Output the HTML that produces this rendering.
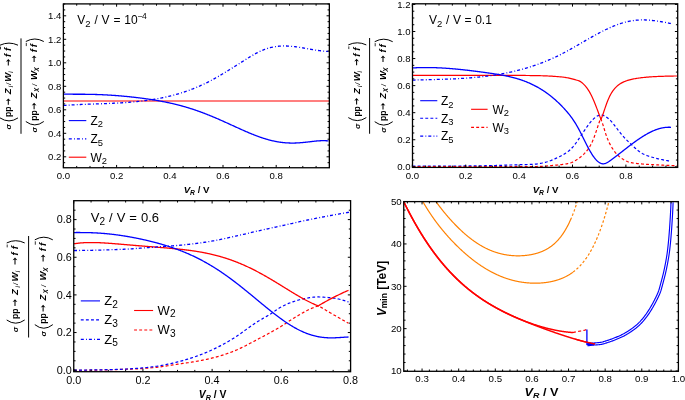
<!DOCTYPE html>
<html><head><meta charset="utf-8"><style>
html,body{margin:0;padding:0;background:#fff;width:685px;height:400px;overflow:hidden}
svg{display:block;will-change:transform}
text{font-family:"Liberation Sans", sans-serif;fill:#000}
</style></head><body>
<svg width="685" height="400" viewBox="0 0 685 400">
<rect width="685" height="400" fill="#fff"/>
<path d="M63.5,100.9 L329,100.9" fill="none" stroke="#ff0000" stroke-width="1.05" stroke-linejoin="round"/>
<path d="M63.5,94.1 L64,94.12 L64.5,94.13 L65,94.14 L65.5,94.15 L66,94.16 L66.5,94.17 L67,94.18 L67.5,94.19 L68,94.19 L68.5,94.2 L69,94.2 L69.5,94.21 L70,94.21 L70.5,94.21 L71,94.22 L71.5,94.22 L72,94.22 L72.5,94.22 L73,94.23 L73.5,94.23 L74,94.23 L74.5,94.23 L75,94.23 L75.5,94.23 L76,94.23 L76.5,94.23 L77,94.23 L77.5,94.24 L78,94.24 L78.5,94.24 L79,94.24 L79.5,94.24 L80,94.24 L80.5,94.24 L81,94.25 L81.5,94.25 L82,94.25 L82.5,94.25 L83,94.26 L83.5,94.26 L84,94.26 L84.5,94.27 L85,94.27 L85.5,94.28 L86,94.28 L86.5,94.29 L87,94.3 L87.5,94.3 L88,94.31 L88.5,94.32 L89,94.33 L89.5,94.33 L90,94.34 L90.5,94.35 L91,94.36 L91.5,94.37 L92,94.38 L92.5,94.4 L93,94.41 L93.5,94.42 L94,94.43 L94.5,94.45 L95,94.46 L95.5,94.48 L96,94.49 L96.5,94.51 L97,94.52 L97.5,94.54 L98,94.56 L98.5,94.58 L99,94.59 L99.5,94.61 L100,94.63 L100.5,94.65 L101,94.67 L101.5,94.7 L102,94.72 L102.5,94.74 L103,94.76 L103.5,94.79 L104,94.81 L104.5,94.84 L105,94.86 L105.5,94.89 L106,94.91 L106.5,94.94 L107,94.97 L107.5,95 L108,95.03 L108.5,95.06 L109,95.09 L109.5,95.12 L110,95.15 L110.5,95.18 L111,95.21 L111.5,95.24 L112,95.28 L112.5,95.31 L113,95.34 L113.5,95.38 L114,95.41 L114.5,95.45 L115,95.49 L115.5,95.52 L116,95.56 L116.5,95.6 L117,95.64 L117.5,95.68 L118,95.72 L118.5,95.76 L119,95.8 L119.5,95.84 L120,95.88 L120.5,95.92 L121,95.96 L121.5,96.01 L122,96.05 L122.5,96.1 L123,96.14 L123.5,96.19 L124,96.23 L124.5,96.28 L125,96.32 L125.5,96.37 L126,96.42 L126.5,96.47 L127,96.52 L127.5,96.57 L128,96.62 L128.5,96.67 L129,96.72 L129.5,96.77 L130,96.82 L130.5,96.87 L131,96.93 L131.5,96.98 L132,97.03 L132.5,97.09 L133,97.14 L133.5,97.2 L134,97.25 L134.5,97.31 L135,97.37 L135.5,97.43 L136,97.48 L136.5,97.54 L137,97.6 L137.5,97.66 L138,97.72 L138.5,97.78 L139,97.85 L139.5,97.91 L140,97.97 L140.5,98.03 L141,98.1 L141.5,98.16 L142,98.23 L142.5,98.29 L143,98.36 L143.5,98.43 L144,98.49 L144.5,98.56 L145,98.63 L145.5,98.7 L146,98.77 L146.5,98.84 L147,98.91 L147.5,98.98 L148,99.06 L148.5,99.13 L149,99.21 L149.5,99.28 L150,99.36 L150.5,99.43 L151,99.51 L151.5,99.59 L152,99.66 L152.5,99.74 L153,99.82 L153.5,99.9 L154,99.99 L154.5,100.07 L155,100.15 L155.5,100.23 L156,100.32 L156.5,100.4 L157,100.49 L157.5,100.58 L158,100.66 L158.5,100.75 L159,100.84 L159.5,100.93 L160,101.02 L160.5,101.12 L161,101.21 L161.5,101.3 L162,101.4 L162.5,101.49 L163,101.59 L163.5,101.69 L164,101.78 L164.5,101.88 L165,101.98 L165.5,102.08 L166,102.19 L166.5,102.29 L167,102.39 L167.5,102.5 L168,102.6 L168.5,102.71 L169,102.82 L169.5,102.93 L170,103.04 L170.5,103.15 L171,103.26 L171.5,103.37 L172,103.49 L172.5,103.6 L173,103.72 L173.5,103.84 L174,103.96 L174.5,104.07 L175,104.2 L175.5,104.32 L176,104.44 L176.5,104.56 L177,104.69 L177.5,104.82 L178,104.94 L178.5,105.07 L179,105.2 L179.5,105.33 L180,105.46 L180.5,105.6 L181,105.73 L181.5,105.87 L182,106 L182.5,106.14 L183,106.28 L183.5,106.42 L184,106.56 L184.5,106.7 L185,106.85 L185.5,106.99 L186,107.14 L186.5,107.29 L187,107.44 L187.5,107.59 L188,107.74 L188.5,107.89 L189,108.04 L189.5,108.2 L190,108.35 L190.5,108.51 L191,108.67 L191.5,108.83 L192,108.99 L192.5,109.15 L193,109.32 L193.5,109.48 L194,109.65 L194.5,109.81 L195,109.98 L195.5,110.15 L196,110.32 L196.5,110.5 L197,110.67 L197.5,110.84 L198,111.02 L198.5,111.2 L199,111.37 L199.5,111.55 L200,111.73 L200.5,111.92 L201,112.1 L201.5,112.28 L202,112.47 L202.5,112.65 L203,112.84 L203.5,113.03 L204,113.22 L204.5,113.41 L205,113.6 L205.5,113.8 L206,113.99 L206.5,114.19 L207,114.38 L207.5,114.58 L208,114.78 L208.5,114.98 L209,115.18 L209.5,115.38 L210,115.59 L210.5,115.79 L211,115.99 L211.5,116.2 L212,116.41 L212.5,116.61 L213,116.82 L213.5,117.03 L214,117.24 L214.5,117.45 L215,117.67 L215.5,117.88 L216,118.09 L216.5,118.31 L217,118.52 L217.5,118.74 L218,118.96 L218.5,119.17 L219,119.39 L219.5,119.61 L220,119.83 L220.5,120.05 L221,120.27 L221.5,120.49 L222,120.72 L222.5,120.94 L223,121.16 L223.5,121.39 L224,121.61 L224.5,121.84 L225,122.06 L225.5,122.29 L226,122.51 L226.5,122.74 L227,122.97 L227.5,123.19 L228,123.42 L228.5,123.65 L229,123.88 L229.5,124.1 L230,124.33 L230.5,124.56 L231,124.79 L231.5,125.02 L232,125.25 L232.5,125.48 L233,125.7 L233.5,125.93 L234,126.16 L234.5,126.39 L235,126.62 L235.5,126.85 L236,127.07 L236.5,127.3 L237,127.53 L237.5,127.76 L238,127.98 L238.5,128.21 L239,128.44 L239.5,128.66 L240,128.89 L240.5,129.11 L241,129.34 L241.5,129.56 L242,129.78 L242.5,130.01 L243,130.23 L243.5,130.45 L244,130.67 L244.5,130.89 L245,131.11 L245.5,131.32 L246,131.54 L246.5,131.76 L247,131.97 L247.5,132.19 L248,132.4 L248.5,132.61 L249,132.82 L249.5,133.03 L250,133.24 L250.5,133.45 L251,133.65 L251.5,133.86 L252,134.06 L252.5,134.26 L253,134.46 L253.5,134.66 L254,134.86 L254.5,135.05 L255,135.25 L255.5,135.44 L256,135.63 L256.5,135.82 L257,136.01 L257.5,136.19 L258,136.38 L258.5,136.56 L259,136.74 L259.5,136.92 L260,137.09 L260.5,137.27 L261,137.44 L261.5,137.61 L262,137.78 L262.5,137.94 L263,138.11 L263.5,138.27 L264,138.43 L264.5,138.58 L265,138.74 L265.5,138.89 L266,139.04 L266.5,139.19 L267,139.33 L267.5,139.48 L268,139.62 L268.5,139.76 L269,139.89 L269.5,140.02 L270,140.15 L270.5,140.28 L271,140.41 L271.5,140.53 L272,140.65 L272.5,140.76 L273,140.88 L273.5,140.99 L274,141.1 L274.5,141.2 L275,141.31 L275.5,141.41 L276,141.5 L276.5,141.6 L277,141.69 L277.5,141.78 L278,141.86 L278.5,141.95 L279,142.03 L279.5,142.1 L280,142.18 L280.5,142.25 L281,142.32 L281.5,142.38 L282,142.44 L282.5,142.5 L283,142.56 L283.5,142.61 L284,142.66 L284.5,142.71 L285,142.75 L285.5,142.79 L286,142.83 L286.5,142.86 L287,142.89 L287.5,142.92 L288,142.95 L288.5,142.97 L289,142.99 L289.5,143.01 L290,143.02 L290.5,143.04 L291,143.04 L291.5,143.05 L292,143.05 L292.5,143.05 L293,143.05 L293.5,143.05 L294,143.04 L294.5,143.03 L295,143.02 L295.5,143 L296,142.98 L296.5,142.96 L297,142.94 L297.5,142.91 L298,142.89 L298.5,142.86 L299,142.83 L299.5,142.79 L300,142.76 L300.5,142.72 L301,142.68 L301.5,142.64 L302,142.59 L302.5,142.55 L303,142.5 L303.5,142.45 L304,142.41 L304.5,142.35 L305,142.3 L305.5,142.25 L306,142.19 L306.5,142.14 L307,142.08 L307.5,142.03 L308,141.97 L308.5,141.91 L309,141.85 L309.5,141.79 L310,141.74 L310.5,141.68 L311,141.62 L311.5,141.56 L312,141.5 L312.5,141.44 L313,141.39 L313.5,141.33 L314,141.28 L314.5,141.22 L315,141.17 L315.5,141.12 L316,141.07 L316.5,141.02 L317,140.97 L317.5,140.93 L318,140.89 L318.5,140.85 L319,140.82 L319.5,140.78 L320,140.75 L320.5,140.73 L321,140.7 L321.5,140.68 L322,140.67 L322.5,140.66 L323,140.65 L323.5,140.65 L324,140.66 L324.5,140.66 L325,140.68 L325.5,140.7 L326,140.73 L326.5,140.76 L327,140.8 L327.5,140.84 L328,140.9 L328.5,140.96" fill="none" stroke="#0000ff" stroke-width="1.3" stroke-linejoin="round"/>
<path d="M63.5,105.45 L64,105.42 L64.5,105.38 L65,105.35 L65.5,105.31 L66,105.28 L66.5,105.25 L67,105.22 L67.5,105.19 L68,105.15 L68.5,105.12 L69,105.09 L69.5,105.06 L70,105.03 L70.5,105.01 L71,104.98 L71.5,104.95 L72,104.92 L72.5,104.9 L73,104.87 L73.5,104.84 L74,104.82 L74.5,104.79 L75,104.77 L75.5,104.74 L76,104.72 L76.5,104.69 L77,104.67 L77.5,104.65 L78,104.62 L78.5,104.6 L79,104.58 L79.5,104.56 L80,104.54 L80.5,104.51 L81,104.49 L81.5,104.47 L82,104.45 L82.5,104.43 L83,104.41 L83.5,104.39 L84,104.37 L84.5,104.35 L85,104.33 L85.5,104.31 L86,104.29 L86.5,104.27 L87,104.26 L87.5,104.24 L88,104.22 L88.5,104.2 L89,104.18 L89.5,104.16 L90,104.15 L90.5,104.13 L91,104.11 L91.5,104.09 L92,104.07 L92.5,104.06 L93,104.04 L93.5,104.02 L94,104 L94.5,103.99 L95,103.97 L95.5,103.95 L96,103.93 L96.5,103.92 L97,103.9 L97.5,103.88 L98,103.86 L98.5,103.85 L99,103.83 L99.5,103.81 L100,103.79 L100.5,103.77 L101,103.75 L101.5,103.74 L102,103.72 L102.5,103.7 L103,103.68 L103.5,103.66 L104,103.64 L104.5,103.62 L105,103.6 L105.5,103.58 L106,103.56 L106.5,103.54 L107,103.52 L107.5,103.5 L108,103.48 L108.5,103.46 L109,103.44 L109.5,103.42 L110,103.4 L110.5,103.38 L111,103.35 L111.5,103.33 L112,103.31 L112.5,103.28 L113,103.26 L113.5,103.24 L114,103.21 L114.5,103.19 L115,103.16 L115.5,103.14 L116,103.11 L116.5,103.09 L117,103.06 L117.5,103.03 L118,103 L118.5,102.98 L119,102.95 L119.5,102.92 L120,102.89 L120.5,102.86 L121,102.83 L121.5,102.8 L122,102.77 L122.5,102.74 L123,102.71 L123.5,102.67 L124,102.64 L124.5,102.61 L125,102.57 L125.5,102.54 L126,102.5 L126.5,102.47 L127,102.43 L127.5,102.39 L128,102.35 L128.5,102.32 L129,102.28 L129.5,102.24 L130,102.2 L130.5,102.16 L131,102.11 L131.5,102.07 L132,102.03 L132.5,101.98 L133,101.94 L133.5,101.9 L134,101.85 L134.5,101.8 L135,101.76 L135.5,101.71 L136,101.66 L136.5,101.61 L137,101.56 L137.5,101.51 L138,101.46 L138.5,101.4 L139,101.35 L139.5,101.3 L140,101.24 L140.5,101.19 L141,101.13 L141.5,101.07 L142,101.01 L142.5,100.95 L143,100.89 L143.5,100.83 L144,100.77 L144.5,100.71 L145,100.64 L145.5,100.58 L146,100.51 L146.5,100.44 L147,100.38 L147.5,100.31 L148,100.24 L148.5,100.17 L149,100.1 L149.5,100.02 L150,99.95 L150.5,99.88 L151,99.8 L151.5,99.72 L152,99.65 L152.5,99.57 L153,99.49 L153.5,99.41 L154,99.32 L154.5,99.24 L155,99.16 L155.5,99.07 L156,98.98 L156.5,98.9 L157,98.81 L157.5,98.72 L158,98.63 L158.5,98.53 L159,98.44 L159.5,98.35 L160,98.25 L160.5,98.15 L161,98.05 L161.5,97.96 L162,97.85 L162.5,97.75 L163,97.65 L163.5,97.54 L164,97.44 L164.5,97.33 L165,97.22 L165.5,97.11 L166,97 L166.5,96.89 L167,96.78 L167.5,96.66 L168,96.55 L168.5,96.43 L169,96.31 L169.5,96.19 L170,96.07 L170.5,95.94 L171,95.82 L171.5,95.69 L172,95.57 L172.5,95.44 L173,95.31 L173.5,95.17 L174,95.04 L174.5,94.91 L175,94.77 L175.5,94.63 L176,94.49 L176.5,94.35 L177,94.21 L177.5,94.07 L178,93.92 L178.5,93.77 L179,93.63 L179.5,93.48 L180,93.32 L180.5,93.17 L181,93.02 L181.5,92.86 L182,92.7 L182.5,92.54 L183,92.38 L183.5,92.22 L184,92.06 L184.5,91.89 L185,91.72 L185.5,91.55 L186,91.38 L186.5,91.21 L187,91.03 L187.5,90.86 L188,90.68 L188.5,90.5 L189,90.32 L189.5,90.14 L190,89.95 L190.5,89.77 L191,89.58 L191.5,89.39 L192,89.2 L192.5,89 L193,88.81 L193.5,88.61 L194,88.41 L194.5,88.21 L195,88.01 L195.5,87.8 L196,87.59 L196.5,87.39 L197,87.18 L197.5,86.96 L198,86.75 L198.5,86.53 L199,86.31 L199.5,86.1 L200,85.87 L200.5,85.65 L201,85.42 L201.5,85.2 L202,84.97 L202.5,84.73 L203,84.5 L203.5,84.27 L204,84.03 L204.5,83.79 L205,83.55 L205.5,83.3 L206,83.06 L206.5,82.81 L207,82.56 L207.5,82.31 L208,82.05 L208.5,81.8 L209,81.54 L209.5,81.28 L210,81.02 L210.5,80.75 L211,80.49 L211.5,80.22 L212,79.95 L212.5,79.68 L213,79.41 L213.5,79.14 L214,78.86 L214.5,78.58 L215,78.31 L215.5,78.03 L216,77.74 L216.5,77.46 L217,77.18 L217.5,76.89 L218,76.6 L218.5,76.32 L219,76.03 L219.5,75.74 L220,75.44 L220.5,75.15 L221,74.86 L221.5,74.56 L222,74.26 L222.5,73.97 L223,73.67 L223.5,73.37 L224,73.07 L224.5,72.76 L225,72.46 L225.5,72.16 L226,71.85 L226.5,71.55 L227,71.24 L227.5,70.93 L228,70.63 L228.5,70.32 L229,70.01 L229.5,69.7 L230,69.39 L230.5,69.08 L231,68.77 L231.5,68.46 L232,68.14 L232.5,67.83 L233,67.52 L233.5,67.2 L234,66.89 L234.5,66.58 L235,66.26 L235.5,65.95 L236,65.63 L236.5,65.32 L237,65 L237.5,64.69 L238,64.37 L238.5,64.06 L239,63.74 L239.5,63.43 L240,63.11 L240.5,62.79 L241,62.48 L241.5,62.16 L242,61.85 L242.5,61.53 L243,61.22 L243.5,60.9 L244,60.59 L244.5,60.28 L245,59.96 L245.5,59.65 L246,59.34 L246.5,59.03 L247,58.71 L247.5,58.4 L248,58.09 L248.5,57.78 L249,57.47 L249.5,57.17 L250,56.86 L250.5,56.56 L251,56.25 L251.5,55.95 L252,55.66 L252.5,55.36 L253,55.07 L253.5,54.78 L254,54.49 L254.5,54.21 L255,53.93 L255.5,53.65 L256,53.38 L256.5,53.11 L257,52.84 L257.5,52.58 L258,52.32 L258.5,52.07 L259,51.82 L259.5,51.58 L260,51.34 L260.5,51.11 L261,50.89 L261.5,50.67 L262,50.45 L262.5,50.24 L263,50.04 L263.5,49.84 L264,49.65 L264.5,49.46 L265,49.28 L265.5,49.1 L266,48.93 L266.5,48.76 L267,48.6 L267.5,48.44 L268,48.29 L268.5,48.15 L269,48.01 L269.5,47.87 L270,47.74 L270.5,47.61 L271,47.49 L271.5,47.38 L272,47.27 L272.5,47.16 L273,47.06 L273.5,46.96 L274,46.87 L274.5,46.78 L275,46.7 L275.5,46.62 L276,46.55 L276.5,46.48 L277,46.41 L277.5,46.35 L278,46.3 L278.5,46.24 L279,46.2 L279.5,46.15 L280,46.12 L280.5,46.08 L281,46.05 L281.5,46.03 L282,46.01 L282.5,45.99 L283,45.98 L283.5,45.97 L284,45.96 L284.5,45.96 L285,45.96 L285.5,45.97 L286,45.98 L286.5,45.99 L287,46.01 L287.5,46.03 L288,46.06 L288.5,46.08 L289,46.11 L289.5,46.15 L290,46.18 L290.5,46.22 L291,46.27 L291.5,46.31 L292,46.36 L292.5,46.41 L293,46.46 L293.5,46.52 L294,46.58 L294.5,46.64 L295,46.7 L295.5,46.76 L296,46.83 L296.5,46.9 L297,46.97 L297.5,47.04 L298,47.11 L298.5,47.19 L299,47.26 L299.5,47.34 L300,47.42 L300.5,47.5 L301,47.58 L301.5,47.67 L302,47.75 L302.5,47.83 L303,47.92 L303.5,48.01 L304,48.09 L304.5,48.18 L305,48.27 L305.5,48.36 L306,48.44 L306.5,48.53 L307,48.62 L307.5,48.71 L308,48.8 L308.5,48.89 L309,48.98 L309.5,49.07 L310,49.15 L310.5,49.24 L311,49.33 L311.5,49.41 L312,49.5 L312.5,49.58 L313,49.67 L313.5,49.75 L314,49.83 L314.5,49.91 L315,49.99 L315.5,50.07 L316,50.15 L316.5,50.22 L317,50.3 L317.5,50.37 L318,50.44 L318.5,50.51 L319,50.58 L319.5,50.64 L320,50.71 L320.5,50.77 L321,50.82 L321.5,50.88 L322,50.93 L322.5,50.99 L323,51.03 L323.5,51.08 L324,51.12 L324.5,51.16 L325,51.2 L325.5,51.24 L326,51.27 L326.5,51.3 L327,51.32 L327.5,51.34 L328,51.36 L328.5,51.38" fill="none" stroke="#0000ff" stroke-width="1.3" stroke-dasharray="3 2.2 0.9 2" stroke-linejoin="round"/>
<path d="M63.4,167.75v-2.8 M63.4,3.9v2.8 M116.6,167.75v-2.8 M116.6,3.9v2.8 M169.8,167.75v-2.8 M169.8,3.9v2.8 M223,167.75v-2.8 M223,3.9v2.8 M276.2,167.75v-2.8 M276.2,3.9v2.8 M76.7,167.75v-1.8 M76.7,3.9v1.8 M90,167.75v-1.8 M90,3.9v1.8 M103.3,167.75v-1.8 M103.3,3.9v1.8 M129.9,167.75v-1.8 M129.9,3.9v1.8 M143.2,167.75v-1.8 M143.2,3.9v1.8 M156.5,167.75v-1.8 M156.5,3.9v1.8 M183.1,167.75v-1.8 M183.1,3.9v1.8 M196.4,167.75v-1.8 M196.4,3.9v1.8 M209.7,167.75v-1.8 M209.7,3.9v1.8 M236.3,167.75v-1.8 M236.3,3.9v1.8 M249.6,167.75v-1.8 M249.6,3.9v1.8 M262.9,167.75v-1.8 M262.9,3.9v1.8 M289.5,167.75v-1.8 M289.5,3.9v1.8 M302.8,167.75v-1.8 M302.8,3.9v1.8 M316.1,167.75v-1.8 M316.1,3.9v1.8 M63.4,156.8h2.8 M329.35,156.8h-2.8 M63.4,133.3h2.8 M329.35,133.3h-2.8 M63.4,109.8h2.8 M329.35,109.8h-2.8 M63.4,86.3h2.8 M329.35,86.3h-2.8 M63.4,62.8h2.8 M329.35,62.8h-2.8 M63.4,39.3h2.8 M329.35,39.3h-2.8 M63.4,15.8h2.8 M329.35,15.8h-2.8 M63.4,162.68h1.8 M329.35,162.68h-1.8 M63.4,150.93h1.8 M329.35,150.93h-1.8 M63.4,145.05h1.8 M329.35,145.05h-1.8 M63.4,139.18h1.8 M329.35,139.18h-1.8 M63.4,127.43h1.8 M329.35,127.43h-1.8 M63.4,121.55h1.8 M329.35,121.55h-1.8 M63.4,115.68h1.8 M329.35,115.68h-1.8 M63.4,103.93h1.8 M329.35,103.93h-1.8 M63.4,98.05h1.8 M329.35,98.05h-1.8 M63.4,92.18h1.8 M329.35,92.18h-1.8 M63.4,80.43h1.8 M329.35,80.43h-1.8 M63.4,74.55h1.8 M329.35,74.55h-1.8 M63.4,68.68h1.8 M329.35,68.68h-1.8 M63.4,56.93h1.8 M329.35,56.93h-1.8 M63.4,51.05h1.8 M329.35,51.05h-1.8 M63.4,45.18h1.8 M329.35,45.18h-1.8 M63.4,33.43h1.8 M329.35,33.43h-1.8 M63.4,27.55h1.8 M329.35,27.55h-1.8 M63.4,21.68h1.8 M329.35,21.68h-1.8 M63.4,9.93h1.8 M329.35,9.93h-1.8 M63.4,4.05h1.8 M329.35,4.05h-1.8" stroke="#000" stroke-width="1" fill="none"/>
<rect x="63.4" y="3.9" width="265.95" height="163.85" fill="none" stroke="#000" stroke-width="1.3"/>
<text x="63.4" y="179.25" text-anchor="middle" font-size="9.6">0.0</text>
<text x="116.6" y="179.25" text-anchor="middle" font-size="9.6">0.2</text>
<text x="169.8" y="179.25" text-anchor="middle" font-size="9.6">0.4</text>
<text x="223" y="179.25" text-anchor="middle" font-size="9.6">0.6</text>
<text x="276.2" y="179.25" text-anchor="middle" font-size="9.6">0.8</text>
<text x="61.4" y="160.26" text-anchor="end" font-size="9.6">0.2</text>
<text x="61.4" y="136.76" text-anchor="end" font-size="9.6">0.4</text>
<text x="61.4" y="113.26" text-anchor="end" font-size="9.6">0.6</text>
<text x="61.4" y="89.76" text-anchor="end" font-size="9.6">0.8</text>
<text x="61.4" y="66.26" text-anchor="end" font-size="9.6">1.0</text>
<text x="61.4" y="42.76" text-anchor="end" font-size="9.6">1.2</text>
<text x="61.4" y="19.26" text-anchor="end" font-size="9.6">1.4</text>
<text x="77.3" y="24" font-size="12" word-spacing="0.5">V<tspan font-size="9.5" dy="2.5">2</tspan><tspan dy="-2.5"> / V = 10</tspan><tspan font-size="8.5" dy="-5.5" letter-spacing="-0.5">−4</tspan></text>
<line x1="68.8" y1="120.6" x2="86.3" y2="120.6" stroke="#0000ff" stroke-width="1.1"/>
<text x="90.5" y="124.9" font-size="12">Z<tspan font-size="9.36" dy="2.5">2</tspan></text>
<line x1="68.8" y1="138.9" x2="86.3" y2="138.9" stroke="#0000ff" stroke-width="1.1" stroke-dasharray="3 2.2 0.9 2"/>
<text x="90.5" y="143.2" font-size="12">Z<tspan font-size="9.36" dy="2.5">5</tspan></text>
<line x1="68.8" y1="157.2" x2="86.3" y2="157.2" stroke="#ff0000" stroke-width="1.1"/>
<text x="90.5" y="161.5" font-size="12">W<tspan font-size="9.36" dy="2.5">2</tspan></text>
<g transform="translate(196.6,192.8) scale(1.0,1)"><text x="0" y="0" text-anchor="middle" font-size="9.7" font-weight="bold"><tspan font-style="italic">V</tspan><tspan font-style="italic" font-size="6.789999999999999" dy="2">R</tspan><tspan dy="-2"> / V</tspan></text></g>
<line x1="21" y1="38.4" x2="21" y2="133.8" stroke="#000" stroke-width="1"/>
<g transform="translate(11.2,129.5) rotate(-90)"><text x="0.1" y="0" font-size="8.07" font-weight="bold" font-style="italic">σ</text><text x="12.6" y="0" font-size="8.55" font-weight="bold">pp</text><text x="35.15" y="0" font-size="9.5" font-weight="bold" font-style="italic">Z</text><text x="42.2" y="2.2" font-size="6.5" font-style="italic">i</text><text x="56.7" y="2.2" font-size="6.5" font-style="italic">i</text><text x="44.8" y="0" font-size="6.5" font-style="italic">/</text><text x="47.85" y="0" font-size="9.5" font-weight="bold" font-style="italic">W</text><text x="72.4" y="0" font-size="9.5" font-weight="bold" font-style="italic">f</text><text x="78.4" y="0" font-size="9.5" font-weight="bold" font-style="italic">f</text><path d="M24.7,-2.9H29.6" stroke="#000" stroke-width="1.05" fill="none"/><path d="M31.1,-2.9L28.4,-5.3L29.1,-2.9L28.4,-0.5Z" fill="#000"/><path d="M63.9,-2.9H69" stroke="#000" stroke-width="1.05" fill="none"/><path d="M70.5,-2.9L67.8,-5.3L68.5,-2.9L67.8,-0.5Z" fill="#000"/><path d="M80.1,-10.7H82.8" stroke="#000" stroke-width="0.8"/><path d="M11.6,-11.2Q5.6,-2.2 11.6,6.8" stroke="#000" stroke-width="1" fill="none"/><path d="M84.3,-11.2Q88.5,-2.2 84.3,6.8" stroke="#000" stroke-width="1" fill="none"/></g>
<g transform="translate(37,132.5) rotate(-90)"><text x="-0.1" y="0" font-size="8.07" font-weight="bold" font-style="italic">σ</text><text x="11.8" y="0" font-size="8.55" font-weight="bold">pp</text><text x="33.9" y="0" font-size="9.5" font-weight="bold" font-style="italic">Z</text><text x="40.5" y="2.2" font-size="6.3" font-weight="bold" font-style="italic">X</text><text x="61" y="2.2" font-size="6.3" font-weight="bold" font-style="italic">X</text><text x="46.7" y="0" font-size="6.5" font-style="italic">/</text><text x="52.6" y="0" font-size="9.5" font-weight="bold" font-style="italic">W</text><text x="80.2" y="0" font-size="9.5" font-weight="bold" font-style="italic">f</text><text x="85.2" y="0" font-size="9.5" font-weight="bold" font-style="italic">f</text><path d="M23.3,-2.9H28.3" stroke="#000" stroke-width="1.05" fill="none"/><path d="M29.8,-2.9L27.1,-5.3L27.8,-2.9L27.1,-0.5Z" fill="#000"/><path d="M70.6,-2.9H75.6" stroke="#000" stroke-width="1.05" fill="none"/><path d="M77.1,-2.9L74.4,-5.3L75.1,-2.9L74.4,-0.5Z" fill="#000"/><path d="M86.4,-10.7H89.6" stroke="#000" stroke-width="0.8"/><path d="M11,-11.2Q4.2,-2.2 11,6.8" stroke="#000" stroke-width="1" fill="none"/><path d="M91,-11.2Q96,-2.2 91,6.8" stroke="#000" stroke-width="1" fill="none"/></g>
<path d="M412.5,166.2 L413.5,166.2 L414.5,166.2 L415.5,166.2 L416.5,166.2 L417.5,166.2 L418.49,166.2 L419.49,166.19 L420.49,166.19 L421.49,166.19 L422.49,166.19 L423.49,166.19 L424.49,166.18 L425.49,166.18 L426.49,166.18 L427.49,166.18 L428.48,166.17 L429.48,166.17 L430.48,166.17 L431.48,166.16 L432.48,166.16 L433.48,166.15 L434.48,166.15 L435.48,166.15 L436.48,166.14 L437.48,166.14 L438.47,166.13 L439.47,166.13 L440.47,166.12 L441.47,166.12 L442.47,166.11 L443.47,166.1 L444.47,166.1 L445.47,166.09 L446.47,166.09 L447.47,166.08 L448.47,166.07 L449.46,166.07 L450.46,166.06 L451.46,166.05 L452.46,166.04 L453.46,166.04 L454.46,166.03 L455.46,166.02 L456.46,166.01 L457.46,166.01 L458.46,166 L459.45,165.99 L460.45,165.98 L461.45,165.97 L462.45,165.97 L463.45,165.96 L464.45,165.95 L465.45,165.94 L466.45,165.93 L467.45,165.92 L468.45,165.91 L469.44,165.9 L470.44,165.89 L471.44,165.88 L472.44,165.88 L473.44,165.87 L474.44,165.86 L475.44,165.85 L476.44,165.84 L477.44,165.83 L478.44,165.82 L479.44,165.8 L480.43,165.79 L481.43,165.78 L482.43,165.77 L483.43,165.75 L484.43,165.74 L485.43,165.72 L486.43,165.7 L487.43,165.68 L488.43,165.66 L489.43,165.64 L490.42,165.62 L491.42,165.59 L492.42,165.57 L493.42,165.54 L494.42,165.51 L495.42,165.49 L496.42,165.46 L497.42,165.43 L498.42,165.4 L499.42,165.37 L500.42,165.34 L501.41,165.31 L502.41,165.27 L503.41,165.24 L504.41,165.21 L505.41,165.18 L506.41,165.14 L507.41,165.11 L508.41,165.08 L509.41,165.04 L510.41,165.01 L511.4,164.98 L512.4,164.94 L513.4,164.91 L514.4,164.88 L515.4,164.85 L516.4,164.81 L517.4,164.78 L518.4,164.75 L519.4,164.72 L520.4,164.69 L521.39,164.66 L522.39,164.64 L523.39,164.61 L524.39,164.58 L525.39,164.56 L526.39,164.53 L527.39,164.5 L528.39,164.47 L529.39,164.44 L530.39,164.4 L531.39,164.37 L532.38,164.32 L533.38,164.27 L534.38,164.21 L535.38,164.13 L536.38,164.04 L537.38,163.92 L538.38,163.78 L539.38,163.62 L540.38,163.44 L541.38,163.24 L542.37,163.02 L543.37,162.79 L544.37,162.55 L545.37,162.3 L546.37,162.03 L547.37,161.74 L548.37,161.42 L549.37,161.08 L550.37,160.72 L551.37,160.33 L552.36,159.92 L553.36,159.49 L554.36,159.05 L555.36,158.59 L556.36,158.13 L557.36,157.65 L558.36,157.17 L559.36,156.68 L560.36,156.18 L561.36,155.66 L562.36,155.13 L563.35,154.57 L564.35,153.98 L565.35,153.37 L566.35,152.72 L567.35,152.03 L568.35,151.28 L569.35,150.47 L570.35,149.59 L571.35,148.61 L572.35,147.53 L573.34,146.37 L574.34,145.13 L575.34,143.83 L576.34,142.49 L577.34,141.1 L578.34,139.67 L579.34,138.2 L580.34,136.7 L581.34,135.18 L582.34,133.66 L583.33,132.15 L584.33,130.65 L585.33,129.17 L586.33,127.7 L587.33,126.28 L588.33,124.91 L589.33,123.6 L590.33,122.37 L591.33,121.21 L592.33,120.12 L593.33,119.11 L594.32,118.18 L595.32,117.35 L596.32,116.63 L597.32,116.03 L598.32,115.56 L599.32,115.22 L600.32,115.03 L601.32,115.01 L602.32,115.15 L603.32,115.43 L604.31,115.85 L605.31,116.38 L606.31,117.01 L607.31,117.73 L608.31,118.54 L609.31,119.43 L610.31,120.4 L611.31,121.44 L612.31,122.56 L613.31,123.75 L614.31,125.02 L615.3,126.33 L616.3,127.66 L617.3,128.99 L618.3,130.29 L619.3,131.57 L620.3,132.82 L621.3,134.05 L622.3,135.25 L623.3,136.41 L624.3,137.53 L625.29,138.61 L626.29,139.64 L627.29,140.64 L628.29,141.6 L629.29,142.54 L630.29,143.48 L631.29,144.42 L632.29,145.37 L633.29,146.31 L634.29,147.26 L635.28,148.19 L636.28,149.1 L637.28,149.97 L638.28,150.8 L639.28,151.58 L640.28,152.29 L641.28,152.93 L642.28,153.51 L643.28,154.02 L644.28,154.49 L645.28,154.92 L646.27,155.32 L647.27,155.69 L648.27,156.04 L649.27,156.37 L650.27,156.68 L651.27,156.98 L652.27,157.26 L653.27,157.53 L654.27,157.8 L655.27,158.06 L656.26,158.31 L657.26,158.56 L658.26,158.8 L659.26,159.03 L660.26,159.26 L661.26,159.48 L662.26,159.7 L663.26,159.91 L664.26,160.11 L665.26,160.3 L666.25,160.48 L667.25,160.65 L668.25,160.81 L669.25,160.96 L670.25,161.11 L671.25,161.25" fill="none" stroke="#0000ff" stroke-width="1.2" stroke-dasharray="2.9 2.2" stroke-linejoin="round"/>
<path d="M412.5,166.5 L413.49,166.5 L414.49,166.5 L415.48,166.5 L416.48,166.5 L417.47,166.5 L418.47,166.5 L419.46,166.5 L420.46,166.5 L421.45,166.5 L422.45,166.5 L423.44,166.5 L424.44,166.5 L425.43,166.5 L426.43,166.5 L427.42,166.5 L428.42,166.5 L429.41,166.5 L430.4,166.5 L431.4,166.5 L432.39,166.5 L433.39,166.5 L434.38,166.5 L435.38,166.5 L436.37,166.5 L437.37,166.5 L438.36,166.5 L439.36,166.5 L440.35,166.5 L441.35,166.5 L442.34,166.5 L443.34,166.5 L444.33,166.5 L445.33,166.5 L446.32,166.5 L447.31,166.5 L448.31,166.5 L449.3,166.5 L450.3,166.5 L451.29,166.5 L452.29,166.5 L453.28,166.5 L454.28,166.5 L455.27,166.5 L456.27,166.5 L457.26,166.5 L458.26,166.5 L459.25,166.5 L460.25,166.5 L461.24,166.5 L462.24,166.5 L463.23,166.5 L464.22,166.5 L465.22,166.5 L466.21,166.5 L467.21,166.5 L468.2,166.5 L469.2,166.5 L470.19,166.5 L471.19,166.5 L472.18,166.5 L473.18,166.5 L474.17,166.5 L475.17,166.5 L476.16,166.5 L477.16,166.5 L478.15,166.5 L479.15,166.5 L480.14,166.5 L481.13,166.5 L482.13,166.5 L483.12,166.5 L484.12,166.5 L485.11,166.5 L486.11,166.5 L487.1,166.5 L488.1,166.5 L489.09,166.5 L490.09,166.5 L491.08,166.5 L492.08,166.5 L493.07,166.5 L494.07,166.5 L495.06,166.5 L496.06,166.5 L497.05,166.5 L498.04,166.5 L499.04,166.5 L500.03,166.5 L501.03,166.5 L502.02,166.5 L503.02,166.5 L504.01,166.5 L505.01,166.5 L506,166.5 L507,166.5 L507.99,166.5 L508.99,166.5 L509.98,166.5 L510.98,166.5 L511.97,166.5 L512.97,166.5 L513.96,166.5 L514.96,166.5 L515.95,166.5 L516.94,166.5 L517.94,166.5 L518.93,166.5 L519.93,166.5 L520.92,166.5 L521.92,166.5 L522.91,166.5 L523.91,166.5 L524.9,166.5 L525.9,166.5 L526.89,166.5 L527.89,166.5 L528.88,166.5 L529.88,166.5 L530.87,166.5 L531.87,166.5 L532.86,166.5 L533.85,166.5 L534.85,166.5 L535.84,166.49 L536.84,166.48 L537.83,166.46 L538.83,166.43 L539.82,166.4 L540.82,166.36 L541.81,166.31 L542.81,166.25 L543.8,166.19 L544.8,166.12 L545.79,166.05 L546.79,165.98 L547.78,165.9 L548.78,165.81 L549.77,165.73 L550.76,165.64 L551.76,165.55 L552.75,165.46 L553.75,165.36 L554.74,165.27 L555.74,165.17 L556.73,165.07 L557.73,164.98 L558.72,164.88 L559.72,164.77 L560.71,164.66 L561.71,164.55 L562.7,164.42 L563.7,164.28 L564.69,164.14 L565.69,163.97 L566.68,163.8 L567.67,163.61 L568.67,163.4 L569.66,163.16 L570.66,162.87 L571.65,162.52 L572.65,162.09 L573.64,161.59 L574.64,161.04 L575.63,160.46 L576.63,159.86 L577.62,159.22 L578.62,158.54 L579.61,157.81 L580.61,157.02 L581.6,156.18 L582.6,155.28 L583.59,154.33 L584.58,153.31 L585.58,152.23 L586.57,151.06 L587.57,149.8 L588.56,148.43 L589.56,146.93 L590.55,145.25 L591.55,143.33 L592.54,141.13 L593.54,138.7 L594.53,136.09 L595.53,133.31 L596.52,130.37 L597.52,127.38 L598.51,124.4 L599.51,121.45 L600.5,118.5 L600.5,118.5 L601.49,120.81 L602.49,123.4 L603.48,126.42 L604.47,129.78 L605.47,133.09 L606.46,136.04 L607.45,138.63 L608.45,140.98 L609.44,143.13 L610.44,145.07 L611.43,146.83 L612.42,148.44 L613.42,149.95 L614.41,151.34 L615.4,152.63 L616.4,153.8 L617.39,154.86 L618.38,155.81 L619.38,156.67 L620.37,157.46 L621.36,158.18 L622.36,158.85 L623.35,159.46 L624.34,160.03 L625.34,160.57 L626.33,161.08 L627.32,161.55 L628.32,161.96 L629.31,162.29 L630.31,162.53 L631.3,162.71 L632.29,162.87 L633.29,163.02 L634.28,163.16 L635.27,163.29 L636.27,163.42 L637.26,163.53 L638.25,163.64 L639.25,163.74 L640.24,163.84 L641.23,163.93 L642.23,164.01 L643.22,164.09 L644.21,164.17 L645.21,164.24 L646.2,164.31 L647.19,164.37 L648.19,164.43 L649.18,164.49 L650.18,164.55 L651.17,164.6 L652.16,164.65 L653.16,164.7 L654.15,164.76 L655.14,164.81 L656.14,164.86 L657.13,164.91 L658.12,164.96 L659.12,165.01 L660.11,165.06 L661.1,165.1 L662.1,165.15 L663.09,165.19 L664.08,165.23 L665.08,165.28 L666.07,165.32 L667.06,165.35 L668.06,165.39 L669.05,165.42 L670.05,165.45 L671.04,165.48 L672.03,165.51 L673.03,165.53 L674.02,165.55 L675.01,165.57 L676.01,165.59 L677,165.6" fill="none" stroke="#ff0000" stroke-width="1.2" stroke-dasharray="2.9 2.2" stroke-linejoin="round"/>
<path d="M412.5,75.3 L413.5,75.3 L414.49,75.3 L415.49,75.3 L416.49,75.3 L417.49,75.3 L418.48,75.3 L419.48,75.3 L420.48,75.3 L421.48,75.3 L422.47,75.3 L423.47,75.3 L424.47,75.3 L425.47,75.3 L426.46,75.3 L427.46,75.3 L428.46,75.3 L429.46,75.3 L430.45,75.3 L431.45,75.3 L432.45,75.3 L433.44,75.3 L434.44,75.3 L435.44,75.3 L436.44,75.3 L437.43,75.3 L438.43,75.3 L439.43,75.3 L440.43,75.3 L441.42,75.3 L442.42,75.3 L443.42,75.3 L444.42,75.3 L445.41,75.3 L446.41,75.3 L447.41,75.3 L448.4,75.3 L449.4,75.3 L450.4,75.3 L451.4,75.3 L452.39,75.3 L453.39,75.3 L454.39,75.3 L455.39,75.3 L456.38,75.3 L457.38,75.3 L458.38,75.3 L459.38,75.3 L460.37,75.3 L461.37,75.3 L462.37,75.3 L463.37,75.3 L464.36,75.3 L465.36,75.3 L466.36,75.3 L467.35,75.3 L468.35,75.3 L469.35,75.3 L470.35,75.3 L471.34,75.3 L472.34,75.3 L473.34,75.3 L474.34,75.3 L475.33,75.3 L476.33,75.3 L477.33,75.3 L478.33,75.3 L479.32,75.3 L480.32,75.3 L481.32,75.3 L482.31,75.3 L483.31,75.3 L484.31,75.3 L485.31,75.3 L486.3,75.3 L487.3,75.3 L488.3,75.3 L489.3,75.3 L490.29,75.3 L491.29,75.3 L492.29,75.3 L493.29,75.3 L494.28,75.3 L495.28,75.3 L496.28,75.3 L497.28,75.3 L498.27,75.3 L499.27,75.3 L500.27,75.3 L501.26,75.3 L502.26,75.3 L503.26,75.3 L504.26,75.31 L505.25,75.31 L506.25,75.31 L507.25,75.32 L508.25,75.32 L509.24,75.32 L510.24,75.33 L511.24,75.34 L512.24,75.34 L513.23,75.35 L514.23,75.36 L515.23,75.36 L516.22,75.37 L517.22,75.38 L518.22,75.39 L519.22,75.4 L520.21,75.41 L521.21,75.42 L522.21,75.43 L523.21,75.44 L524.2,75.46 L525.2,75.47 L526.2,75.48 L527.2,75.49 L528.19,75.51 L529.19,75.52 L530.19,75.54 L531.19,75.55 L532.18,75.57 L533.18,75.58 L534.18,75.6 L535.17,75.62 L536.17,75.63 L537.17,75.65 L538.17,75.67 L539.16,75.69 L540.16,75.7 L541.16,75.73 L542.16,75.75 L543.15,75.78 L544.15,75.81 L545.15,75.85 L546.15,75.89 L547.14,75.94 L548.14,75.99 L549.14,76.04 L550.13,76.09 L551.13,76.15 L552.13,76.21 L553.13,76.28 L554.12,76.35 L555.12,76.42 L556.12,76.49 L557.12,76.57 L558.11,76.65 L559.11,76.73 L560.11,76.81 L561.11,76.91 L562.1,77.02 L563.1,77.14 L564.1,77.28 L565.1,77.43 L566.09,77.59 L567.09,77.76 L568.09,77.94 L569.08,78.13 L570.08,78.33 L571.08,78.55 L572.08,78.81 L573.07,79.08 L574.07,79.37 L575.07,79.67 L576.07,79.96 L577.06,80.24 L578.06,80.55 L579.06,80.9 L580.06,81.36 L581.05,81.95 L582.05,82.7 L583.05,83.59 L584.04,84.57 L585.04,85.64 L586.04,86.82 L587.04,88.13 L588.03,89.56 L589.03,91.13 L590.03,92.86 L591.03,94.76 L592.02,96.81 L593.02,98.99 L594.02,101.28 L595.02,103.72 L596.01,106.26 L597.01,108.86 L598.01,111.51 L599.01,114.18 L600,116.84 L601,119.5 L601,119.5 L601.99,116.89 L602.97,114.18 L603.96,111.32 L604.95,108.38 L605.94,105.49 L606.92,102.78 L607.91,100.25 L608.9,97.93 L609.88,95.86 L610.87,94.03 L611.86,92.39 L612.84,90.93 L613.83,89.62 L614.82,88.45 L615.81,87.38 L616.79,86.4 L617.78,85.51 L618.77,84.71 L619.75,84.01 L620.74,83.4 L621.73,82.86 L622.71,82.37 L623.7,81.91 L624.69,81.49 L625.68,81.1 L626.66,80.75 L627.65,80.42 L628.64,80.12 L629.62,79.86 L630.61,79.61 L631.6,79.38 L632.58,79.17 L633.57,78.96 L634.56,78.77 L635.55,78.59 L636.53,78.42 L637.52,78.26 L638.51,78.11 L639.49,77.97 L640.48,77.84 L641.47,77.72 L642.45,77.61 L643.44,77.5 L644.43,77.4 L645.42,77.3 L646.4,77.2 L647.39,77.11 L648.38,77.03 L649.36,76.95 L650.35,76.87 L651.34,76.81 L652.32,76.74 L653.31,76.69 L654.3,76.63 L655.29,76.59 L656.27,76.55 L657.26,76.51 L658.25,76.46 L659.23,76.42 L660.22,76.39 L661.21,76.35 L662.19,76.31 L663.18,76.28 L664.17,76.24 L665.16,76.21 L666.14,76.18 L667.13,76.15 L668.12,76.12 L669.1,76.1 L670.09,76.08 L671.08,76.06 L672.06,76.04 L673.05,76.03 L674.04,76.02 L675.03,76.01 L676.01,76 L677,76" fill="none" stroke="#ff0000" stroke-width="1.2" stroke-linejoin="round"/>
<path d="M412.5,67.94 L413,67.91 L413.5,67.88 L414,67.85 L414.5,67.83 L415,67.8 L415.5,67.78 L416,67.76 L416.5,67.74 L417,67.72 L417.5,67.7 L418,67.68 L418.5,67.66 L419,67.65 L419.5,67.63 L420,67.62 L420.5,67.61 L421,67.6 L421.5,67.59 L422,67.58 L422.5,67.57 L423,67.56 L423.5,67.56 L424,67.55 L424.5,67.55 L425,67.55 L425.5,67.54 L426,67.54 L426.5,67.54 L427,67.54 L427.5,67.55 L428,67.55 L428.5,67.55 L429,67.56 L429.5,67.56 L430,67.57 L430.5,67.58 L431,67.59 L431.5,67.6 L432,67.61 L432.5,67.62 L433,67.63 L433.5,67.64 L434,67.66 L434.5,67.67 L435,67.69 L435.5,67.71 L436,67.72 L436.5,67.74 L437,67.76 L437.5,67.78 L438,67.8 L438.5,67.82 L439,67.85 L439.5,67.87 L440,67.89 L440.5,67.92 L441,67.94 L441.5,67.97 L442,68 L442.5,68.03 L443,68.05 L443.5,68.08 L444,68.11 L444.5,68.15 L445,68.18 L445.5,68.21 L446,68.24 L446.5,68.28 L447,68.31 L447.5,68.35 L448,68.38 L448.5,68.42 L449,68.46 L449.5,68.5 L450,68.54 L450.5,68.57 L451,68.61 L451.5,68.66 L452,68.7 L452.5,68.74 L453,68.78 L453.5,68.83 L454,68.87 L454.5,68.91 L455,68.96 L455.5,69 L456,69.05 L456.5,69.1 L457,69.15 L457.5,69.19 L458,69.24 L458.5,69.29 L459,69.34 L459.5,69.39 L460,69.44 L460.5,69.49 L461,69.54 L461.5,69.6 L462,69.65 L462.5,69.7 L463,69.76 L463.5,69.81 L464,69.87 L464.5,69.92 L465,69.98 L465.5,70.03 L466,70.09 L466.5,70.15 L467,70.2 L467.5,70.26 L468,70.32 L468.5,70.38 L469,70.44 L469.5,70.5 L470,70.56 L470.5,70.62 L471,70.68 L471.5,70.74 L472,70.8 L472.5,70.86 L473,70.93 L473.5,70.99 L474,71.05 L474.5,71.11 L475,71.18 L475.5,71.24 L476,71.31 L476.5,71.37 L477,71.43 L477.5,71.5 L478,71.56 L478.5,71.63 L479,71.7 L479.5,71.76 L480,71.83 L480.5,71.9 L481,71.96 L481.5,72.03 L482,72.1 L482.5,72.16 L483,72.23 L483.5,72.3 L484,72.37 L484.5,72.44 L485,72.51 L485.5,72.57 L486,72.64 L486.5,72.71 L487,72.78 L487.5,72.85 L488,72.92 L488.5,72.99 L489,73.06 L489.5,73.13 L490,73.2 L490.5,73.27 L491,73.35 L491.5,73.42 L492,73.49 L492.5,73.56 L493,73.64 L493.5,73.71 L494,73.79 L494.5,73.86 L495,73.94 L495.5,74.02 L496,74.1 L496.5,74.18 L497,74.26 L497.5,74.34 L498,74.42 L498.5,74.5 L499,74.59 L499.5,74.67 L500,74.76 L500.5,74.84 L501,74.93 L501.5,75.02 L502,75.11 L502.5,75.21 L503,75.3 L503.5,75.39 L504,75.49 L504.5,75.59 L505,75.69 L505.5,75.79 L506,75.89 L506.5,76 L507,76.1 L507.5,76.21 L508,76.32 L508.5,76.43 L509,76.54 L509.5,76.66 L510,76.77 L510.5,76.89 L511,77.01 L511.5,77.13 L512,77.26 L512.5,77.39 L513,77.51 L513.5,77.64 L514,77.78 L514.5,77.91 L515,78.05 L515.5,78.19 L516,78.33 L516.5,78.47 L517,78.62 L517.5,78.77 L518,78.92 L518.5,79.08 L519,79.23 L519.5,79.39 L520,79.55 L520.5,79.72 L521,79.88 L521.5,80.05 L522,80.23 L522.5,80.4 L523,80.58 L523.5,80.76 L524,80.94 L524.5,81.13 L525,81.32 L525.5,81.51 L526,81.71 L526.5,81.91 L527,82.11 L527.5,82.32 L528,82.53 L528.5,82.74 L529,82.95 L529.5,83.17 L530,83.39 L530.5,83.62 L531,83.85 L531.5,84.08 L532,84.32 L532.5,84.55 L533,84.8 L533.5,85.04 L534,85.29 L534.5,85.55 L535,85.81 L535.5,86.07 L536,86.33 L536.5,86.6 L537,86.87 L537.5,87.15 L538,87.43 L538.5,87.72 L539,88.01 L539.5,88.3 L540,88.6 L540.5,88.9 L541,89.2 L541.5,89.51 L542,89.83 L542.5,90.14 L543,90.47 L543.5,90.79 L544,91.13 L544.5,91.46 L545,91.8 L545.5,92.15 L546,92.5 L546.5,92.85 L547,93.21 L547.5,93.57 L548,93.94 L548.5,94.31 L549,94.69 L549.5,95.07 L550,95.46 L550.5,95.85 L551,96.25 L551.5,96.65 L552,97.06 L552.5,97.47 L553,97.89 L553.5,98.31 L554,98.74 L554.5,99.17 L555,99.61 L555.5,100.05 L556,100.5 L556.5,100.95 L557,101.41 L557.5,101.88 L558,102.35 L558.5,102.82 L559,103.3 L559.5,103.79 L560,104.28 L560.5,104.78 L561,105.29 L561.5,105.8 L562,106.31 L562.5,106.83 L563,107.36 L563.5,107.89 L564,108.43 L564.5,108.97 L565,109.53 L565.5,110.08 L566,110.65 L566.5,111.22 L567,111.79 L567.5,112.38 L568,112.98 L568.5,113.58 L569,114.2 L569.5,114.83 L570,115.47 L570.5,116.12 L571,116.78 L571.5,117.46 L572,118.15 L572.5,118.85 L573,119.58 L573.5,120.31 L574,121.07 L574.5,121.84 L575,122.63 L575.5,123.43 L576,124.26 L576.5,125.1 L577,125.97 L577.5,126.86 L578,127.76 L578.5,128.68 L579,129.62 L579.5,130.57 L580,131.53 L580.5,132.51 L581,133.49 L581.5,134.49 L582,135.48 L582.5,136.49 L583,137.49 L583.5,138.5 L584,139.51 L584.5,140.51 L585,141.51 L585.5,142.51 L586,143.5 L586.5,144.48 L587,145.45 L587.5,146.42 L588,147.36 L588.5,148.3 L589,149.22 L589.5,150.12 L590,151 L590.5,151.86 L591,152.7 L591.5,153.51 L592,154.3 L592.5,155.07 L593,155.81 L593.5,156.52 L594,157.2 L594.5,157.86 L595,158.49 L595.5,159.08 L596,159.65 L596.5,160.18 L597,160.68 L597.5,161.15 L598,161.58 L598.5,161.98 L599,162.33 L599.5,162.66 L600,162.94 L600.5,163.18 L601,163.39 L601.5,163.55 L602,163.67 L602.5,163.75 L603,163.79 L603.5,163.78 L604,163.73 L604.5,163.64 L605,163.51 L605.5,163.35 L606,163.16 L606.5,162.94 L607,162.69 L607.5,162.42 L608,162.13 L608.5,161.82 L609,161.49 L609.5,161.15 L610,160.8 L610.5,160.44 L611,160.08 L611.5,159.71 L612,159.34 L612.5,158.96 L613,158.59 L613.5,158.21 L614,157.83 L614.5,157.45 L615,157.07 L615.5,156.69 L616,156.31 L616.5,155.92 L617,155.54 L617.5,155.15 L618,154.77 L618.5,154.38 L619,153.99 L619.5,153.6 L620,153.21 L620.5,152.82 L621,152.43 L621.5,152.04 L622,151.65 L622.5,151.26 L623,150.87 L623.5,150.48 L624,150.09 L624.5,149.7 L625,149.31 L625.5,148.92 L626,148.53 L626.5,148.14 L627,147.76 L627.5,147.37 L628,146.99 L628.5,146.6 L629,146.22 L629.5,145.84 L630,145.46 L630.5,145.08 L631,144.7 L631.5,144.33 L632,143.95 L632.5,143.58 L633,143.21 L633.5,142.84 L634,142.47 L634.5,142.11 L635,141.75 L635.5,141.39 L636,141.03 L636.5,140.68 L637,140.32 L637.5,139.97 L638,139.63 L638.5,139.28 L639,138.94 L639.5,138.6 L640,138.27 L640.5,137.94 L641,137.61 L641.5,137.28 L642,136.96 L642.5,136.64 L643,136.33 L643.5,136.02 L644,135.71 L644.5,135.41 L645,135.11 L645.5,134.82 L646,134.53 L646.5,134.24 L647,133.96 L647.5,133.68 L648,133.41 L648.5,133.14 L649,132.87 L649.5,132.62 L650,132.36 L650.5,132.11 L651,131.87 L651.5,131.63 L652,131.4 L652.5,131.17 L653,130.95 L653.5,130.73 L654,130.52 L654.5,130.31 L655,130.11 L655.5,129.92 L656,129.73 L656.5,129.55 L657,129.38 L657.5,129.21 L658,129.04 L658.5,128.89 L659,128.74 L659.5,128.59 L660,128.46 L660.5,128.33 L661,128.21 L661.5,128.09 L662,127.98 L662.5,127.88 L663,127.78 L663.5,127.7 L664,127.62 L664.5,127.55 L665,127.48 L665.5,127.42 L666,127.38 L666.5,127.33 L667,127.3 L667.5,127.28 L668,127.26 L668.5,127.25 L669,127.25 L669.5,127.26 L670,127.27 L670.5,127.3 L671,127.33" fill="none" stroke="#0000ff" stroke-width="1.3" stroke-linejoin="round"/>
<path d="M412.5,80.08 L413,80.07 L413.5,80.05 L414,80.04 L414.5,80.03 L415,80.01 L415.5,80 L416,79.99 L416.5,79.98 L417,79.96 L417.5,79.95 L418,79.94 L418.5,79.93 L419,79.92 L419.5,79.9 L420,79.89 L420.5,79.88 L421,79.87 L421.5,79.86 L422,79.84 L422.5,79.83 L423,79.82 L423.5,79.81 L424,79.8 L424.5,79.78 L425,79.77 L425.5,79.76 L426,79.75 L426.5,79.74 L427,79.73 L427.5,79.71 L428,79.7 L428.5,79.69 L429,79.68 L429.5,79.67 L430,79.65 L430.5,79.64 L431,79.63 L431.5,79.62 L432,79.6 L432.5,79.59 L433,79.58 L433.5,79.56 L434,79.55 L434.5,79.54 L435,79.52 L435.5,79.51 L436,79.5 L436.5,79.48 L437,79.47 L437.5,79.46 L438,79.44 L438.5,79.43 L439,79.41 L439.5,79.4 L440,79.38 L440.5,79.37 L441,79.35 L441.5,79.33 L442,79.32 L442.5,79.3 L443,79.29 L443.5,79.27 L444,79.25 L444.5,79.24 L445,79.22 L445.5,79.2 L446,79.18 L446.5,79.16 L447,79.14 L447.5,79.13 L448,79.11 L448.5,79.09 L449,79.07 L449.5,79.05 L450,79.03 L450.5,79 L451,78.98 L451.5,78.96 L452,78.94 L452.5,78.92 L453,78.89 L453.5,78.87 L454,78.85 L454.5,78.82 L455,78.8 L455.5,78.78 L456,78.75 L456.5,78.72 L457,78.7 L457.5,78.67 L458,78.65 L458.5,78.62 L459,78.59 L459.5,78.56 L460,78.53 L460.5,78.5 L461,78.48 L461.5,78.44 L462,78.41 L462.5,78.38 L463,78.35 L463.5,78.32 L464,78.29 L464.5,78.25 L465,78.22 L465.5,78.19 L466,78.15 L466.5,78.12 L467,78.08 L467.5,78.04 L468,78.01 L468.5,77.97 L469,77.93 L469.5,77.89 L470,77.85 L470.5,77.81 L471,77.77 L471.5,77.73 L472,77.69 L472.5,77.65 L473,77.61 L473.5,77.56 L474,77.52 L474.5,77.47 L475,77.43 L475.5,77.38 L476,77.34 L476.5,77.29 L477,77.24 L477.5,77.19 L478,77.14 L478.5,77.09 L479,77.04 L479.5,76.99 L480,76.94 L480.5,76.88 L481,76.83 L481.5,76.77 L482,76.72 L482.5,76.66 L483,76.61 L483.5,76.55 L484,76.49 L484.5,76.43 L485,76.37 L485.5,76.31 L486,76.25 L486.5,76.19 L487,76.12 L487.5,76.06 L488,75.99 L488.5,75.93 L489,75.86 L489.5,75.8 L490,75.73 L490.5,75.66 L491,75.59 L491.5,75.52 L492,75.45 L492.5,75.37 L493,75.3 L493.5,75.23 L494,75.15 L494.5,75.07 L495,75 L495.5,74.92 L496,74.84 L496.5,74.76 L497,74.68 L497.5,74.6 L498,74.52 L498.5,74.43 L499,74.35 L499.5,74.26 L500,74.18 L500.5,74.09 L501,74 L501.5,73.91 L502,73.82 L502.5,73.73 L503,73.64 L503.5,73.54 L504,73.45 L504.5,73.35 L505,73.26 L505.5,73.16 L506,73.06 L506.5,72.96 L507,72.86 L507.5,72.76 L508,72.66 L508.5,72.55 L509,72.45 L509.5,72.34 L510,72.23 L510.5,72.12 L511,72.02 L511.5,71.9 L512,71.79 L512.5,71.68 L513,71.57 L513.5,71.45 L514,71.33 L514.5,71.22 L515,71.1 L515.5,70.98 L516,70.86 L516.5,70.73 L517,70.61 L517.5,70.49 L518,70.36 L518.5,70.23 L519,70.11 L519.5,69.98 L520,69.85 L520.5,69.71 L521,69.58 L521.5,69.45 L522,69.31 L522.5,69.17 L523,69.03 L523.5,68.89 L524,68.75 L524.5,68.61 L525,68.47 L525.5,68.32 L526,68.18 L526.5,68.03 L527,67.88 L527.5,67.73 L528,67.58 L528.5,67.43 L529,67.27 L529.5,67.12 L530,66.96 L530.5,66.8 L531,66.64 L531.5,66.48 L532,66.32 L532.5,66.16 L533,65.99 L533.5,65.83 L534,65.66 L534.5,65.49 L535,65.32 L535.5,65.15 L536,64.97 L536.5,64.8 L537,64.62 L537.5,64.44 L538,64.26 L538.5,64.08 L539,63.9 L539.5,63.72 L540,63.53 L540.5,63.34 L541,63.15 L541.5,62.96 L542,62.77 L542.5,62.58 L543,62.39 L543.5,62.19 L544,61.99 L544.5,61.79 L545,61.59 L545.5,61.39 L546,61.19 L546.5,60.98 L547,60.78 L547.5,60.57 L548,60.36 L548.5,60.14 L549,59.93 L549.5,59.72 L550,59.5 L550.5,59.28 L551,59.06 L551.5,58.84 L552,58.62 L552.5,58.39 L553,58.17 L553.5,57.94 L554,57.71 L554.5,57.48 L555,57.24 L555.5,57.01 L556,56.77 L556.5,56.54 L557,56.3 L557.5,56.05 L558,55.81 L558.5,55.57 L559,55.32 L559.5,55.07 L560,54.82 L560.5,54.57 L561,54.31 L561.5,54.06 L562,53.8 L562.5,53.54 L563,53.28 L563.5,53.02 L564,52.76 L564.5,52.49 L565,52.23 L565.5,51.96 L566,51.69 L566.5,51.42 L567,51.15 L567.5,50.88 L568,50.6 L568.5,50.33 L569,50.05 L569.5,49.77 L570,49.5 L570.5,49.22 L571,48.94 L571.5,48.66 L572,48.37 L572.5,48.09 L573,47.81 L573.5,47.52 L574,47.24 L574.5,46.95 L575,46.67 L575.5,46.38 L576,46.09 L576.5,45.81 L577,45.52 L577.5,45.23 L578,44.94 L578.5,44.65 L579,44.36 L579.5,44.07 L580,43.79 L580.5,43.5 L581,43.21 L581.5,42.92 L582,42.63 L582.5,42.34 L583,42.05 L583.5,41.76 L584,41.47 L584.5,41.18 L585,40.89 L585.5,40.6 L586,40.31 L586.5,40.02 L587,39.74 L587.5,39.45 L588,39.16 L588.5,38.88 L589,38.59 L589.5,38.31 L590,38.02 L590.5,37.74 L591,37.46 L591.5,37.17 L592,36.89 L592.5,36.61 L593,36.33 L593.5,36.06 L594,35.78 L594.5,35.5 L595,35.23 L595.5,34.95 L596,34.68 L596.5,34.41 L597,34.14 L597.5,33.87 L598,33.6 L598.5,33.33 L599,33.07 L599.5,32.8 L600,32.54 L600.5,32.28 L601,32.02 L601.5,31.76 L602,31.51 L602.5,31.25 L603,31 L603.5,30.75 L604,30.5 L604.5,30.25 L605,30.01 L605.5,29.76 L606,29.52 L606.5,29.28 L607,29.05 L607.5,28.81 L608,28.58 L608.5,28.35 L609,28.12 L609.5,27.89 L610,27.67 L610.5,27.45 L611,27.23 L611.5,27.01 L612,26.8 L612.5,26.58 L613,26.38 L613.5,26.17 L614,25.96 L614.5,25.76 L615,25.57 L615.5,25.37 L616,25.18 L616.5,24.99 L617,24.8 L617.5,24.62 L618,24.43 L618.5,24.26 L619,24.08 L619.5,23.91 L620,23.74 L620.5,23.57 L621,23.41 L621.5,23.25 L622,23.1 L622.5,22.94 L623,22.79 L623.5,22.65 L624,22.51 L624.5,22.37 L625,22.23 L625.5,22.1 L626,21.97 L626.5,21.85 L627,21.73 L627.5,21.61 L628,21.5 L628.5,21.39 L629,21.29 L629.5,21.18 L630,21.09 L630.5,20.99 L631,20.9 L631.5,20.82 L632,20.74 L632.5,20.66 L633,20.59 L633.5,20.52 L634,20.46 L634.5,20.4 L635,20.34 L635.5,20.29 L636,20.24 L636.5,20.19 L637,20.15 L637.5,20.11 L638,20.08 L638.5,20.05 L639,20.02 L639.5,20 L640,19.98 L640.5,19.97 L641,19.95 L641.5,19.94 L642,19.94 L642.5,19.93 L643,19.93 L643.5,19.94 L644,19.94 L644.5,19.95 L645,19.97 L645.5,19.98 L646,20 L646.5,20.02 L647,20.04 L647.5,20.07 L648,20.1 L648.5,20.13 L649,20.17 L649.5,20.21 L650,20.25 L650.5,20.29 L651,20.33 L651.5,20.38 L652,20.43 L652.5,20.48 L653,20.54 L653.5,20.59 L654,20.65 L654.5,20.71 L655,20.77 L655.5,20.84 L656,20.9 L656.5,20.97 L657,21.04 L657.5,21.12 L658,21.19 L658.5,21.26 L659,21.34 L659.5,21.42 L660,21.5 L660.5,21.58 L661,21.67 L661.5,21.75 L662,21.84 L662.5,21.93 L663,22.01 L663.5,22.1 L664,22.2 L664.5,22.29 L665,22.38 L665.5,22.48 L666,22.57 L666.5,22.67 L667,22.77 L667.5,22.87 L668,22.97 L668.5,23.07 L669,23.17 L669.5,23.27 L670,23.37 L670.5,23.47 L671,23.58 L671.5,23.68" fill="none" stroke="#0000ff" stroke-width="1.3" stroke-dasharray="3 2.2 0.9 2" stroke-linejoin="round"/>
<path d="M412.3,167.4v-2.8 M412.3,3.8v2.8 M465.7,167.4v-2.8 M465.7,3.8v2.8 M519.1,167.4v-2.8 M519.1,3.8v2.8 M572.5,167.4v-2.8 M572.5,3.8v2.8 M625.9,167.4v-2.8 M625.9,3.8v2.8 M425.65,167.4v-1.8 M425.65,3.8v1.8 M439,167.4v-1.8 M439,3.8v1.8 M452.35,167.4v-1.8 M452.35,3.8v1.8 M479.05,167.4v-1.8 M479.05,3.8v1.8 M492.4,167.4v-1.8 M492.4,3.8v1.8 M505.75,167.4v-1.8 M505.75,3.8v1.8 M532.45,167.4v-1.8 M532.45,3.8v1.8 M545.8,167.4v-1.8 M545.8,3.8v1.8 M559.15,167.4v-1.8 M559.15,3.8v1.8 M585.85,167.4v-1.8 M585.85,3.8v1.8 M599.2,167.4v-1.8 M599.2,3.8v1.8 M612.55,167.4v-1.8 M612.55,3.8v1.8 M639.25,167.4v-1.8 M639.25,3.8v1.8 M652.6,167.4v-1.8 M652.6,3.8v1.8 M665.95,167.4v-1.8 M665.95,3.8v1.8 M412.5,166.8h2.8 M677.7,166.8h-2.8 M412.5,139.74h2.8 M677.7,139.74h-2.8 M412.5,112.68h2.8 M677.7,112.68h-2.8 M412.5,85.62h2.8 M677.7,85.62h-2.8 M412.5,58.56h2.8 M677.7,58.56h-2.8 M412.5,31.5h2.8 M677.7,31.5h-2.8 M412.5,4.44h2.8 M677.7,4.44h-2.8 M412.5,160.04h1.8 M677.7,160.04h-1.8 M412.5,153.27h1.8 M677.7,153.27h-1.8 M412.5,146.5h1.8 M677.7,146.5h-1.8 M412.5,132.98h1.8 M677.7,132.98h-1.8 M412.5,126.21h1.8 M677.7,126.21h-1.8 M412.5,119.45h1.8 M677.7,119.45h-1.8 M412.5,105.92h1.8 M677.7,105.92h-1.8 M412.5,99.15h1.8 M677.7,99.15h-1.8 M412.5,92.39h1.8 M677.7,92.39h-1.8 M412.5,78.86h1.8 M677.7,78.86h-1.8 M412.5,72.09h1.8 M677.7,72.09h-1.8 M412.5,65.33h1.8 M677.7,65.33h-1.8 M412.5,51.8h1.8 M677.7,51.8h-1.8 M412.5,45.03h1.8 M677.7,45.03h-1.8 M412.5,38.27h1.8 M677.7,38.27h-1.8 M412.5,24.73h1.8 M677.7,24.73h-1.8 M412.5,17.97h1.8 M677.7,17.97h-1.8 M412.5,11.21h1.8 M677.7,11.21h-1.8" stroke="#000" stroke-width="1" fill="none"/>
<rect x="412.5" y="3.8" width="265.2" height="163.6" fill="none" stroke="#000" stroke-width="1.3"/>
<text x="412.3" y="178.9" text-anchor="middle" font-size="9.6">0.0</text>
<text x="465.7" y="178.9" text-anchor="middle" font-size="9.6">0.2</text>
<text x="519.1" y="178.9" text-anchor="middle" font-size="9.6">0.4</text>
<text x="572.5" y="178.9" text-anchor="middle" font-size="9.6">0.6</text>
<text x="625.9" y="178.9" text-anchor="middle" font-size="9.6">0.8</text>
<text x="410.5" y="170.26" text-anchor="end" font-size="9.6">0.0</text>
<text x="410.5" y="143.2" text-anchor="end" font-size="9.6">0.2</text>
<text x="410.5" y="116.14" text-anchor="end" font-size="9.6">0.4</text>
<text x="410.5" y="89.08" text-anchor="end" font-size="9.6">0.6</text>
<text x="410.5" y="62.02" text-anchor="end" font-size="9.6">0.8</text>
<text x="410.5" y="34.96" text-anchor="end" font-size="9.6">1.0</text>
<text x="410.5" y="7.9" text-anchor="end" font-size="9.6">1.2</text>
<text x="429" y="24" font-size="12" word-spacing="0.3">V<tspan font-size="9.5" dy="2.5">2</tspan><tspan dy="-2.5"> / V = 0.1</tspan></text>
<line x1="420.2" y1="100.7" x2="437.3" y2="100.7" stroke="#0000ff" stroke-width="1.1"/>
<text x="440.9" y="105" font-size="12">Z<tspan font-size="9.36" dy="2.5">2</tspan></text>
<line x1="420.2" y1="118.3" x2="437.3" y2="118.3" stroke="#0000ff" stroke-width="1.1" stroke-dasharray="2.9 2.2"/>
<text x="440.9" y="122.6" font-size="12">Z<tspan font-size="9.36" dy="2.5">3</tspan></text>
<line x1="420.2" y1="136.1" x2="437.3" y2="136.1" stroke="#0000ff" stroke-width="1.1" stroke-dasharray="3 2.2 0.9 2"/>
<text x="440.9" y="140.4" font-size="12">Z<tspan font-size="9.36" dy="2.5">5</tspan></text>
<line x1="471.1" y1="109.3" x2="487.6" y2="109.3" stroke="#ff0000" stroke-width="1.1"/>
<text x="492.5" y="113.6" font-size="12">W<tspan font-size="9.36" dy="2.5">2</tspan></text>
<line x1="471.1" y1="127.4" x2="487.6" y2="127.4" stroke="#ff0000" stroke-width="1.1" stroke-dasharray="2.9 2.2"/>
<text x="492.5" y="131.7" font-size="12">W<tspan font-size="9.36" dy="2.5">3</tspan></text>
<g transform="translate(545.6,192.8) scale(1.0,1)"><text x="0" y="0" text-anchor="middle" font-size="9.7" font-weight="bold"><tspan font-style="italic">V</tspan><tspan font-style="italic" font-size="6.789999999999999" dy="2">R</tspan><tspan dy="-2"> / V</tspan></text></g>
<line x1="369.6" y1="38" x2="369.6" y2="133.75" stroke="#000" stroke-width="1"/>
<g transform="translate(359.5,129.2) rotate(-90)"><text x="0.1" y="0" font-size="8.07" font-weight="bold" font-style="italic">σ</text><text x="12.6" y="0" font-size="8.55" font-weight="bold">pp</text><text x="35.15" y="0" font-size="9.5" font-weight="bold" font-style="italic">Z</text><text x="42.2" y="2.2" font-size="6.5" font-style="italic">i</text><text x="56.7" y="2.2" font-size="6.5" font-style="italic">i</text><text x="44.8" y="0" font-size="6.5" font-style="italic">/</text><text x="47.85" y="0" font-size="9.5" font-weight="bold" font-style="italic">W</text><text x="72.4" y="0" font-size="9.5" font-weight="bold" font-style="italic">f</text><text x="78.4" y="0" font-size="9.5" font-weight="bold" font-style="italic">f</text><path d="M24.7,-2.9H29.6" stroke="#000" stroke-width="1.05" fill="none"/><path d="M31.1,-2.9L28.4,-5.3L29.1,-2.9L28.4,-0.5Z" fill="#000"/><path d="M63.9,-2.9H69" stroke="#000" stroke-width="1.05" fill="none"/><path d="M70.5,-2.9L67.8,-5.3L68.5,-2.9L67.8,-0.5Z" fill="#000"/><path d="M80.1,-10.7H82.8" stroke="#000" stroke-width="0.8"/><path d="M11.6,-11.2Q5.6,-2.2 11.6,6.8" stroke="#000" stroke-width="1" fill="none"/><path d="M84.3,-11.2Q88.5,-2.2 84.3,6.8" stroke="#000" stroke-width="1" fill="none"/></g>
<g transform="translate(385.9,132.7) rotate(-90)"><text x="-0.1" y="0" font-size="8.07" font-weight="bold" font-style="italic">σ</text><text x="11.8" y="0" font-size="8.55" font-weight="bold">pp</text><text x="33.9" y="0" font-size="9.5" font-weight="bold" font-style="italic">Z</text><text x="40.5" y="2.2" font-size="6.3" font-weight="bold" font-style="italic">X</text><text x="61" y="2.2" font-size="6.3" font-weight="bold" font-style="italic">X</text><text x="46.7" y="0" font-size="6.5" font-style="italic">/</text><text x="52.6" y="0" font-size="9.5" font-weight="bold" font-style="italic">W</text><text x="80.2" y="0" font-size="9.5" font-weight="bold" font-style="italic">f</text><text x="85.2" y="0" font-size="9.5" font-weight="bold" font-style="italic">f</text><path d="M23.3,-2.9H28.3" stroke="#000" stroke-width="1.05" fill="none"/><path d="M29.8,-2.9L27.1,-5.3L27.8,-2.9L27.1,-0.5Z" fill="#000"/><path d="M70.6,-2.9H75.6" stroke="#000" stroke-width="1.05" fill="none"/><path d="M77.1,-2.9L74.4,-5.3L75.1,-2.9L74.4,-0.5Z" fill="#000"/><path d="M86.4,-10.7H89.6" stroke="#000" stroke-width="0.8"/><path d="M11,-11.2Q4.2,-2.2 11,6.8" stroke="#000" stroke-width="1" fill="none"/><path d="M91,-11.2Q96,-2.2 91,6.8" stroke="#000" stroke-width="1" fill="none"/></g>
<path d="M74,370.3 L75,370.3 L76,370.3 L76.99,370.29 L77.99,370.29 L78.99,370.29 L79.99,370.28 L80.99,370.27 L81.98,370.27 L82.98,370.26 L83.98,370.25 L84.98,370.24 L85.98,370.23 L86.97,370.22 L87.97,370.21 L88.97,370.19 L89.97,370.18 L90.97,370.17 L91.96,370.15 L92.96,370.13 L93.96,370.12 L94.96,370.1 L95.96,370.08 L96.95,370.06 L97.95,370.04 L98.95,370.02 L99.95,370 L100.94,369.98 L101.94,369.96 L102.94,369.93 L103.94,369.91 L104.94,369.88 L105.93,369.86 L106.93,369.83 L107.93,369.81 L108.93,369.78 L109.93,369.75 L110.92,369.72 L111.92,369.7 L112.92,369.67 L113.92,369.64 L114.92,369.61 L115.91,369.58 L116.91,369.55 L117.91,369.51 L118.91,369.48 L119.91,369.45 L120.9,369.42 L121.9,369.38 L122.9,369.35 L123.9,369.31 L124.9,369.28 L125.89,369.25 L126.89,369.21 L127.89,369.17 L128.89,369.14 L129.89,369.1 L130.88,369.07 L131.88,369.03 L132.88,368.99 L133.88,368.95 L134.88,368.91 L135.87,368.87 L136.87,368.83 L137.87,368.78 L138.87,368.73 L139.87,368.67 L140.86,368.62 L141.86,368.55 L142.86,368.49 L143.86,368.42 L144.86,368.35 L145.85,368.27 L146.85,368.19 L147.85,368.11 L148.85,368.03 L149.84,367.94 L150.84,367.86 L151.84,367.77 L152.84,367.67 L153.84,367.58 L154.83,367.48 L155.83,367.38 L156.83,367.28 L157.83,367.16 L158.83,367.04 L159.82,366.92 L160.82,366.79 L161.82,366.65 L162.82,366.51 L163.82,366.36 L164.81,366.21 L165.81,366.05 L166.81,365.89 L167.81,365.74 L168.81,365.57 L169.8,365.41 L170.8,365.25 L171.8,365.09 L172.8,364.93 L173.8,364.77 L174.79,364.62 L175.79,364.47 L176.79,364.32 L177.79,364.17 L178.79,364.02 L179.78,363.88 L180.78,363.73 L181.78,363.59 L182.78,363.45 L183.78,363.3 L184.77,363.16 L185.77,363.01 L186.77,362.87 L187.77,362.72 L188.77,362.57 L189.76,362.42 L190.76,362.26 L191.76,362.1 L192.76,361.94 L193.76,361.78 L194.75,361.61 L195.75,361.44 L196.75,361.27 L197.75,361.09 L198.74,360.9 L199.74,360.72 L200.74,360.53 L201.74,360.33 L202.74,360.14 L203.73,359.94 L204.73,359.73 L205.73,359.52 L206.73,359.3 L207.73,359.09 L208.72,358.86 L209.72,358.63 L210.72,358.4 L211.72,358.16 L212.72,357.91 L213.71,357.66 L214.71,357.4 L215.71,357.14 L216.71,356.87 L217.71,356.59 L218.7,356.3 L219.7,356.01 L220.7,355.71 L221.7,355.4 L222.7,355.09 L223.69,354.77 L224.69,354.44 L225.69,354.11 L226.69,353.77 L227.69,353.42 L228.68,353.06 L229.68,352.7 L230.68,352.34 L231.68,351.96 L232.68,351.58 L233.67,351.19 L234.67,350.79 L235.67,350.38 L236.67,349.95 L237.67,349.52 L238.66,349.07 L239.66,348.61 L240.66,348.14 L241.66,347.66 L242.66,347.17 L243.65,346.67 L244.65,346.17 L245.65,345.66 L246.65,345.14 L247.64,344.62 L248.64,344.1 L249.64,343.57 L250.64,343.04 L251.64,342.51 L252.63,341.98 L253.63,341.45 L254.63,340.92 L255.63,340.39 L256.63,339.86 L257.62,339.34 L258.62,338.81 L259.62,338.29 L260.62,337.76 L261.62,337.24 L262.61,336.71 L263.61,336.18 L264.61,335.65 L265.61,335.11 L266.61,334.58 L267.6,334.04 L268.6,333.5 L269.6,332.95 L270.6,332.4 L271.6,331.85 L272.59,331.29 L273.59,330.73 L274.59,330.17 L275.59,329.59 L276.59,329.02 L277.58,328.44 L278.58,327.85 L279.58,327.26 L280.58,326.66 L281.58,326.04 L282.57,325.42 L283.57,324.78 L284.57,324.13 L285.57,323.47 L286.57,322.8 L287.56,322.13 L288.56,321.46 L289.56,320.8 L290.56,320.14 L291.56,319.5 L292.55,318.87 L293.55,318.26 L294.55,317.66 L295.55,317.07 L296.54,316.49 L297.54,315.91 L298.54,315.33 L299.54,314.75 L300.54,314.15 L301.53,313.55 L302.53,312.96 L303.53,312.38 L304.53,311.82 L305.53,311.28 L306.52,310.76 L307.52,310.26 L308.52,309.78 L309.52,309.31 L310.52,308.86 L311.51,308.42 L312.51,307.99 L313.51,307.59 L314.51,307.2 L315.51,306.82 L316.5,306.47 L317.5,306.13 L318.5,305.8 L318.5,305.8 L319.47,306.38 L320.44,306.96 L321.4,307.54 L322.37,308.12 L323.34,308.7 L324.31,309.27 L325.27,309.85 L326.24,310.42 L327.21,310.99 L328.18,311.56 L329.15,312.13 L330.11,312.7 L331.08,313.27 L332.05,313.84 L333.02,314.4 L333.98,314.97 L334.95,315.53 L335.92,316.09 L336.89,316.65 L337.85,317.21 L338.82,317.77 L339.79,318.33 L340.76,318.89 L341.73,319.44 L342.69,320 L343.66,320.55 L344.63,321.1 L345.6,321.65 L346.56,322.2 L347.53,322.75 L348.5,323.3" fill="none" stroke="#ff0000" stroke-width="1.2" stroke-dasharray="2.9 2.2" stroke-linejoin="round"/>
<path d="M74,370.1 L75,370.1 L76,370.1 L76.99,370.09 L77.99,370.09 L78.99,370.09 L79.99,370.08 L80.99,370.07 L81.99,370.07 L82.98,370.06 L83.98,370.05 L84.98,370.04 L85.98,370.03 L86.98,370.02 L87.97,370.01 L88.97,370 L89.97,369.99 L90.97,369.97 L91.97,369.96 L92.97,369.94 L93.96,369.93 L94.96,369.91 L95.96,369.9 L96.96,369.88 L97.96,369.86 L98.95,369.84 L99.95,369.82 L100.95,369.81 L101.95,369.79 L102.95,369.77 L103.95,369.75 L104.94,369.73 L105.94,369.7 L106.94,369.68 L107.94,369.66 L108.94,369.64 L109.93,369.62 L110.93,369.59 L111.93,369.57 L112.93,369.55 L113.93,369.52 L114.93,369.49 L115.92,369.47 L116.92,369.44 L117.92,369.4 L118.92,369.37 L119.92,369.33 L120.91,369.29 L121.91,369.25 L122.91,369.21 L123.91,369.16 L124.91,369.11 L125.91,369.06 L126.9,369.01 L127.9,368.95 L128.9,368.9 L129.9,368.84 L130.9,368.78 L131.89,368.72 L132.89,368.65 L133.89,368.59 L134.89,368.52 L135.89,368.45 L136.89,368.38 L137.88,368.3 L138.88,368.23 L139.88,368.14 L140.88,368.06 L141.88,367.97 L142.87,367.88 L143.87,367.78 L144.87,367.68 L145.87,367.58 L146.87,367.48 L147.87,367.37 L148.86,367.25 L149.86,367.14 L150.86,367.02 L151.86,366.9 L152.86,366.77 L153.85,366.64 L154.85,366.51 L155.85,366.37 L156.85,366.22 L157.85,366.07 L158.85,365.92 L159.84,365.75 L160.84,365.58 L161.84,365.4 L162.84,365.22 L163.84,365.03 L164.83,364.83 L165.83,364.63 L166.83,364.42 L167.83,364.21 L168.83,363.99 L169.83,363.77 L170.82,363.55 L171.82,363.32 L172.82,363.09 L173.82,362.86 L174.82,362.62 L175.81,362.38 L176.81,362.14 L177.81,361.89 L178.81,361.63 L179.81,361.37 L180.81,361.11 L181.8,360.84 L182.8,360.56 L183.8,360.27 L184.8,359.99 L185.8,359.69 L186.79,359.39 L187.79,359.09 L188.79,358.78 L189.79,358.46 L190.79,358.14 L191.79,357.82 L192.78,357.49 L193.78,357.15 L194.78,356.81 L195.78,356.47 L196.78,356.12 L197.77,355.76 L198.77,355.4 L199.77,355.03 L200.77,354.65 L201.77,354.27 L202.77,353.87 L203.76,353.47 L204.76,353.07 L205.76,352.65 L206.76,352.23 L207.76,351.8 L208.75,351.37 L209.75,350.93 L210.75,350.48 L211.75,350.02 L212.75,349.56 L213.75,349.1 L214.74,348.62 L215.74,348.14 L216.74,347.65 L217.74,347.15 L218.74,346.65 L219.73,346.13 L220.73,345.61 L221.73,345.08 L222.73,344.54 L223.73,343.99 L224.73,343.44 L225.72,342.88 L226.72,342.31 L227.72,341.74 L228.72,341.16 L229.72,340.58 L230.71,339.98 L231.71,339.38 L232.71,338.78 L233.71,338.16 L234.71,337.53 L235.71,336.89 L236.7,336.23 L237.7,335.56 L238.7,334.88 L239.7,334.19 L240.7,333.49 L241.69,332.77 L242.69,332.06 L243.69,331.33 L244.69,330.6 L245.69,329.87 L246.69,329.14 L247.68,328.41 L248.68,327.69 L249.68,326.97 L250.68,326.25 L251.68,325.54 L252.67,324.85 L253.67,324.16 L254.67,323.48 L255.67,322.83 L256.67,322.18 L257.67,321.55 L258.66,320.94 L259.66,320.35 L260.66,319.76 L261.66,319.19 L262.66,318.62 L263.65,318.06 L264.65,317.5 L265.65,316.93 L266.65,316.36 L267.65,315.77 L268.65,315.16 L269.64,314.54 L270.64,313.89 L271.64,313.23 L272.64,312.54 L273.64,311.84 L274.63,311.13 L275.63,310.43 L276.63,309.74 L277.63,309.07 L278.63,308.43 L279.63,307.83 L280.62,307.25 L281.62,306.7 L282.62,306.17 L283.62,305.67 L284.62,305.18 L285.61,304.71 L286.61,304.26 L287.61,303.83 L288.61,303.41 L289.61,303.01 L290.61,302.63 L291.6,302.26 L292.6,301.91 L293.6,301.57 L294.6,301.24 L295.6,300.92 L296.59,300.62 L297.59,300.33 L298.59,300.04 L299.59,299.77 L300.59,299.52 L301.59,299.27 L302.58,299.04 L303.58,298.82 L304.58,298.61 L305.58,298.4 L306.58,298.21 L307.57,298.02 L308.57,297.83 L309.57,297.66 L310.57,297.5 L311.57,297.35 L312.57,297.23 L313.56,297.13 L314.56,297.05 L315.56,297 L316.56,296.97 L317.56,296.96 L318.55,296.96 L319.55,296.98 L320.55,297.02 L321.55,297.06 L322.55,297.11 L323.55,297.16 L324.54,297.23 L325.54,297.3 L326.54,297.37 L327.54,297.45 L328.54,297.54 L329.53,297.63 L330.53,297.73 L331.53,297.83 L332.53,297.95 L333.53,298.08 L334.53,298.22 L335.52,298.39 L336.52,298.57 L337.52,298.77 L338.52,299 L339.52,299.24 L340.51,299.5 L341.51,299.77 L342.51,300.06 L343.51,300.36 L344.51,300.67 L345.51,301 L346.5,301.33 L347.5,301.66 L348.5,302" fill="none" stroke="#0000ff" stroke-width="1.2" stroke-dasharray="2.9 2.2" stroke-linejoin="round"/>
<path d="M74,243.8 L74.5,243.72 L75,243.64 L75.5,243.56 L76,243.49 L76.5,243.42 L77,243.36 L77.5,243.29 L78,243.23 L78.5,243.17 L79,243.12 L79.5,243.07 L80,243.02 L80.5,242.97 L81,242.93 L81.5,242.89 L82,242.85 L82.5,242.81 L83,242.78 L83.5,242.75 L84,242.72 L84.5,242.69 L85,242.67 L85.5,242.64 L86,242.62 L86.5,242.61 L87,242.59 L87.5,242.57 L88,242.56 L88.5,242.55 L89,242.54 L89.5,242.54 L90,242.53 L90.5,242.53 L91,242.53 L91.5,242.53 L92,242.53 L92.5,242.53 L93,242.54 L93.5,242.54 L94,242.55 L94.5,242.56 L95,242.57 L95.5,242.58 L96,242.59 L96.5,242.61 L97,242.62 L97.5,242.64 L98,242.66 L98.5,242.67 L99,242.69 L99.5,242.72 L100,242.74 L100.5,242.76 L101,242.78 L101.5,242.81 L102,242.84 L102.5,242.86 L103,242.89 L103.5,242.92 L104,242.95 L104.5,242.98 L105,243.01 L105.5,243.04 L106,243.07 L106.5,243.1 L107,243.14 L107.5,243.17 L108,243.2 L108.5,243.24 L109,243.28 L109.5,243.31 L110,243.35 L110.5,243.38 L111,243.42 L111.5,243.46 L112,243.5 L112.5,243.54 L113,243.58 L113.5,243.62 L114,243.65 L114.5,243.69 L115,243.74 L115.5,243.78 L116,243.82 L116.5,243.86 L117,243.9 L117.5,243.94 L118,243.98 L118.5,244.02 L119,244.07 L119.5,244.11 L120,244.15 L120.5,244.19 L121,244.24 L121.5,244.28 L122,244.32 L122.5,244.36 L123,244.41 L123.5,244.45 L124,244.49 L124.5,244.54 L125,244.58 L125.5,244.62 L126,244.67 L126.5,244.71 L127,244.75 L127.5,244.8 L128,244.84 L128.5,244.88 L129,244.92 L129.5,244.97 L130,245.01 L130.5,245.05 L131,245.1 L131.5,245.14 L132,245.18 L132.5,245.22 L133,245.27 L133.5,245.31 L134,245.35 L134.5,245.39 L135,245.44 L135.5,245.48 L136,245.52 L136.5,245.56 L137,245.6 L137.5,245.64 L138,245.69 L138.5,245.73 L139,245.77 L139.5,245.81 L140,245.85 L140.5,245.89 L141,245.93 L141.5,245.97 L142,246.01 L142.5,246.05 L143,246.1 L143.5,246.14 L144,246.18 L144.5,246.22 L145,246.26 L145.5,246.3 L146,246.34 L146.5,246.38 L147,246.42 L147.5,246.46 L148,246.5 L148.5,246.53 L149,246.57 L149.5,246.61 L150,246.65 L150.5,246.69 L151,246.73 L151.5,246.77 L152,246.81 L152.5,246.85 L153,246.89 L153.5,246.93 L154,246.97 L154.5,247.01 L155,247.05 L155.5,247.09 L156,247.12 L156.5,247.16 L157,247.2 L157.5,247.24 L158,247.28 L158.5,247.32 L159,247.36 L159.5,247.4 L160,247.44 L160.5,247.48 L161,247.52 L161.5,247.56 L162,247.6 L162.5,247.64 L163,247.68 L163.5,247.72 L164,247.76 L164.5,247.81 L165,247.85 L165.5,247.89 L166,247.93 L166.5,247.97 L167,248.01 L167.5,248.06 L168,248.1 L168.5,248.14 L169,248.19 L169.5,248.23 L170,248.27 L170.5,248.32 L171,248.36 L171.5,248.41 L172,248.45 L172.5,248.5 L173,248.54 L173.5,248.59 L174,248.64 L174.5,248.68 L175,248.73 L175.5,248.78 L176,248.83 L176.5,248.88 L177,248.93 L177.5,248.98 L178,249.03 L178.5,249.08 L179,249.13 L179.5,249.18 L180,249.23 L180.5,249.29 L181,249.34 L181.5,249.4 L182,249.45 L182.5,249.51 L183,249.56 L183.5,249.62 L184,249.68 L184.5,249.74 L185,249.8 L185.5,249.86 L186,249.92 L186.5,249.98 L187,250.04 L187.5,250.1 L188,250.17 L188.5,250.23 L189,250.3 L189.5,250.36 L190,250.43 L190.5,250.5 L191,250.57 L191.5,250.63 L192,250.71 L192.5,250.78 L193,250.85 L193.5,250.92 L194,251 L194.5,251.07 L195,251.15 L195.5,251.22 L196,251.3 L196.5,251.38 L197,251.46 L197.5,251.54 L198,251.62 L198.5,251.71 L199,251.79 L199.5,251.88 L200,251.96 L200.5,252.05 L201,252.14 L201.5,252.23 L202,252.32 L202.5,252.41 L203,252.51 L203.5,252.6 L204,252.7 L204.5,252.8 L205,252.89 L205.5,252.99 L206,253.09 L206.5,253.2 L207,253.3 L207.5,253.4 L208,253.51 L208.5,253.62 L209,253.73 L209.5,253.84 L210,253.95 L210.5,254.06 L211,254.18 L211.5,254.29 L212,254.41 L212.5,254.53 L213,254.65 L213.5,254.77 L214,254.89 L214.5,255.01 L215,255.14 L215.5,255.27 L216,255.4 L216.5,255.53 L217,255.66 L217.5,255.79 L218,255.93 L218.5,256.06 L219,256.2 L219.5,256.34 L220,256.48 L220.5,256.62 L221,256.76 L221.5,256.91 L222,257.06 L222.5,257.21 L223,257.36 L223.5,257.51 L224,257.66 L224.5,257.82 L225,257.97 L225.5,258.13 L226,258.29 L226.5,258.45 L227,258.62 L227.5,258.78 L228,258.95 L228.5,259.12 L229,259.29 L229.5,259.46 L230,259.63 L230.5,259.81 L231,259.98 L231.5,260.16 L232,260.34 L232.5,260.52 L233,260.71 L233.5,260.89 L234,261.08 L234.5,261.27 L235,261.46 L235.5,261.65 L236,261.84 L236.5,262.04 L237,262.23 L237.5,262.43 L238,262.63 L238.5,262.83 L239,263.04 L239.5,263.24 L240,263.45 L240.5,263.66 L241,263.87 L241.5,264.08 L242,264.3 L242.5,264.51 L243,264.73 L243.5,264.95 L244,265.17 L244.5,265.39 L245,265.62 L245.5,265.84 L246,266.07 L246.5,266.3 L247,266.53 L247.5,266.76 L248,266.99 L248.5,267.23 L249,267.47 L249.5,267.71 L250,267.95 L250.5,268.19 L251,268.43 L251.5,268.68 L252,268.92 L252.5,269.17 L253,269.42 L253.5,269.67 L254,269.93 L254.5,270.18 L255,270.44 L255.5,270.69 L256,270.95 L256.5,271.21 L257,271.48 L257.5,271.74 L258,272 L258.5,272.27 L259,272.54 L259.5,272.81 L260,273.08 L260.5,273.35 L261,273.62 L261.5,273.9 L262,274.17 L262.5,274.45 L263,274.73 L263.5,275.01 L264,275.29 L264.5,275.57 L265,275.85 L265.5,276.14 L266,276.42 L266.5,276.71 L267,277 L267.5,277.28 L268,277.57 L268.5,277.87 L269,278.16 L269.5,278.45 L270,278.74 L270.5,279.04 L271,279.33 L271.5,279.63 L272,279.93 L272.5,280.23 L273,280.53 L273.5,280.83 L274,281.13 L274.5,281.43 L275,281.73 L275.5,282.03 L276,282.34 L276.5,282.64 L277,282.95 L277.5,283.25 L278,283.56 L278.5,283.86 L279,284.17 L279.5,284.48 L280,284.78 L280.5,285.09 L281,285.4 L281.5,285.71 L282,286.02 L282.5,286.33 L283,286.63 L283.5,286.94 L284,287.25 L284.5,287.56 L285,287.87 L285.5,288.18 L286,288.49 L286.5,288.8 L287,289.11 L287.5,289.42 L288,289.72 L288.5,290.03 L289,290.34 L289.5,290.65 L290,290.95 L290.5,291.26 L291,291.57 L291.5,291.87 L292,292.18 L292.5,292.48 L293,292.78 L293.5,293.09 L294,293.39 L294.5,293.69 L295,293.99 L295.5,294.29 L296,294.59 L296.5,294.88 L297,295.18 L297.5,295.47 L298,295.77 L298.5,296.06 L299,296.35 L299.5,296.64 L300,296.93 L300.5,297.22 L301,297.5 L301.5,297.78 L302,298.06 L302.5,298.34 L303,298.62 L303.5,298.9 L304,299.17 L304.5,299.45 L305,299.72 L305.5,299.98 L306,300.25 L306.5,300.51 L307,300.77 L307.5,301.03 L308,301.29 L308.5,301.54 L309,301.79 L309.5,302.04 L310,302.29 L310.5,302.53 L311,302.77 L311.5,303.01 L312,303.24 L312.5,303.47 L313,303.7 L313.5,303.92 L314,304.14 L314.5,304.36 L315,304.58 L315.5,304.79 L316,304.99 L316.5,305.2 L317,305.39 L317.5,305.59 L318,305.78 L318.5,305.97 L318.5,305.7 L319.47,305.13 L320.44,304.56 L321.4,303.99 L322.37,303.43 L323.34,302.88 L324.31,302.33 L325.27,301.78 L326.24,301.24 L327.21,300.71 L328.18,300.18 L329.15,299.66 L330.11,299.15 L331.08,298.64 L332.05,298.13 L333.02,297.64 L333.98,297.14 L334.95,296.65 L335.92,296.17 L336.89,295.69 L337.85,295.21 L338.82,294.74 L339.79,294.27 L340.76,293.81 L341.73,293.36 L342.69,292.9 L343.66,292.46 L344.63,292.01 L345.6,291.58 L346.56,291.15 L347.53,290.72 L348.5,290.3" fill="none" stroke="#ff0000" stroke-width="1.3" stroke-linejoin="round"/>
<path d="M74,232.53 L74.5,232.53 L75,232.53 L75.5,232.53 L76,232.52 L76.5,232.52 L77,232.52 L77.5,232.52 L78,232.52 L78.5,232.52 L79,232.52 L79.5,232.52 L80,232.52 L80.5,232.53 L81,232.53 L81.5,232.53 L82,232.53 L82.5,232.54 L83,232.54 L83.5,232.55 L84,232.55 L84.5,232.56 L85,232.57 L85.5,232.57 L86,232.58 L86.5,232.59 L87,232.6 L87.5,232.61 L88,232.63 L88.5,232.64 L89,232.65 L89.5,232.66 L90,232.68 L90.5,232.7 L91,232.71 L91.5,232.73 L92,232.75 L92.5,232.77 L93,232.79 L93.5,232.81 L94,232.83 L94.5,232.85 L95,232.88 L95.5,232.9 L96,232.93 L96.5,232.96 L97,232.98 L97.5,233.01 L98,233.04 L98.5,233.07 L99,233.11 L99.5,233.14 L100,233.17 L100.5,233.21 L101,233.24 L101.5,233.28 L102,233.32 L102.5,233.36 L103,233.4 L103.5,233.44 L104,233.48 L104.5,233.52 L105,233.56 L105.5,233.61 L106,233.65 L106.5,233.7 L107,233.75 L107.5,233.8 L108,233.85 L108.5,233.9 L109,233.95 L109.5,234 L110,234.05 L110.5,234.11 L111,234.16 L111.5,234.22 L112,234.28 L112.5,234.34 L113,234.4 L113.5,234.46 L114,234.52 L114.5,234.58 L115,234.64 L115.5,234.7 L116,234.77 L116.5,234.83 L117,234.9 L117.5,234.97 L118,235.04 L118.5,235.11 L119,235.18 L119.5,235.25 L120,235.32 L120.5,235.39 L121,235.47 L121.5,235.54 L122,235.62 L122.5,235.69 L123,235.77 L123.5,235.85 L124,235.93 L124.5,236.01 L125,236.09 L125.5,236.17 L126,236.25 L126.5,236.33 L127,236.42 L127.5,236.5 L128,236.59 L128.5,236.67 L129,236.76 L129.5,236.85 L130,236.94 L130.5,237.03 L131,237.12 L131.5,237.21 L132,237.3 L132.5,237.39 L133,237.49 L133.5,237.58 L134,237.68 L134.5,237.78 L135,237.87 L135.5,237.97 L136,238.07 L136.5,238.17 L137,238.27 L137.5,238.37 L138,238.47 L138.5,238.57 L139,238.68 L139.5,238.78 L140,238.89 L140.5,238.99 L141,239.1 L141.5,239.21 L142,239.32 L142.5,239.43 L143,239.54 L143.5,239.65 L144,239.76 L144.5,239.87 L145,239.99 L145.5,240.1 L146,240.22 L146.5,240.33 L147,240.45 L147.5,240.57 L148,240.69 L148.5,240.81 L149,240.93 L149.5,241.05 L150,241.17 L150.5,241.29 L151,241.42 L151.5,241.54 L152,241.67 L152.5,241.8 L153,241.92 L153.5,242.05 L154,242.18 L154.5,242.31 L155,242.44 L155.5,242.58 L156,242.71 L156.5,242.84 L157,242.98 L157.5,243.12 L158,243.25 L158.5,243.39 L159,243.53 L159.5,243.67 L160,243.81 L160.5,243.96 L161,244.1 L161.5,244.24 L162,244.39 L162.5,244.54 L163,244.68 L163.5,244.83 L164,244.98 L164.5,245.14 L165,245.29 L165.5,245.44 L166,245.6 L166.5,245.75 L167,245.91 L167.5,246.07 L168,246.23 L168.5,246.39 L169,246.55 L169.5,246.71 L170,246.88 L170.5,247.04 L171,247.21 L171.5,247.38 L172,247.55 L172.5,247.72 L173,247.89 L173.5,248.06 L174,248.24 L174.5,248.41 L175,248.59 L175.5,248.77 L176,248.95 L176.5,249.13 L177,249.31 L177.5,249.5 L178,249.68 L178.5,249.87 L179,250.06 L179.5,250.25 L180,250.44 L180.5,250.63 L181,250.82 L181.5,251.02 L182,251.22 L182.5,251.42 L183,251.62 L183.5,251.82 L184,252.02 L184.5,252.23 L185,252.43 L185.5,252.64 L186,252.85 L186.5,253.06 L187,253.27 L187.5,253.49 L188,253.7 L188.5,253.92 L189,254.14 L189.5,254.36 L190,254.58 L190.5,254.81 L191,255.04 L191.5,255.26 L192,255.49 L192.5,255.72 L193,255.96 L193.5,256.19 L194,256.43 L194.5,256.67 L195,256.91 L195.5,257.15 L196,257.39 L196.5,257.64 L197,257.88 L197.5,258.13 L198,258.38 L198.5,258.63 L199,258.89 L199.5,259.14 L200,259.4 L200.5,259.66 L201,259.92 L201.5,260.19 L202,260.45 L202.5,260.72 L203,260.99 L203.5,261.26 L204,261.53 L204.5,261.81 L205,262.08 L205.5,262.36 L206,262.64 L206.5,262.92 L207,263.21 L207.5,263.49 L208,263.78 L208.5,264.07 L209,264.36 L209.5,264.65 L210,264.95 L210.5,265.24 L211,265.54 L211.5,265.84 L212,266.15 L212.5,266.45 L213,266.76 L213.5,267.07 L214,267.38 L214.5,267.69 L215,268 L215.5,268.32 L216,268.64 L216.5,268.96 L217,269.28 L217.5,269.6 L218,269.92 L218.5,270.25 L219,270.58 L219.5,270.91 L220,271.24 L220.5,271.58 L221,271.91 L221.5,272.25 L222,272.59 L222.5,272.93 L223,273.27 L223.5,273.62 L224,273.97 L224.5,274.31 L225,274.66 L225.5,275.02 L226,275.37 L226.5,275.72 L227,276.08 L227.5,276.44 L228,276.8 L228.5,277.16 L229,277.52 L229.5,277.89 L230,278.25 L230.5,278.62 L231,278.99 L231.5,279.36 L232,279.73 L232.5,280.11 L233,280.48 L233.5,280.86 L234,281.24 L234.5,281.62 L235,282 L235.5,282.38 L236,282.77 L236.5,283.15 L237,283.54 L237.5,283.93 L238,284.31 L238.5,284.7 L239,285.1 L239.5,285.49 L240,285.88 L240.5,286.28 L241,286.67 L241.5,287.07 L242,287.47 L242.5,287.87 L243,288.27 L243.5,288.67 L244,289.07 L244.5,289.47 L245,289.88 L245.5,290.28 L246,290.69 L246.5,291.09 L247,291.5 L247.5,291.91 L248,292.31 L248.5,292.72 L249,293.13 L249.5,293.54 L250,293.95 L250.5,294.36 L251,294.78 L251.5,295.19 L252,295.6 L252.5,296.01 L253,296.43 L253.5,296.84 L254,297.25 L254.5,297.67 L255,298.08 L255.5,298.5 L256,298.91 L256.5,299.32 L257,299.74 L257.5,300.15 L258,300.57 L258.5,300.98 L259,301.4 L259.5,301.81 L260,302.22 L260.5,302.64 L261,303.05 L261.5,303.46 L262,303.88 L262.5,304.29 L263,304.7 L263.5,305.11 L264,305.52 L264.5,305.93 L265,306.34 L265.5,306.75 L266,307.15 L266.5,307.56 L267,307.97 L267.5,308.37 L268,308.78 L268.5,309.18 L269,309.58 L269.5,309.98 L270,310.38 L270.5,310.78 L271,311.18 L271.5,311.57 L272,311.97 L272.5,312.36 L273,312.75 L273.5,313.14 L274,313.53 L274.5,313.92 L275,314.3 L275.5,314.69 L276,315.07 L276.5,315.45 L277,315.83 L277.5,316.21 L278,316.58 L278.5,316.96 L279,317.33 L279.5,317.7 L280,318.06 L280.5,318.43 L281,318.79 L281.5,319.15 L282,319.51 L282.5,319.86 L283,320.22 L283.5,320.57 L284,320.92 L284.5,321.26 L285,321.6 L285.5,321.95 L286,322.28 L286.5,322.62 L287,322.95 L287.5,323.28 L288,323.61 L288.5,323.93 L289,324.25 L289.5,324.57 L290,324.89 L290.5,325.2 L291,325.51 L291.5,325.81 L292,326.11 L292.5,326.41 L293,326.71 L293.5,327 L294,327.29 L294.5,327.58 L295,327.86 L295.5,328.14 L296,328.41 L296.5,328.68 L297,328.95 L297.5,329.22 L298,329.48 L298.5,329.74 L299,329.99 L299.5,330.24 L300,330.49 L300.5,330.73 L301,330.97 L301.5,331.2 L302,331.43 L302.5,331.66 L303,331.88 L303.5,332.1 L304,332.31 L304.5,332.52 L305,332.73 L305.5,332.93 L306,333.13 L306.5,333.33 L307,333.52 L307.5,333.7 L308,333.88 L308.5,334.06 L309,334.24 L309.5,334.4 L310,334.57 L310.5,334.73 L311,334.89 L311.5,335.04 L312,335.19 L312.5,335.33 L313,335.47 L313.5,335.61 L314,335.74 L314.5,335.87 L315,335.99 L315.5,336.11 L316,336.22 L316.5,336.33 L317,336.44 L317.5,336.54 L318,336.64 L318.5,336.74 L319,336.83 L319.5,336.91 L320,336.99 L320.5,337.07 L321,337.14 L321.5,337.21 L322,337.28 L322.5,337.34 L323,337.4 L323.5,337.45 L324,337.5 L324.5,337.55 L325,337.59 L325.5,337.63 L326,337.67 L326.5,337.7 L327,337.73 L327.5,337.76 L328,337.78 L328.5,337.8 L329,337.81 L329.5,337.83 L330,337.84 L330.5,337.84 L331,337.85 L331.5,337.85 L332,337.85 L332.5,337.84 L333,337.83 L333.5,337.82 L334,337.81 L334.5,337.8 L335,337.78 L335.5,337.76 L336,337.74 L336.5,337.72 L337,337.7 L337.5,337.67 L338,337.64 L338.5,337.62 L339,337.59 L339.5,337.55 L340,337.52 L340.5,337.49 L341,337.46 L341.5,337.42 L342,337.39 L342.5,337.36 L343,337.32 L343.5,337.29 L344,337.25 L344.5,337.22 L345,337.19 L345.5,337.16 L346,337.13 L346.5,337.1 L347,337.07 L347.5,337.04 L348,337.02 L348.5,336.99" fill="none" stroke="#0000ff" stroke-width="1.3" stroke-linejoin="round"/>
<path d="M74,250.5 L75,250.5 L76,250.49 L77,250.49 L77.99,250.49 L78.99,250.48 L79.99,250.47 L80.99,250.46 L81.99,250.45 L82.99,250.44 L83.99,250.43 L84.98,250.42 L85.98,250.4 L86.98,250.39 L87.98,250.37 L88.98,250.35 L89.98,250.33 L90.98,250.31 L91.97,250.29 L92.97,250.27 L93.97,250.25 L94.97,250.22 L95.97,250.2 L96.97,250.17 L97.97,250.14 L98.96,250.12 L99.96,250.09 L100.96,250.06 L101.96,250.03 L102.96,250 L103.96,249.97 L104.96,249.94 L105.95,249.91 L106.95,249.87 L107.95,249.84 L108.95,249.81 L109.95,249.77 L110.95,249.74 L111.95,249.7 L112.94,249.67 L113.94,249.63 L114.94,249.59 L115.94,249.56 L116.94,249.52 L117.94,249.48 L118.94,249.44 L119.93,249.41 L120.93,249.37 L121.93,249.33 L122.93,249.29 L123.93,249.25 L124.93,249.2 L125.92,249.16 L126.92,249.11 L127.92,249.05 L128.92,249 L129.92,248.94 L130.92,248.87 L131.92,248.81 L132.91,248.74 L133.91,248.66 L134.91,248.59 L135.91,248.52 L136.91,248.44 L137.91,248.36 L138.91,248.28 L139.9,248.2 L140.9,248.12 L141.9,248.04 L142.9,247.96 L143.9,247.88 L144.9,247.81 L145.9,247.73 L146.89,247.66 L147.89,247.58 L148.89,247.51 L149.89,247.44 L150.89,247.37 L151.89,247.3 L152.89,247.24 L153.88,247.17 L154.88,247.1 L155.88,247.04 L156.88,246.97 L157.88,246.9 L158.88,246.84 L159.88,246.77 L160.87,246.71 L161.87,246.64 L162.87,246.57 L163.87,246.5 L164.87,246.43 L165.87,246.36 L166.87,246.29 L167.86,246.22 L168.86,246.15 L169.86,246.07 L170.86,246 L171.86,245.92 L172.86,245.84 L173.86,245.76 L174.85,245.68 L175.85,245.59 L176.85,245.5 L177.85,245.42 L178.85,245.33 L179.85,245.24 L180.85,245.14 L181.84,245.05 L182.84,244.95 L183.84,244.85 L184.84,244.75 L185.84,244.65 L186.84,244.55 L187.84,244.44 L188.83,244.34 L189.83,244.23 L190.83,244.11 L191.83,244 L192.83,243.88 L193.83,243.77 L194.83,243.64 L195.82,243.52 L196.82,243.39 L197.82,243.26 L198.82,243.13 L199.82,242.99 L200.82,242.85 L201.82,242.71 L202.81,242.56 L203.81,242.41 L204.81,242.26 L205.81,242.11 L206.81,241.95 L207.81,241.79 L208.81,241.63 L209.8,241.46 L210.8,241.3 L211.8,241.13 L212.8,240.95 L213.8,240.78 L214.8,240.6 L215.79,240.41 L216.79,240.22 L217.79,240.03 L218.79,239.83 L219.79,239.63 L220.79,239.42 L221.79,239.21 L222.78,238.99 L223.78,238.77 L224.78,238.55 L225.78,238.33 L226.78,238.11 L227.78,237.88 L228.78,237.65 L229.77,237.43 L230.77,237.2 L231.77,236.98 L232.77,236.75 L233.77,236.53 L234.77,236.3 L235.77,236.08 L236.76,235.85 L237.76,235.63 L238.76,235.4 L239.76,235.18 L240.76,234.95 L241.76,234.72 L242.76,234.49 L243.75,234.26 L244.75,234.02 L245.75,233.79 L246.75,233.56 L247.75,233.33 L248.75,233.09 L249.75,232.86 L250.74,232.63 L251.74,232.4 L252.74,232.16 L253.74,231.93 L254.74,231.7 L255.74,231.47 L256.74,231.24 L257.73,231.02 L258.73,230.79 L259.73,230.56 L260.73,230.34 L261.73,230.11 L262.73,229.89 L263.73,229.67 L264.72,229.45 L265.72,229.23 L266.72,229 L267.72,228.78 L268.72,228.56 L269.72,228.35 L270.72,228.13 L271.71,227.91 L272.71,227.69 L273.71,227.47 L274.71,227.25 L275.71,227.03 L276.71,226.82 L277.71,226.6 L278.7,226.38 L279.7,226.16 L280.7,225.94 L281.7,225.72 L282.7,225.5 L283.7,225.29 L284.7,225.07 L285.69,224.85 L286.69,224.62 L287.69,224.4 L288.69,224.18 L289.69,223.96 L290.69,223.73 L291.69,223.51 L292.68,223.28 L293.68,223.06 L294.68,222.83 L295.68,222.61 L296.68,222.38 L297.68,222.16 L298.68,221.94 L299.67,221.71 L300.67,221.49 L301.67,221.27 L302.67,221.05 L303.67,220.84 L304.67,220.62 L305.66,220.41 L306.66,220.2 L307.66,219.99 L308.66,219.78 L309.66,219.57 L310.66,219.37 L311.66,219.17 L312.65,218.97 L313.65,218.77 L314.65,218.57 L315.65,218.37 L316.65,218.17 L317.65,217.97 L318.65,217.78 L319.64,217.58 L320.64,217.39 L321.64,217.2 L322.64,217 L323.64,216.81 L324.64,216.62 L325.64,216.43 L326.63,216.24 L327.63,216.05 L328.63,215.87 L329.63,215.68 L330.63,215.5 L331.63,215.31 L332.63,215.13 L333.62,214.94 L334.62,214.76 L335.62,214.58 L336.62,214.4 L337.62,214.22 L338.62,214.05 L339.62,213.87 L340.61,213.69 L341.61,213.52 L342.61,213.34 L343.61,213.17 L344.61,213 L345.61,212.83 L346.61,212.66 L347.6,212.49 L348.6,212.32 L349.6,212.16 L350.6,212" fill="none" stroke="#0000ff" stroke-width="1.3" stroke-dasharray="3 2.2 0.9 2" stroke-linejoin="round"/>
<path d="M73.75,371.7v-2.8 M73.75,200.7v2.8 M142.93,371.7v-2.8 M142.93,200.7v2.8 M212.11,371.7v-2.8 M212.11,200.7v2.8 M281.29,371.7v-2.8 M281.29,200.7v2.8 M350.47,371.7v-2.8 M350.47,200.7v2.8 M91.05,371.7v-1.8 M91.05,200.7v1.8 M108.34,371.7v-1.8 M108.34,200.7v1.8 M125.63,371.7v-1.8 M125.63,200.7v1.8 M160.22,371.7v-1.8 M160.22,200.7v1.8 M177.52,371.7v-1.8 M177.52,200.7v1.8 M194.81,371.7v-1.8 M194.81,200.7v1.8 M229.41,371.7v-1.8 M229.41,200.7v1.8 M246.7,371.7v-1.8 M246.7,200.7v1.8 M264,371.7v-1.8 M264,200.7v1.8 M298.58,371.7v-1.8 M298.58,200.7v1.8 M315.88,371.7v-1.8 M315.88,200.7v1.8 M333.17,371.7v-1.8 M333.17,200.7v1.8 M73.75,370.2h2.8 M350.6,370.2h-2.8 M73.75,332.55h2.8 M350.6,332.55h-2.8 M73.75,294.9h2.8 M350.6,294.9h-2.8 M73.75,257.25h2.8 M350.6,257.25h-2.8 M73.75,219.6h2.8 M350.6,219.6h-2.8 M73.75,360.79h1.8 M350.6,360.79h-1.8 M73.75,351.38h1.8 M350.6,351.38h-1.8 M73.75,341.96h1.8 M350.6,341.96h-1.8 M73.75,323.14h1.8 M350.6,323.14h-1.8 M73.75,313.72h1.8 M350.6,313.72h-1.8 M73.75,304.31h1.8 M350.6,304.31h-1.8 M73.75,285.49h1.8 M350.6,285.49h-1.8 M73.75,276.07h1.8 M350.6,276.07h-1.8 M73.75,266.66h1.8 M350.6,266.66h-1.8 M73.75,247.84h1.8 M350.6,247.84h-1.8 M73.75,238.42h1.8 M350.6,238.42h-1.8 M73.75,229.01h1.8 M350.6,229.01h-1.8 M73.75,210.19h1.8 M350.6,210.19h-1.8" stroke="#000" stroke-width="1" fill="none"/>
<rect x="73.75" y="200.7" width="276.85" height="171" fill="none" stroke="#000" stroke-width="1.3"/>
<text x="73.75" y="384.1" text-anchor="middle" font-size="10.8">0.0</text>
<text x="142.93" y="384.1" text-anchor="middle" font-size="10.8">0.2</text>
<text x="212.11" y="384.1" text-anchor="middle" font-size="10.8">0.4</text>
<text x="281.29" y="384.1" text-anchor="middle" font-size="10.8">0.6</text>
<text x="350.47" y="384.1" text-anchor="middle" font-size="10.8">0.8</text>
<text x="71.75" y="374.09" text-anchor="end" font-size="10.8">0.0</text>
<text x="71.75" y="336.44" text-anchor="end" font-size="10.8">0.2</text>
<text x="71.75" y="298.79" text-anchor="end" font-size="10.8">0.4</text>
<text x="71.75" y="261.14" text-anchor="end" font-size="10.8">0.6</text>
<text x="71.75" y="223.49" text-anchor="end" font-size="10.8">0.8</text>
<text x="90.8" y="222" font-size="13" word-spacing="0.4">V<tspan font-size="10" dy="2.7">2</tspan><tspan dy="-2.7"> / V = 0.6</tspan></text>
<line x1="80.8" y1="300.9" x2="100" y2="300.9" stroke="#0000ff" stroke-width="1.1"/>
<text x="104.2" y="305.2" font-size="13">Z<tspan font-size="10.14" dy="2.5">2</tspan></text>
<line x1="80.8" y1="319.9" x2="100" y2="319.9" stroke="#0000ff" stroke-width="1.1" stroke-dasharray="2.9 2.2"/>
<text x="104.2" y="324.2" font-size="13">Z<tspan font-size="10.14" dy="2.5">3</tspan></text>
<line x1="80.8" y1="339.4" x2="100" y2="339.4" stroke="#0000ff" stroke-width="1.1" stroke-dasharray="3 2.2 0.9 2"/>
<text x="104.2" y="343.7" font-size="13">Z<tspan font-size="10.14" dy="2.5">5</tspan></text>
<line x1="134.1" y1="310.5" x2="153.1" y2="310.5" stroke="#ff0000" stroke-width="1.1"/>
<text x="157.6" y="314.8" font-size="13">W<tspan font-size="10.14" dy="2.5">2</tspan></text>
<line x1="134.1" y1="330" x2="153.1" y2="330" stroke="#ff0000" stroke-width="1.1" stroke-dasharray="2.9 2.2"/>
<text x="157.6" y="334.3" font-size="13">W<tspan font-size="10.14" dy="2.5">3</tspan></text>
<g transform="translate(212.6,398) scale(1.0,1)"><text x="0" y="0" text-anchor="middle" font-size="10.4" font-weight="bold"><tspan font-style="italic">V</tspan><tspan font-style="italic" font-size="7.279999999999999" dy="2">R</tspan><tspan dy="-2"> / V</tspan></text></g>
<line x1="28.6" y1="236" x2="28.6" y2="337.5" stroke="#000" stroke-width="1"/>
<g transform="translate(17.9,332.3) rotate(-90)"><text x="0.11" y="0" font-size="8.07" font-weight="bold" font-style="italic">σ</text><text x="13.36" y="0" font-size="8.55" font-weight="bold">pp</text><text x="37.26" y="0" font-size="9.5" font-weight="bold" font-style="italic">Z</text><text x="44.73" y="2.2" font-size="6.5" font-style="italic">i</text><text x="60.1" y="2.2" font-size="6.5" font-style="italic">i</text><text x="47.49" y="0" font-size="6.5" font-style="italic">/</text><text x="50.72" y="0" font-size="9.5" font-weight="bold" font-style="italic">W</text><text x="76.74" y="0" font-size="9.5" font-weight="bold" font-style="italic">f</text><text x="83.1" y="0" font-size="9.5" font-weight="bold" font-style="italic">f</text><path d="M26.18,-2.9H31.47" stroke="#000" stroke-width="1.05" fill="none"/><path d="M32.97,-2.9L30.27,-5.3L30.97,-2.9L30.27,-0.5Z" fill="#000"/><path d="M67.73,-2.9H73.23" stroke="#000" stroke-width="1.05" fill="none"/><path d="M74.73,-2.9L72.03,-5.3L72.73,-2.9L72.03,-0.5Z" fill="#000"/><path d="M84.91,-10.7H87.77" stroke="#000" stroke-width="0.8"/><path d="M12.3,-11.2Q5.94,-2.2 12.3,6.8" stroke="#000" stroke-width="1" fill="none"/><path d="M89.36,-11.2Q93.81,-2.2 89.36,6.8" stroke="#000" stroke-width="1" fill="none"/></g>
<g transform="translate(46,336.3) rotate(-90)"><text x="-0.11" y="0" font-size="8.07" font-weight="bold" font-style="italic">σ</text><text x="12.51" y="0" font-size="8.55" font-weight="bold">pp</text><text x="35.93" y="0" font-size="9.5" font-weight="bold" font-style="italic">Z</text><text x="42.93" y="2.2" font-size="6.3" font-weight="bold" font-style="italic">X</text><text x="64.66" y="2.2" font-size="6.3" font-weight="bold" font-style="italic">X</text><text x="49.5" y="0" font-size="6.5" font-style="italic">/</text><text x="55.76" y="0" font-size="9.5" font-weight="bold" font-style="italic">W</text><text x="85.01" y="0" font-size="9.5" font-weight="bold" font-style="italic">f</text><text x="90.31" y="0" font-size="9.5" font-weight="bold" font-style="italic">f</text><path d="M24.7,-2.9H30.09" stroke="#000" stroke-width="1.05" fill="none"/><path d="M31.59,-2.9L28.89,-5.3L29.59,-2.9L28.89,-0.5Z" fill="#000"/><path d="M74.84,-2.9H80.23" stroke="#000" stroke-width="1.05" fill="none"/><path d="M81.73,-2.9L79.03,-5.3L79.73,-2.9L79.03,-0.5Z" fill="#000"/><path d="M91.58,-10.7H94.98" stroke="#000" stroke-width="0.8"/><path d="M11.66,-11.2Q4.45,-2.2 11.66,6.8" stroke="#000" stroke-width="1" fill="none"/><path d="M96.46,-11.2Q101.76,-2.2 96.46,6.8" stroke="#000" stroke-width="1" fill="none"/></g>
<path d="M403.75,201.78 L404,202.29 L404.25,202.79 L404.5,203.3 L404.75,203.8 L405,204.3 L405.25,204.8 L405.5,205.3 L405.75,205.8 L406,206.29 L406.25,206.79 L406.5,207.28 L406.75,207.77 L407,208.26 L407.25,208.75 L407.5,209.23 L407.75,209.72 L408,210.2 L408.25,210.68 L408.5,211.16 L408.75,211.64 L409,212.12 L409.25,212.6 L409.5,213.07 L409.75,213.54 L410,214.01 L410.25,214.48 L410.5,214.95 L410.75,215.42 L411,215.88 L411.25,216.35 L411.5,216.81 L411.75,217.27 L412,217.73 L412.25,218.18 L412.5,218.64 L412.75,219.1 L413,219.55 L413.25,220 L413.5,220.45 L413.75,220.9 L414,221.35 L414.25,221.79 L414.5,222.24 L414.75,222.68 L415,223.12 L415.25,223.56 L415.5,224 L415.75,224.44 L416,224.87 L416.25,225.31 L416.5,225.74 L416.75,226.17 L417,226.6 L417.25,227.03 L417.5,227.46 L417.75,227.88 L418,228.31 L418.25,228.73 L418.5,229.15 L418.75,229.57 L419,229.99 L419.25,230.4 L419.5,230.82 L419.75,231.23 L420,231.65 L420.25,232.06 L420.5,232.47 L420.75,232.88 L421,233.29 L421.25,233.69 L421.5,234.1 L421.75,234.5 L422,234.9 L422.25,235.3 L422.5,235.7 L422.75,236.1 L423,236.5 L423.25,236.89 L423.5,237.28 L423.75,237.68 L424,238.07 L424.25,238.46 L424.5,238.85 L424.75,239.23 L425,239.62 L425.25,240 L425.5,240.39 L425.75,240.77 L426,241.15 L426.25,241.53 L426.5,241.9 L426.75,242.28 L427,242.66 L427.25,243.03 L427.5,243.4 L427.75,243.77 L428,244.14 L428.25,244.51 L428.5,244.88 L428.75,245.25 L429,245.61 L429.25,245.97 L429.5,246.34 L429.75,246.7 L430,247.06 L430.25,247.41 L430.5,247.77 L430.75,248.13 L431,248.48 L431.25,248.84 L431.5,249.19 L431.75,249.54 L432,249.89 L432.25,250.24 L432.5,250.58 L432.75,250.93 L433,251.27 L433.25,251.62 L433.5,251.96 L433.75,252.3 L434,252.64 L434.25,252.98 L434.5,253.32 L434.75,253.65 L435,253.99 L435.25,254.32 L435.5,254.65 L435.75,254.98 L436,255.31 L436.25,255.64 L436.5,255.97 L436.75,256.3 L437,256.62 L437.25,256.95 L437.5,257.27 L437.75,257.59 L438,257.91 L438.25,258.23 L438.5,258.55 L438.75,258.87 L439,259.18 L439.25,259.5 L439.5,259.81 L439.75,260.12 L440,260.44 L440.25,260.75 L440.5,261.05 L440.75,261.36 L441,261.67 L441.25,261.97 L441.5,262.28 L441.75,262.58 L442,262.89 L442.25,263.19 L442.5,263.49 L442.75,263.79 L443,264.08 L443.25,264.38 L443.5,264.68 L443.75,264.97 L444,265.26 L444.25,265.56 L444.5,265.85 L444.75,266.14 L445,266.43 L445.25,266.72 L445.5,267 L445.75,267.29 L446,267.57 L446.25,267.86 L446.5,268.14 L446.75,268.42 L447,268.7 L447.25,268.98 L447.5,269.26 L447.75,269.54 L448,269.82 L448.25,270.09 L448.5,270.37 L448.75,270.64 L449,270.91 L449.25,271.18 L449.5,271.45 L449.75,271.72 L450,271.99 L450.25,272.26 L450.5,272.52 L450.75,272.79 L451,273.05 L451.25,273.32 L451.5,273.58 L451.75,273.84 L452,274.1 L452.25,274.36 L452.5,274.62 L452.75,274.88 L453,275.13 L453.25,275.39 L453.5,275.64 L453.75,275.9 L454,276.15 L454.25,276.4 L454.5,276.65 L454.75,276.9 L455,277.15 L455.25,277.4 L455.5,277.65 L455.75,277.89 L456,278.14 L456.25,278.38 L456.5,278.62 L456.75,278.87 L457,279.11 L457.25,279.35 L457.5,279.59 L457.75,279.83 L458,280.06 L458.25,280.3 L458.5,280.54 L458.75,280.77 L459,281.01 L459.25,281.24 L459.5,281.47 L459.75,281.7 L460,281.94 L460.25,282.16 L460.5,282.39 L460.75,282.62 L461,282.85 L461.25,283.08 L461.5,283.3 L461.75,283.53 L462,283.75 L462.25,283.97 L462.5,284.19 L462.75,284.42 L463,284.64 L463.25,284.86 L463.5,285.07 L463.75,285.29 L464,285.51 L464.25,285.73 L464.5,285.94 L464.75,286.16 L465,286.37 L465.25,286.58 L465.5,286.8 L465.75,287.01 L466,287.22 L466.25,287.43 L466.5,287.64 L466.75,287.84 L467,288.05 L467.25,288.26 L467.5,288.46 L467.75,288.67 L468,288.87 L468.25,289.08 L468.5,289.28 L468.75,289.48 L469,289.68 L469.25,289.88 L469.5,290.08 L469.75,290.28 L470,290.48 L470.25,290.68 L470.5,290.88 L470.75,291.07 L471,291.27 L471.25,291.46 L471.5,291.66 L471.75,291.85 L472,292.04 L472.25,292.23 L472.5,292.43 L472.75,292.62 L473,292.81 L473.25,292.99 L473.5,293.18 L473.75,293.37 L474,293.56 L474.25,293.74 L474.5,293.93 L474.75,294.11 L475,294.3 L475.25,294.48 L475.5,294.66 L475.75,294.85 L476,295.03 L476.25,295.21 L476.5,295.39 L476.75,295.57 L477,295.75 L477.25,295.92 L477.5,296.1 L477.75,296.28 L478,296.45 L478.25,296.63 L478.5,296.81 L478.75,296.98 L479,297.15 L479.25,297.33 L479.5,297.5 L479.75,297.67 L480,297.84 L480.25,298.01 L480.5,298.18 L480.75,298.35 L481,298.52 L481.25,298.69 L481.5,298.86 L481.75,299.02 L482,299.19 L482.25,299.35 L482.5,299.52 L482.75,299.68 L483,299.85 L483.25,300.01 L483.5,300.17 L483.75,300.34 L484,300.5 L484.25,300.66 L484.5,300.82 L484.75,300.98 L485,301.14 L485.25,301.3 L485.5,301.46 L485.75,301.61 L486,301.77 L486.25,301.93 L486.5,302.08 L486.75,302.24 L487,302.39 L487.25,302.55 L487.5,302.7 L487.75,302.86 L488,303.01 L488.25,303.16 L488.5,303.31 L488.75,303.47 L489,303.62 L489.25,303.77 L489.5,303.92 L489.75,304.07 L490,304.21 L490.25,304.36 L490.5,304.51 L490.75,304.66 L491,304.81 L491.25,304.95 L491.5,305.1 L491.75,305.24 L492,305.39 L492.25,305.53 L492.5,305.68 L492.75,305.82 L493,305.96 L493.25,306.11 L493.5,306.25 L493.75,306.39 L494,306.53 L494.25,306.67 L494.5,306.81 L494.75,306.95 L495,307.09 L495.25,307.23 L495.5,307.37 L495.75,307.51 L496,307.64 L496.25,307.78 L496.5,307.92 L496.75,308.05 L497,308.19 L497.25,308.33 L497.5,308.46 L497.75,308.6 L498,308.73 L498.25,308.86 L498.5,309 L498.75,309.13 L499,309.26 L499.25,309.4 L499.5,309.53 L499.75,309.66 L500,309.79 L500.25,309.92 L500.5,310.05 L500.75,310.18 L501,310.31 L501.25,310.44 L501.5,310.57 L501.75,310.7 L502,310.83 L502.25,310.95 L502.5,311.08 L502.75,311.21 L503,311.33 L503.25,311.46 L503.5,311.59 L503.75,311.71 L504,311.84 L504.25,311.96 L504.5,312.09 L504.75,312.21 L505,312.33 L505.25,312.46 L505.5,312.58 L505.75,312.7 L506,312.83 L506.25,312.95 L506.5,313.07 L506.75,313.19 L507,313.31 L507.25,313.43 L507.5,313.55 L507.75,313.67 L508,313.79 L508.25,313.91 L508.5,314.03 L508.75,314.15 L509,314.27 L509.25,314.39 L509.5,314.5 L509.75,314.62 L510,314.74 L510.25,314.86 L510.5,314.97 L510.75,315.09 L511,315.21 L511.25,315.32 L511.5,315.44 L511.75,315.55 L512,315.67 L512.25,315.78 L512.5,315.9 L512.75,316.01 L513,316.13 L513.25,316.24 L513.5,316.35 L513.75,316.47 L514,316.58 L514.25,316.69 L514.5,316.8 L514.75,316.92 L515,317.03 L515.25,317.14 L515.5,317.25 L515.75,317.36 L516,317.47 L516.25,317.58 L516.5,317.69 L516.75,317.8 L517,317.91 L517.25,318.02 L517.5,318.13 L517.75,318.24 L518,318.35 L518.25,318.46 L518.5,318.57 L518.75,318.68 L519,318.78 L519.25,318.89 L519.5,319 L519.75,319.11 L520,319.21 L520.25,319.32 L520.5,319.43 L520.75,319.53 L521,319.64 L521.25,319.74 L521.5,319.85 L521.75,319.96 L522,320.06 L522.25,320.17 L522.5,320.27 L522.75,320.38 L523,320.48 L523.25,320.59 L523.5,320.69 L523.75,320.79 L524,320.9 L524.25,321 L524.5,321.1 L524.75,321.21 L525,321.31 L525.25,321.41 L525.5,321.52 L525.75,321.62 L526,321.72 L526.25,321.82 L526.5,321.92 L526.75,322.03 L527,322.13 L527.25,322.23 L527.5,322.33 L527.75,322.43 L528,322.53 L528.25,322.63 L528.5,322.73 L528.75,322.83 L529,322.93 L529.25,323.03 L529.5,323.13 L529.75,323.23 L530,323.33 L530.25,323.43 L530.5,323.53 L530.75,323.63 L531,323.73 L531.25,323.83 L531.5,323.93 L531.75,324.02 L532,324.12 L532.25,324.22 L532.5,324.32 L532.75,324.42 L533,324.51 L533.25,324.61 L533.5,324.71 L533.75,324.81 L534,324.9 L534.25,325 L534.5,325.1 L534.75,325.19 L535,325.29 L535.25,325.39 L535.5,325.48 L535.75,325.58 L536,325.67 L536.25,325.77 L536.5,325.86 L536.75,325.96 L537,326.06 L537.25,326.15 L537.5,326.25 L537.75,326.34 L538,326.44 L538.25,326.53 L538.5,326.62 L538.75,326.72 L539,326.81 L539.25,326.91 L539.5,327 L539.75,327.1 L540,327.19 L540.25,327.28 L540.5,327.38 L540.75,327.47 L541,327.56 L541.25,327.66 L541.5,327.75 L541.75,327.84 L542,327.93 L542.25,328.03 L542.5,328.12 L542.75,328.21 L543,328.3 L543.25,328.4 L543.5,328.49 L543.75,328.58 L544,328.67 L544.25,328.76 L544.5,328.86 L544.75,328.95 L545,329.04 L545.25,329.13 L545.5,329.22 L545.75,329.31 L546,329.4 L546.25,329.49 L546.5,329.58 L546.75,329.67 L547,329.76 L547.25,329.85 L547.5,329.94 L547.75,330.03 L548,330.12 L548.25,330.21 L548.5,330.3 L548.75,330.39 L549,330.48 L549.25,330.57 L549.5,330.66 L549.75,330.75 L550,330.84 L550.25,330.93 L550.5,331.02 L550.75,331.11 L551,331.19 L551.25,331.28 L551.5,331.37 L551.75,331.46 L552,331.55 L552.25,331.64 L552.5,331.72 L552.75,331.81 L553,331.9 L553.25,331.99 L553.5,332.07 L553.75,332.16 L554,332.25 L554.25,332.33 L554.5,332.42 L554.75,332.51 L555,332.59 L555.25,332.68 L555.5,332.77 L555.75,332.85 L556,332.94 L556.25,333.03 L556.5,333.11 L556.75,333.2 L557,333.28 L557.25,333.37 L557.5,333.45 L557.75,333.54 L558,333.62 L558.25,333.71 L558.5,333.79 L558.75,333.88 L559,333.96 L559.25,334.05 L559.5,334.13 L559.75,334.22 L560,334.3 L560.25,334.38 L560.5,334.47 L560.75,334.55 L561,334.63 L561.25,334.72 L561.5,334.8 L561.75,334.88 L562,334.97 L562.25,335.05 L562.5,335.13 L562.75,335.22 L563,335.3 L563.25,335.38 L563.5,335.46 L563.75,335.54 L564,335.63 L564.25,335.71 L564.5,335.79 L564.75,335.87 L565,335.95 L565.25,336.03 L565.5,336.11 L565.75,336.19 L566,336.27 L566.25,336.36 L566.5,336.44 L566.75,336.52 L567,336.6 L567.25,336.67 L567.5,336.75 L567.75,336.83 L568,336.91 L568.25,336.99 L568.5,337.07 L568.75,337.15 L569,337.23 L569.25,337.31 L569.5,337.38 L569.75,337.46 L570,337.54 L570.25,337.62 L570.5,337.7 L570.75,337.77 L571,337.85 L571.25,337.93 L571.5,338 L571.75,338.08 L572,338.16 L572.25,338.23 L572.5,338.31 L572.75,338.38 L573,338.46 L573.25,338.53 L573.5,338.61 L573.75,338.68 L574,338.76 L574.25,338.83 L574.5,338.91 L574.75,338.98 L575,339.06 L575.25,339.13 L575.5,339.2 L575.75,339.28 L576,339.35 L576.25,339.42 L576.5,339.49 L576.75,339.57 L577,339.64 L577.25,339.71 L577.5,339.78 L577.75,339.85 L578,339.92 L578.25,339.99 L578.5,340.06 L578.75,340.13 L579,340.2 L579.25,340.27 L579.5,340.34 L579.75,340.41 L580,340.48 L580.25,340.55 L580.5,340.62 L580.75,340.69 L581,340.76 L581.25,340.82 L581.5,340.89 L581.75,340.96 L582,341.02 L582.25,341.09 L582.5,341.16 L582.75,341.22 L583,341.29 L583.25,341.35 L583.5,341.42 L583.75,341.48 L584,341.55 L584.25,341.61 L584.5,341.68 L584.75,341.74 L585,341.8 L585.25,341.86 L585.5,341.93 L585.75,341.99 L586,342.05 L586.25,342.11 L586.5,342.17 L586.75,342.23 L587,342.29 L587.25,342.36 L587.5,342.41 L587.75,342.47 L588,342.53 L588.25,342.59 L588.5,342.65 L588.75,342.71 L589,342.77 L589.25,342.82 L589.5,342.88 L589.75,342.94 L590,342.99 L590.25,343.05 L590.5,343.1 L590.75,343.16 L591,343.21 L591.25,343.27 L591.5,343.32 L591.75,343.37 L592,343.43 L592.25,343.48 L592.5,343.53 L592.75,343.58 L593,343.63 L593.25,343.69 L593.5,343.74 L593.75,343.79 L594,343.83 L594.25,343.88 L594.5,343.93 L594.75,343.98 L595,344.03" fill="none" stroke="#ff0000" stroke-width="1.5" stroke-linejoin="round"/>
<path d="M403.75,201.65 L404,202.17 L404.25,202.68 L404.5,203.2 L404.75,203.71 L405,204.22 L405.25,204.73 L405.5,205.24 L405.75,205.74 L406,206.25 L406.25,206.75 L406.5,207.25 L406.75,207.75 L407,208.24 L407.25,208.74 L407.5,209.23 L407.75,209.72 L408,210.21 L408.25,210.7 L408.5,211.19 L408.75,211.67 L409,212.15 L409.25,212.63 L409.5,213.11 L409.75,213.59 L410,214.07 L410.25,214.54 L410.5,215.02 L410.75,215.49 L411,215.96 L411.25,216.42 L411.5,216.89 L411.75,217.36 L412,217.82 L412.25,218.28 L412.5,218.74 L412.75,219.2 L413,219.65 L413.25,220.11 L413.5,220.56 L413.75,221.01 L414,221.46 L414.25,221.91 L414.5,222.36 L414.75,222.8 L415,223.25 L415.25,223.69 L415.5,224.13 L415.75,224.57 L416,225.01 L416.25,225.44 L416.5,225.88 L416.75,226.31 L417,226.74 L417.25,227.17 L417.5,227.6 L417.75,228.03 L418,228.45 L418.25,228.87 L418.5,229.3 L418.75,229.72 L419,230.14 L419.25,230.55 L419.5,230.97 L419.75,231.38 L420,231.8 L420.25,232.21 L420.5,232.62 L420.75,233.03 L421,233.44 L421.25,233.84 L421.5,234.25 L421.75,234.65 L422,235.05 L422.25,235.45 L422.5,235.85 L422.75,236.25 L423,236.64 L423.25,237.04 L423.5,237.43 L423.75,237.82 L424,238.21 L424.25,238.6 L424.5,238.99 L424.75,239.37 L425,239.76 L425.25,240.14 L425.5,240.52 L425.75,240.9 L426,241.28 L426.25,241.66 L426.5,242.03 L426.75,242.41 L427,242.78 L427.25,243.15 L427.5,243.52 L427.75,243.89 L428,244.26 L428.25,244.63 L428.5,244.99 L428.75,245.36 L429,245.72 L429.25,246.08 L429.5,246.44 L429.75,246.8 L430,247.16 L430.25,247.51 L430.5,247.87 L430.75,248.22 L431,248.58 L431.25,248.93 L431.5,249.28 L431.75,249.62 L432,249.97 L432.25,250.32 L432.5,250.66 L432.75,251.01 L433,251.35 L433.25,251.69 L433.5,252.03 L433.75,252.37 L434,252.7 L434.25,253.04 L434.5,253.38 L434.75,253.71 L435,254.04 L435.25,254.37 L435.5,254.7 L435.75,255.03 L436,255.36 L436.25,255.68 L436.5,256.01 L436.75,256.33 L437,256.66 L437.25,256.98 L437.5,257.3 L437.75,257.62 L438,257.94 L438.25,258.25 L438.5,258.57 L438.75,258.88 L439,259.2 L439.25,259.51 L439.5,259.82 L439.75,260.13 L440,260.44 L440.25,260.75 L440.5,261.05 L440.75,261.36 L441,261.66 L441.25,261.97 L441.5,262.27 L441.75,262.57 L442,262.87 L442.25,263.17 L442.5,263.47 L442.75,263.76 L443,264.06 L443.25,264.35 L443.5,264.65 L443.75,264.94 L444,265.23 L444.25,265.52 L444.5,265.81 L444.75,266.1 L445,266.38 L445.25,266.67 L445.5,266.95 L445.75,267.24 L446,267.52 L446.25,267.8 L446.5,268.08 L446.75,268.36 L447,268.64 L447.25,268.92 L447.5,269.2 L447.75,269.47 L448,269.75 L448.25,270.02 L448.5,270.29 L448.75,270.56 L449,270.83 L449.25,271.1 L449.5,271.37 L449.75,271.64 L450,271.91 L450.25,272.17 L450.5,272.44 L450.75,272.7 L451,272.96 L451.25,273.23 L451.5,273.49 L451.75,273.75 L452,274.01 L452.25,274.26 L452.5,274.52 L452.75,274.78 L453,275.03 L453.25,275.29 L453.5,275.54 L453.75,275.79 L454,276.04 L454.25,276.29 L454.5,276.54 L454.75,276.79 L455,277.04 L455.25,277.29 L455.5,277.53 L455.75,277.78 L456,278.02 L456.25,278.27 L456.5,278.51 L456.75,278.75 L457,278.99 L457.25,279.23 L457.5,279.47 L457.75,279.71 L458,279.95 L458.25,280.18 L458.5,280.42 L458.75,280.65 L459,280.89 L459.25,281.12 L459.5,281.35 L459.75,281.58 L460,281.81 L460.25,282.04 L460.5,282.27 L460.75,282.5 L461,282.73 L461.25,282.95 L461.5,283.18 L461.75,283.4 L462,283.63 L462.25,283.85 L462.5,284.07 L462.75,284.29 L463,284.51 L463.25,284.73 L463.5,284.95 L463.75,285.17 L464,285.39 L464.25,285.61 L464.5,285.82 L464.75,286.04 L465,286.25 L465.25,286.47 L465.5,286.68 L465.75,286.89 L466,287.1 L466.25,287.31 L466.5,287.52 L466.75,287.73 L467,287.94 L467.25,288.15 L467.5,288.35 L467.75,288.56 L468,288.77 L468.25,288.97 L468.5,289.17 L468.75,289.38 L469,289.58 L469.25,289.78 L469.5,289.98 L469.75,290.18 L470,290.38 L470.25,290.58 L470.5,290.78 L470.75,290.98 L471,291.17 L471.25,291.37 L471.5,291.57 L471.75,291.76 L472,291.95 L472.25,292.15 L472.5,292.34 L472.75,292.53 L473,292.72 L473.25,292.91 L473.5,293.1 L473.75,293.29 L474,293.48 L474.25,293.67 L474.5,293.86 L474.75,294.04 L475,294.23 L475.25,294.42 L475.5,294.6 L475.75,294.78 L476,294.97 L476.25,295.15 L476.5,295.33 L476.75,295.51 L477,295.69 L477.25,295.87 L477.5,296.05 L477.75,296.23 L478,296.41 L478.25,296.59 L478.5,296.77 L478.75,296.94 L479,297.12 L479.25,297.29 L479.5,297.47 L479.75,297.64 L480,297.82 L480.25,297.99 L480.5,298.16 L480.75,298.33 L481,298.5 L481.25,298.67 L481.5,298.84 L481.75,299.01 L482,299.18 L482.25,299.35 L482.5,299.52 L482.75,299.69 L483,299.85 L483.25,300.02 L483.5,300.18 L483.75,300.35 L484,300.51 L484.25,300.68 L484.5,300.84 L484.75,301 L485,301.16 L485.25,301.33 L485.5,301.49 L485.75,301.65 L486,301.81 L486.25,301.97 L486.5,302.12 L486.75,302.28 L487,302.44 L487.25,302.6 L487.5,302.75 L487.75,302.91 L488,303.07 L488.25,303.22 L488.5,303.37 L488.75,303.53 L489,303.68 L489.25,303.83 L489.5,303.99 L489.75,304.14 L490,304.29 L490.25,304.44 L490.5,304.59 L490.75,304.74 L491,304.89 L491.25,305.04 L491.5,305.19 L491.75,305.34 L492,305.48 L492.25,305.63 L492.5,305.78 L492.75,305.92 L493,306.07 L493.25,306.21 L493.5,306.36 L493.75,306.5 L494,306.65 L494.25,306.79 L494.5,306.93 L494.75,307.07 L495,307.21 L495.25,307.36 L495.5,307.5 L495.75,307.64 L496,307.78 L496.25,307.92 L496.5,308.05 L496.75,308.19 L497,308.33 L497.25,308.47 L497.5,308.61 L497.75,308.74 L498,308.88 L498.25,309.01 L498.5,309.15 L498.75,309.28 L499,309.42 L499.25,309.55 L499.5,309.69 L499.75,309.82 L500,309.95 L500.25,310.08 L500.5,310.22 L500.75,310.35 L501,310.48 L501.25,310.61 L501.5,310.74 L501.75,310.87 L502,311 L502.25,311.13 L502.5,311.25 L502.75,311.38 L503,311.51 L503.25,311.64 L503.5,311.76 L503.75,311.89 L504,312.02 L504.25,312.14 L504.5,312.27 L504.75,312.39 L505,312.51 L505.25,312.64 L505.5,312.76 L505.75,312.89 L506,313.01 L506.25,313.13 L506.5,313.25 L506.75,313.37 L507,313.49 L507.25,313.61 L507.5,313.74 L507.75,313.86 L508,313.97 L508.25,314.09 L508.5,314.21 L508.75,314.33 L509,314.45 L509.25,314.57 L509.5,314.68 L509.75,314.8 L510,314.92 L510.25,315.03 L510.5,315.15 L510.75,315.26 L511,315.38 L511.25,315.49 L511.5,315.61 L511.75,315.72 L512,315.83 L512.25,315.95 L512.5,316.06 L512.75,316.17 L513,316.28 L513.25,316.39 L513.5,316.51 L513.75,316.62 L514,316.73 L514.25,316.84 L514.5,316.95 L514.75,317.06 L515,317.17 L515.25,317.27 L515.5,317.38 L515.75,317.49 L516,317.6 L516.25,317.7 L516.5,317.81 L516.75,317.92 L517,318.02 L517.25,318.13 L517.5,318.23 L517.75,318.34 L518,318.44 L518.25,318.55 L518.5,318.65 L518.75,318.76 L519,318.86 L519.25,318.96 L519.5,319.06 L519.75,319.17 L520,319.27 L520.25,319.37 L520.5,319.47 L520.75,319.57 L521,319.67 L521.25,319.77 L521.5,319.87 L521.75,319.97 L522,320.07 L522.25,320.17 L522.5,320.27 L522.75,320.37 L523,320.46 L523.25,320.56 L523.5,320.66 L523.75,320.75 L524,320.85 L524.25,320.95 L524.5,321.04 L524.75,321.14 L525,321.23 L525.25,321.33 L525.5,321.42 L525.75,321.52 L526,321.61 L526.25,321.7 L526.5,321.8 L526.75,321.89 L527,321.98 L527.25,322.07 L527.5,322.16 L527.75,322.25 L528,322.35 L528.25,322.44 L528.5,322.53 L528.75,322.62 L529,322.71 L529.25,322.79 L529.5,322.88 L529.75,322.97 L530,323.06 L530.25,323.15 L530.5,323.24 L530.75,323.32 L531,323.41 L531.25,323.5 L531.5,323.58 L531.75,323.67 L532,323.75 L532.25,323.84 L532.5,323.92 L532.75,324.01 L533,324.09 L533.25,324.18 L533.5,324.26 L533.75,324.34 L534,324.42 L534.25,324.51 L534.5,324.59 L534.75,324.67 L535,324.75 L535.25,324.83 L535.5,324.91 L535.75,324.99 L536,325.07 L536.25,325.15 L536.5,325.23 L536.75,325.31 L537,325.39 L537.25,325.47 L537.5,325.55 L537.75,325.62 L538,325.7 L538.25,325.78 L538.5,325.85 L538.75,325.93 L539,326.01 L539.25,326.08 L539.5,326.16 L539.75,326.23 L540,326.31 L540.25,326.38 L540.5,326.45 L540.75,326.53 L541,326.6 L541.25,326.67 L541.5,326.74 L541.75,326.82 L542,326.89 L542.25,326.96 L542.5,327.03 L542.75,327.1 L543,327.17 L543.25,327.24 L543.5,327.31 L543.75,327.38 L544,327.45 L544.25,327.51 L544.5,327.58 L544.75,327.65 L545,327.72 L545.25,327.78 L545.5,327.85 L545.75,327.92 L546,327.98 L546.25,328.05 L546.5,328.11 L546.75,328.18 L547,328.24 L547.25,328.3 L547.5,328.37 L547.75,328.43 L548,328.49 L548.25,328.56 L548.5,328.62 L548.75,328.68 L549,328.74 L549.25,328.8 L549.5,328.86 L549.75,328.92 L550,328.98 L550.25,329.04 L550.5,329.1 L550.75,329.16 L551,329.21 L551.25,329.27 L551.5,329.33 L551.75,329.39 L552,329.44 L552.25,329.5 L552.5,329.55 L552.75,329.61 L553,329.66 L553.25,329.72 L553.5,329.77 L553.75,329.82 L554,329.88 L554.25,329.93 L554.5,329.98 L554.75,330.03 L555,330.09 L555.25,330.14 L555.5,330.19 L555.75,330.24 L556,330.29 L556.25,330.34 L556.5,330.38 L556.75,330.43 L557,330.48 L557.25,330.53 L557.5,330.58 L557.75,330.62 L558,330.67 L558.25,330.71 L558.5,330.76 L558.75,330.8 L559,330.85 L559.25,330.89 L559.5,330.94 L559.75,330.98 L560,331.02 L560.25,331.06 L560.5,331.11 L560.75,331.15 L561,331.19 L561.25,331.23 L561.5,331.27 L561.75,331.31 L562,331.35 L562.25,331.38 L562.5,331.42 L562.75,331.46 L563,331.5 L563.25,331.53 L563.5,331.57 L563.75,331.6 L564,331.64 L564.25,331.67 L564.5,331.71 L564.75,331.74 L565,331.77 L565.25,331.81 L565.5,331.84 L565.75,331.87 L566,331.9 L566.25,331.93 L566.5,331.96 L566.75,331.99 L567,332.02 L567.25,332.05 L567.5,332.08 L567.75,332.1 L568,332.13 L568.25,332.16 L568.5,332.18 L568.75,332.21 L569,332.23 L569.25,332.26 L569.5,332.28 L569.75,332.3 L570,332.33 L570.25,332.35 L570.5,332.37 L570.75,332.39 L571,332.41 L571.25,332.43 L571.5,332.45 L571.75,332.47 L572,332.49 L572.25,332.5 L572.5,332.52 L572.75,332.54 L573,332.55" fill="none" stroke="#ff0000" stroke-width="1.5" stroke-linejoin="round"/>
<path d="M573,332.55 L573.47,332.43 L573.95,332.31 L574.42,332.19 L574.9,332.07 L575.37,331.96 L575.85,331.85 L576.33,331.74 L576.81,331.64 L577.28,331.54 L577.76,331.45 L578.25,331.37 L578.73,331.29 L579.21,331.22 L579.7,331.15 L580.18,331.08 L580.67,331.01 L581.15,330.93 L581.64,330.86 L582.12,330.77 L582.6,330.68 L583.07,330.58 L583.54,330.47 L584.01,330.34 L584.48,330.21 L584.95,330.06 L585.41,329.9 L585.88,329.74 L586.34,329.57 L586.8,329.4" fill="none" stroke="#ff0000" stroke-width="1.2" stroke-dasharray="3 2.3" stroke-linejoin="round"/>
<path d="M422.8,201.54 L423.05,201.97 L423.3,202.41 L423.55,202.84 L423.8,203.27 L424.05,203.69 L424.3,204.12 L424.55,204.54 L424.8,204.96 L425.05,205.38 L425.3,205.79 L425.55,206.2 L425.8,206.61 L426.05,207.02 L426.3,207.43 L426.55,207.83 L426.8,208.24 L427.05,208.64 L427.3,209.03 L427.55,209.43 L427.8,209.83 L428.05,210.22 L428.3,210.61 L428.55,211 L428.8,211.38 L429.05,211.77 L429.3,212.15 L429.55,212.53 L429.8,212.91 L430.05,213.29 L430.3,213.66 L430.55,214.03 L430.8,214.4 L431.05,214.77 L431.3,215.14 L431.55,215.51 L431.8,215.87 L432.05,216.24 L432.3,216.6 L432.55,216.96 L432.8,217.31 L433.05,217.67 L433.3,218.03 L433.55,218.38 L433.8,218.73 L434.05,219.08 L434.3,219.43 L434.55,219.77 L434.8,220.12 L435.05,220.46 L435.3,220.81 L435.55,221.15 L435.8,221.49 L436.05,221.82 L436.3,222.16 L436.55,222.49 L436.8,222.83 L437.05,223.16 L437.3,223.49 L437.55,223.82 L437.8,224.15 L438.05,224.47 L438.3,224.8 L438.55,225.12 L438.8,225.44 L439.05,225.77 L439.3,226.09 L439.55,226.4 L439.8,226.72 L440.05,227.04 L440.3,227.35 L440.55,227.66 L440.8,227.98 L441.05,228.29 L441.3,228.6 L441.55,228.91 L441.8,229.21 L442.05,229.52 L442.3,229.82 L442.55,230.13 L442.8,230.43 L443.05,230.73 L443.3,231.03 L443.55,231.33 L443.8,231.63 L444.05,231.93 L444.3,232.22 L444.55,232.52 L444.8,232.81 L445.05,233.1 L445.3,233.39 L445.55,233.68 L445.8,233.97 L446.05,234.26 L446.3,234.55 L446.55,234.83 L446.8,235.12 L447.05,235.4 L447.3,235.68 L447.55,235.97 L447.8,236.25 L448.05,236.53 L448.3,236.8 L448.55,237.08 L448.8,237.36 L449.05,237.63 L449.3,237.91 L449.55,238.18 L449.8,238.45 L450.05,238.73 L450.3,239 L450.55,239.27 L450.8,239.54 L451.05,239.8 L451.3,240.07 L451.55,240.34 L451.8,240.6 L452.05,240.87 L452.3,241.13 L452.55,241.39 L452.8,241.65 L453.05,241.91 L453.3,242.17 L453.55,242.43 L453.8,242.69 L454.05,242.94 L454.3,243.2 L454.55,243.45 L454.8,243.71 L455.05,243.96 L455.3,244.21 L455.55,244.47 L455.8,244.72 L456.05,244.97 L456.3,245.21 L456.55,245.46 L456.8,245.71 L457.05,245.95 L457.3,246.2 L457.55,246.44 L457.8,246.69 L458.05,246.93 L458.3,247.17 L458.55,247.41 L458.8,247.65 L459.05,247.89 L459.3,248.13 L459.55,248.37 L459.8,248.6 L460.05,248.84 L460.3,249.07 L460.55,249.31 L460.8,249.54 L461.05,249.77 L461.3,250.01 L461.55,250.24 L461.8,250.47 L462.05,250.69 L462.3,250.92 L462.55,251.15 L462.8,251.38 L463.05,251.6 L463.3,251.83 L463.55,252.05 L463.8,252.27 L464.05,252.5 L464.3,252.72 L464.55,252.94 L464.8,253.16 L465.05,253.38 L465.3,253.6 L465.55,253.81 L465.8,254.03 L466.05,254.25 L466.3,254.46 L466.55,254.68 L466.8,254.89 L467.05,255.1 L467.3,255.31 L467.55,255.52 L467.8,255.73 L468.05,255.94 L468.3,256.15 L468.55,256.36 L468.8,256.57 L469.05,256.77 L469.3,256.98 L469.55,257.18 L469.8,257.39 L470.05,257.59 L470.3,257.79 L470.55,257.99 L470.8,258.19 L471.05,258.39 L471.3,258.59 L471.55,258.79 L471.8,258.99 L472.05,259.18 L472.3,259.38 L472.55,259.57 L472.8,259.77 L473.05,259.96 L473.3,260.15 L473.55,260.34 L473.8,260.54 L474.05,260.73 L474.3,260.91 L474.55,261.1 L474.8,261.29 L475.05,261.48 L475.3,261.66 L475.55,261.85 L475.8,262.03 L476.05,262.22 L476.3,262.4 L476.55,262.58 L476.8,262.76 L477.05,262.94 L477.3,263.12 L477.55,263.3 L477.8,263.48 L478.05,263.65 L478.3,263.83 L478.55,264.01 L478.8,264.18 L479.05,264.35 L479.3,264.53 L479.55,264.7 L479.8,264.87 L480.05,265.04 L480.3,265.21 L480.55,265.38 L480.8,265.55 L481.05,265.71 L481.3,265.88 L481.55,266.05 L481.8,266.21 L482.05,266.37 L482.3,266.54 L482.55,266.7 L482.8,266.86 L483.05,267.02 L483.3,267.18 L483.55,267.34 L483.8,267.5 L484.05,267.66 L484.3,267.81 L484.55,267.97 L484.8,268.12 L485.05,268.28 L485.3,268.43 L485.55,268.58 L485.8,268.74 L486.05,268.89 L486.3,269.04 L486.55,269.19 L486.8,269.33 L487.05,269.48 L487.3,269.63 L487.55,269.77 L487.8,269.92 L488.05,270.06 L488.3,270.21 L488.55,270.35 L488.8,270.49 L489.05,270.63 L489.3,270.77 L489.55,270.91 L489.8,271.05 L490.05,271.19 L490.3,271.32 L490.55,271.46 L490.8,271.6 L491.05,271.73 L491.3,271.86 L491.55,272 L491.8,272.13 L492.05,272.26 L492.3,272.39 L492.55,272.52 L492.8,272.65 L493.05,272.78 L493.3,272.9 L493.55,273.03 L493.8,273.15 L494.05,273.28 L494.3,273.4 L494.55,273.53 L494.8,273.65 L495.05,273.77 L495.3,273.89 L495.55,274.01 L495.8,274.13 L496.05,274.25 L496.3,274.36 L496.55,274.48 L496.8,274.6 L497.05,274.71 L497.3,274.82 L497.55,274.94 L497.8,275.05 L498.05,275.16 L498.3,275.27 L498.55,275.38 L498.8,275.49 L499.05,275.6 L499.3,275.71 L499.55,275.81 L499.8,275.92 L500.05,276.02 L500.3,276.13 L500.55,276.23 L500.8,276.33 L501.05,276.44 L501.3,276.54 L501.55,276.64 L501.8,276.74 L502.05,276.84 L502.3,276.93 L502.55,277.03 L502.8,277.13 L503.05,277.22 L503.3,277.32 L503.55,277.41 L503.8,277.5 L504.05,277.6 L504.3,277.69 L504.55,277.78 L504.8,277.87 L505.05,277.96 L505.3,278.04 L505.55,278.13 L505.8,278.22 L506.05,278.3 L506.3,278.39 L506.55,278.47 L506.8,278.56 L507.05,278.64 L507.3,278.72 L507.55,278.8 L507.8,278.88 L508.05,278.96 L508.3,279.04 L508.55,279.12 L508.8,279.2 L509.05,279.27 L509.3,279.35 L509.55,279.42 L509.8,279.5 L510.05,279.57 L510.3,279.64 L510.55,279.72 L510.8,279.79 L511.05,279.86 L511.3,279.93 L511.55,280 L511.8,280.06 L512.05,280.13 L512.3,280.2 L512.55,280.26 L512.8,280.33 L513.05,280.39 L513.3,280.46 L513.55,280.52 L513.8,280.58 L514.05,280.64 L514.3,280.7 L514.55,280.76 L514.8,280.82 L515.05,280.88 L515.3,280.94 L515.55,280.99 L515.8,281.05 L516.05,281.1 L516.3,281.16 L516.55,281.21 L516.8,281.27 L517.05,281.32 L517.3,281.37 L517.55,281.42 L517.8,281.47 L518.05,281.52 L518.3,281.57 L518.55,281.62 L518.8,281.66 L519.05,281.71 L519.3,281.75 L519.55,281.8 L519.8,281.84 L520.05,281.89 L520.3,281.93 L520.55,281.97 L520.8,282.01 L521.05,282.05 L521.3,282.09 L521.55,282.13 L521.8,282.17 L522.05,282.21 L522.3,282.24 L522.55,282.28 L522.8,282.32 L523.05,282.35 L523.3,282.38 L523.55,282.42 L523.8,282.45 L524.05,282.48 L524.3,282.51 L524.55,282.54 L524.8,282.57 L525.05,282.6 L525.3,282.63 L525.55,282.66 L525.8,282.69 L526.05,282.71 L526.3,282.74 L526.55,282.76 L526.8,282.79 L527.05,282.81 L527.3,282.83 L527.55,282.85 L527.8,282.88 L528.05,282.9 L528.3,282.92 L528.55,282.93 L528.8,282.95 L529.05,282.97 L529.3,282.99 L529.55,283 L529.8,283.02 L530.05,283.03 L530.3,283.05 L530.55,283.06 L530.8,283.08 L531.05,283.09 L531.3,283.1 L531.55,283.11 L531.8,283.12 L532.05,283.13 L532.3,283.14 L532.55,283.15 L532.8,283.15 L533.05,283.16 L533.3,283.16 L533.55,283.17 L533.8,283.17 L534.05,283.18 L534.3,283.18 L534.55,283.18 L534.8,283.18 L535.05,283.18 L535.3,283.18 L535.55,283.18 L535.8,283.18 L536.05,283.18 L536.3,283.18 L536.55,283.17 L536.8,283.17 L537.05,283.16 L537.3,283.16 L537.55,283.15 L537.8,283.14 L538.05,283.14 L538.3,283.13 L538.55,283.12 L538.8,283.11 L539.05,283.1 L539.3,283.09 L539.55,283.07 L539.8,283.06 L540.05,283.05 L540.3,283.03 L540.55,283.02 L540.8,283 L541.05,282.98 L541.3,282.97 L541.55,282.95 L541.8,282.93 L542.05,282.91 L542.3,282.89 L542.55,282.87 L542.8,282.84 L543.05,282.82 L543.3,282.8 L543.55,282.77 L543.8,282.75 L544.05,282.72 L544.3,282.69 L544.55,282.66 L544.8,282.64 L545.05,282.61 L545.3,282.58 L545.55,282.54 L545.8,282.51 L546.05,282.48 L546.3,282.45 L546.55,282.41 L546.8,282.38 L547.05,282.34 L547.3,282.3 L547.55,282.26 L547.8,282.22 L548.05,282.19 L548.3,282.14 L548.55,282.1 L548.8,282.06 L549.05,282.02 L549.3,281.97 L549.55,281.93 L549.8,281.88 L550.05,281.83 L550.3,281.79 L550.55,281.74 L550.8,281.69 L551.05,281.64 L551.3,281.58 L551.55,281.53 L551.8,281.48 L552.05,281.42 L552.3,281.37 L552.55,281.31 L552.8,281.25 L553.05,281.19 L553.3,281.13 L553.55,281.07 L553.8,281.01 L554.05,280.95 L554.3,280.88 L554.55,280.82 L554.8,280.75 L555.05,280.68 L555.3,280.62 L555.55,280.55 L555.8,280.48 L556.05,280.4 L556.3,280.33 L556.55,280.26 L556.8,280.18 L557.05,280.1 L557.3,280.03 L557.55,279.95 L557.8,279.87 L558.05,279.79 L558.3,279.7 L558.55,279.62 L558.8,279.53 L559.05,279.45 L559.3,279.36 L559.55,279.27 L559.8,279.18 L560.05,279.09 L560.3,279 L560.55,278.9 L560.8,278.81 L561.05,278.71 L561.3,278.61 L561.55,278.51 L561.8,278.41 L562.05,278.31 L562.3,278.2 L562.55,278.1 L562.8,277.99 L563.05,277.88 L563.3,277.77 L563.55,277.66 L563.8,277.54 L564.05,277.43 L564.3,277.31 L564.55,277.19 L564.8,277.07 L565.05,276.95 L565.3,276.83 L565.55,276.7 L565.8,276.58 L566.05,276.45 L566.3,276.32 L566.55,276.19 L566.8,276.05 L567.05,275.92 L567.3,275.78 L567.55,275.64 L567.8,275.5 L568.05,275.36 L568.3,275.21 L568.55,275.07 L568.8,274.92 L569.05,274.77 L569.3,274.62 L569.55,274.46 L569.8,274.31 L570.05,274.15 L570.3,273.99 L570.55,273.82 L570.8,273.66 L571.05,273.49 L571.3,273.32 L571.55,273.15 L571.8,272.98 L572.05,272.8 L572.3,272.63 L572.55,272.44 L572.8,272.26" fill="none" stroke="#ff8000" stroke-width="1.2" stroke-linejoin="round"/>
<path d="M573,272.11 L573.1,272.04 L573.2,271.97 L573.3,271.89 L573.4,271.81 L573.5,271.74 L573.6,271.66 L573.7,271.59 L573.8,271.51 L573.9,271.43 L574,271.35 L574.1,271.27 L574.2,271.2 L574.3,271.12 L574.4,271.04 L574.5,270.96 L574.6,270.88 L574.7,270.8 L574.8,270.71 L574.9,270.63 L575,270.55 L575.1,270.47 L575.2,270.39 L575.3,270.3 L575.4,270.22 L575.5,270.13 L575.6,270.05 L575.7,269.97 L575.8,269.88 L575.9,269.79 L576,269.71 L576.1,269.62 L576.2,269.53 L576.3,269.45 L576.4,269.36 L576.5,269.27 L576.6,269.18 L576.7,269.09 L576.8,269 L576.9,268.91 L577,268.82 L577.1,268.73 L577.2,268.64 L577.3,268.55 L577.4,268.45 L577.5,268.36 L577.6,268.27 L577.7,268.17 L577.8,268.08 L577.9,267.99 L578,267.89 L578.1,267.79 L578.2,267.7 L578.3,267.6 L578.4,267.5 L578.5,267.41 L578.6,267.31 L578.7,267.21 L578.8,267.11 L578.9,267.01 L579,266.91 L579.1,266.81 L579.2,266.71 L579.3,266.61 L579.4,266.51 L579.5,266.4 L579.6,266.3 L579.7,266.2 L579.8,266.09 L579.9,265.99 L580,265.88 L580.1,265.78 L580.2,265.67 L580.3,265.56 L580.4,265.46 L580.5,265.35 L580.6,265.24 L580.7,265.13 L580.8,265.02 L580.9,264.91 L581,264.8 L581.1,264.69 L581.2,264.58 L581.3,264.47 L581.4,264.36 L581.5,264.24 L581.6,264.13 L581.7,264.01 L581.8,263.9 L581.9,263.78 L582,263.67 L582.1,263.55 L582.2,263.43 L582.3,263.32 L582.4,263.2 L582.5,263.08 L582.6,262.96 L582.7,262.84 L582.8,262.72 L582.9,262.6 L583,262.48 L583.1,262.36 L583.2,262.23 L583.3,262.11 L583.4,261.99 L583.5,261.86 L583.6,261.74 L583.7,261.61 L583.8,261.48 L583.9,261.36 L584,261.23 L584.1,261.1 L584.2,260.97 L584.3,260.84 L584.4,260.71 L584.5,260.58 L584.6,260.45 L584.7,260.32 L584.8,260.18 L584.9,260.05 L585,259.92 L585.1,259.78 L585.2,259.65 L585.3,259.51 L585.4,259.37 L585.5,259.24 L585.6,259.1 L585.7,258.96 L585.8,258.82 L585.9,258.68 L586,258.54 L586.1,258.4 L586.2,258.26 L586.3,258.12 L586.4,257.97 L586.5,257.83 L586.6,257.68 L586.7,257.54 L586.8,257.39 L586.9,257.25 L587,257.1 L587.1,256.95 L587.2,256.8 L587.3,256.65 L587.4,256.5 L587.5,256.35 L587.6,256.2 L587.7,256.05 L587.8,255.89 L587.9,255.74 L588,255.59 L588.1,255.43 L588.2,255.27 L588.3,255.12 L588.4,254.96 L588.5,254.8 L588.6,254.64 L588.7,254.48 L588.8,254.32 L588.9,254.16 L589,254 L589.1,253.84 L589.2,253.67 L589.3,253.51 L589.4,253.34 L589.5,253.18 L589.6,253.01 L589.7,252.84 L589.8,252.68 L589.9,252.51 L590,252.34 L590.1,252.17 L590.2,251.99 L590.3,251.82 L590.4,251.65 L590.5,251.48 L590.6,251.3 L590.7,251.13 L590.8,250.95 L590.9,250.77 L591,250.59 L591.1,250.42 L591.2,250.24 L591.3,250.06 L591.4,249.88 L591.5,249.69 L591.6,249.51 L591.7,249.33 L591.8,249.14 L591.9,248.96 L592,248.77 L592.1,248.58 L592.2,248.39 L592.3,248.21 L592.4,248.02 L592.5,247.83 L592.6,247.63 L592.7,247.44 L592.8,247.25 L592.9,247.05 L593,246.86 L593.1,246.66 L593.2,246.47 L593.3,246.27 L593.4,246.07 L593.5,245.87 L593.6,245.67 L593.7,245.47 L593.8,245.27 L593.9,245.06 L594,244.86 L594.1,244.65 L594.2,244.45 L594.3,244.24 L594.4,244.03 L594.5,243.82 L594.6,243.61 L594.7,243.4 L594.8,243.19 L594.9,242.98 L595,242.76 L595.1,242.55 L595.2,242.33 L595.3,242.12 L595.4,241.9 L595.5,241.68 L595.6,241.46 L595.7,241.24 L595.8,241.02 L595.9,240.79 L596,240.57 L596.1,240.35 L596.2,240.12 L596.3,239.89 L596.4,239.66 L596.5,239.44 L596.6,239.21 L596.7,238.97 L596.8,238.74 L596.9,238.51 L597,238.28 L597.1,238.04 L597.2,237.8 L597.3,237.57 L597.4,237.33 L597.5,237.09 L597.6,236.85 L597.7,236.61 L597.8,236.36 L597.9,236.12 L598,235.88 L598.1,235.63 L598.2,235.38 L598.3,235.13 L598.4,234.89 L598.5,234.63 L598.6,234.38 L598.7,234.13 L598.8,233.88 L598.9,233.62 L599,233.37 L599.1,233.11 L599.2,232.85 L599.3,232.59 L599.4,232.33 L599.5,232.07 L599.6,231.8 L599.7,231.54 L599.8,231.28 L599.9,231.01 L600,230.74 L600.1,230.47 L600.2,230.2 L600.3,229.93 L600.4,229.66 L600.5,229.38 L600.6,229.11 L600.7,228.83 L600.8,228.56 L600.9,228.28 L601,228 L601.1,227.72 L601.2,227.43 L601.3,227.15 L601.4,226.87 L601.5,226.58 L601.6,226.29 L601.7,226 L601.8,225.71 L601.9,225.42 L602,225.13 L602.1,224.84 L602.2,224.54 L602.3,224.25 L602.4,223.95 L602.5,223.65 L602.6,223.35 L602.7,223.05 L602.8,222.74 L602.9,222.44 L603,222.13 L603.1,221.83 L603.2,221.52 L603.3,221.21 L603.4,220.9 L603.5,220.59 L603.6,220.27 L603.7,219.96 L603.8,219.64 L603.9,219.33 L604,219.01 L604.1,218.69 L604.2,218.36 L604.3,218.04 L604.4,217.72 L604.5,217.39 L604.6,217.06 L604.7,216.73 L604.8,216.4 L604.9,216.07 L605,215.74 L605.1,215.4 L605.2,215.07 L605.3,214.73 L605.4,214.39 L605.5,214.05 L605.6,213.71 L605.7,213.37 L605.8,213.02 L605.9,212.67 L606,212.33 L606.1,211.98 L606.2,211.63 L606.3,211.27 L606.4,210.92 L606.5,210.57 L606.6,210.21 L606.7,209.85 L606.8,209.49 L606.9,209.13 L607,208.77 L607.1,208.4 L607.2,208.04 L607.3,207.67 L607.4,207.3 L607.5,206.93 L607.6,206.56 L607.7,206.18 L607.8,205.81 L607.9,205.43 L608,205.05 L608.1,204.67 L608.2,204.29 L608.3,203.9 L608.4,203.52 L608.5,203.13 L608.6,202.74 L608.7,202.35" fill="none" stroke="#ff8000" stroke-width="1.2" stroke-dasharray="2.5 2" stroke-linejoin="round"/>
<path d="M436,201.66 L436.25,202.01 L436.5,202.35 L436.75,202.69 L437,203.04 L437.25,203.38 L437.5,203.71 L437.75,204.05 L438,204.39 L438.25,204.72 L438.5,205.05 L438.75,205.38 L439,205.72 L439.25,206.04 L439.5,206.37 L439.75,206.7 L440,207.02 L440.25,207.35 L440.5,207.67 L440.75,207.99 L441,208.31 L441.25,208.63 L441.5,208.95 L441.75,209.27 L442,209.58 L442.25,209.9 L442.5,210.21 L442.75,210.52 L443,210.83 L443.25,211.14 L443.5,211.45 L443.75,211.76 L444,212.07 L444.25,212.37 L444.5,212.68 L444.75,212.98 L445,213.28 L445.25,213.58 L445.5,213.88 L445.75,214.18 L446,214.48 L446.25,214.77 L446.5,215.07 L446.75,215.36 L447,215.66 L447.25,215.95 L447.5,216.24 L447.75,216.53 L448,216.82 L448.25,217.11 L448.5,217.39 L448.75,217.68 L449,217.96 L449.25,218.25 L449.5,218.53 L449.75,218.81 L450,219.09 L450.25,219.37 L450.5,219.65 L450.75,219.92 L451,220.2 L451.25,220.47 L451.5,220.75 L451.75,221.02 L452,221.29 L452.25,221.56 L452.5,221.83 L452.75,222.1 L453,222.37 L453.25,222.64 L453.5,222.9 L453.75,223.17 L454,223.43 L454.25,223.69 L454.5,223.95 L454.75,224.21 L455,224.47 L455.25,224.73 L455.5,224.99 L455.75,225.24 L456,225.5 L456.25,225.75 L456.5,226.01 L456.75,226.26 L457,226.51 L457.25,226.76 L457.5,227.01 L457.75,227.25 L458,227.5 L458.25,227.75 L458.5,227.99 L458.75,228.23 L459,228.48 L459.25,228.72 L459.5,228.96 L459.75,229.2 L460,229.44 L460.25,229.67 L460.5,229.91 L460.75,230.15 L461,230.38 L461.25,230.61 L461.5,230.84 L461.75,231.08 L462,231.31 L462.25,231.53 L462.5,231.76 L462.75,231.99 L463,232.21 L463.25,232.44 L463.5,232.66 L463.75,232.89 L464,233.11 L464.25,233.33 L464.5,233.55 L464.75,233.76 L465,233.98 L465.25,234.2 L465.5,234.41 L465.75,234.63 L466,234.84 L466.25,235.05 L466.5,235.26 L466.75,235.47 L467,235.68 L467.25,235.89 L467.5,236.09 L467.75,236.3 L468,236.5 L468.25,236.71 L468.5,236.91 L468.75,237.11 L469,237.31 L469.25,237.51 L469.5,237.71 L469.75,237.9 L470,238.1 L470.25,238.29 L470.5,238.49 L470.75,238.68 L471,238.87 L471.25,239.06 L471.5,239.25 L471.75,239.44 L472,239.62 L472.25,239.81 L472.5,239.99 L472.75,240.18 L473,240.36 L473.25,240.54 L473.5,240.72 L473.75,240.9 L474,241.08 L474.25,241.25 L474.5,241.43 L474.75,241.6 L475,241.78 L475.25,241.95 L475.5,242.12 L475.75,242.29 L476,242.46 L476.25,242.63 L476.5,242.79 L476.75,242.96 L477,243.12 L477.25,243.29 L477.5,243.45 L477.75,243.61 L478,243.77 L478.25,243.93 L478.5,244.09 L478.75,244.24 L479,244.4 L479.25,244.55 L479.5,244.7 L479.75,244.86 L480,245.01 L480.25,245.16 L480.5,245.31 L480.75,245.45 L481,245.6 L481.25,245.75 L481.5,245.89 L481.75,246.03 L482,246.18 L482.25,246.32 L482.5,246.46 L482.75,246.6 L483,246.73 L483.25,246.87 L483.5,247 L483.75,247.14 L484,247.27 L484.25,247.4 L484.5,247.54 L484.75,247.66 L485,247.79 L485.25,247.92 L485.5,248.05 L485.75,248.17 L486,248.3 L486.25,248.42 L486.5,248.54 L486.75,248.66 L487,248.78 L487.25,248.9 L487.5,249.02 L487.75,249.14 L488,249.25 L488.25,249.37 L488.5,249.48 L488.75,249.59 L489,249.7 L489.25,249.81 L489.5,249.92 L489.75,250.03 L490,250.14 L490.25,250.24 L490.5,250.35 L490.75,250.45 L491,250.55 L491.25,250.65 L491.5,250.75 L491.75,250.85 L492,250.95 L492.25,251.05 L492.5,251.15 L492.75,251.24 L493,251.33 L493.25,251.43 L493.5,251.52 L493.75,251.61 L494,251.7 L494.25,251.79 L494.5,251.88 L494.75,251.96 L495,252.05 L495.25,252.13 L495.5,252.22 L495.75,252.3 L496,252.38 L496.25,252.46 L496.5,252.54 L496.75,252.62 L497,252.69 L497.25,252.77 L497.5,252.85 L497.75,252.92 L498,252.99 L498.25,253.07 L498.5,253.14 L498.75,253.21 L499,253.28 L499.25,253.35 L499.5,253.41 L499.75,253.48 L500,253.54 L500.25,253.61 L500.5,253.67 L500.75,253.73 L501,253.79 L501.25,253.86 L501.5,253.91 L501.75,253.97 L502,254.03 L502.25,254.09 L502.5,254.14 L502.75,254.2 L503,254.25 L503.25,254.3 L503.5,254.35 L503.75,254.41 L504,254.46 L504.25,254.5 L504.5,254.55 L504.75,254.6 L505,254.65 L505.25,254.69 L505.5,254.73 L505.75,254.78 L506,254.82 L506.25,254.86 L506.5,254.9 L506.75,254.94 L507,254.98 L507.25,255.02 L507.5,255.05 L507.75,255.09 L508,255.13 L508.25,255.16 L508.5,255.19 L508.75,255.23 L509,255.26 L509.25,255.29 L509.5,255.32 L509.75,255.35 L510,255.37 L510.25,255.4 L510.5,255.43 L510.75,255.45 L511,255.48 L511.25,255.5 L511.5,255.52 L511.75,255.55 L512,255.57 L512.25,255.59 L512.5,255.61 L512.75,255.62 L513,255.64 L513.25,255.66 L513.5,255.67 L513.75,255.69 L514,255.7 L514.25,255.72 L514.5,255.73 L514.75,255.74 L515,255.75 L515.25,255.76 L515.5,255.77 L515.75,255.78 L516,255.79 L516.25,255.79 L516.5,255.8 L516.75,255.8 L517,255.81 L517.25,255.81 L517.5,255.81 L517.75,255.81 L518,255.81 L518.25,255.81 L518.5,255.81 L518.75,255.81 L519,255.81 L519.25,255.8 L519.5,255.8 L519.75,255.79 L520,255.79 L520.25,255.78 L520.5,255.77 L520.75,255.77 L521,255.76 L521.25,255.75 L521.5,255.73 L521.75,255.72 L522,255.71 L522.25,255.7 L522.5,255.68 L522.75,255.67 L523,255.65 L523.25,255.63 L523.5,255.61 L523.75,255.6 L524,255.58 L524.25,255.56 L524.5,255.53 L524.75,255.51 L525,255.49 L525.25,255.46 L525.5,255.44 L525.75,255.41 L526,255.39 L526.25,255.36 L526.5,255.33 L526.75,255.3 L527,255.27 L527.25,255.24 L527.5,255.21 L527.75,255.17 L528,255.14 L528.25,255.1 L528.5,255.07 L528.75,255.03 L529,254.99 L529.25,254.95 L529.5,254.91 L529.75,254.87 L530,254.83 L530.25,254.79 L530.5,254.74 L530.75,254.7 L531,254.65 L531.25,254.6 L531.5,254.56 L531.75,254.51 L532,254.46 L532.25,254.41 L532.5,254.35 L532.75,254.3 L533,254.25 L533.25,254.19 L533.5,254.13 L533.75,254.07 L534,254.02 L534.25,253.96 L534.5,253.89 L534.75,253.83 L535,253.77 L535.25,253.7 L535.5,253.64 L535.75,253.57 L536,253.5 L536.25,253.43 L536.5,253.36 L536.75,253.29 L537,253.21 L537.25,253.14 L537.5,253.06 L537.75,252.98 L538,252.91 L538.25,252.82 L538.5,252.74 L538.75,252.66 L539,252.58 L539.25,252.49 L539.5,252.4 L539.75,252.31 L540,252.22 L540.25,252.13 L540.5,252.04 L540.75,251.94 L541,251.84 L541.25,251.75 L541.5,251.65 L541.75,251.54 L542,251.44 L542.25,251.34 L542.5,251.23 L542.75,251.12 L543,251.01 L543.25,250.9 L543.5,250.78 L543.75,250.67 L544,250.55 L544.25,250.43 L544.5,250.31 L544.75,250.19 L545,250.06 L545.25,249.94 L545.5,249.81 L545.75,249.68 L546,249.54 L546.25,249.41 L546.5,249.27 L546.75,249.13 L547,248.99 L547.25,248.85 L547.5,248.7 L547.75,248.55 L548,248.4 L548.25,248.25 L548.5,248.09 L548.75,247.94 L549,247.78 L549.25,247.61 L549.5,247.45 L549.75,247.28 L550,247.11 L550.25,246.94 L550.5,246.76 L550.75,246.58 L551,246.4 L551.25,246.22 L551.5,246.03 L551.75,245.84 L552,245.65 L552.25,245.46 L552.5,245.26 L552.75,245.06 L553,244.86 L553.25,244.65 L553.5,244.44 L553.75,244.23 L554,244.01 L554.25,243.79 L554.5,243.57 L554.75,243.34 L555,243.11 L555.25,242.88 L555.5,242.64 L555.75,242.4 L556,242.16 L556.25,241.91 L556.5,241.66 L556.75,241.41 L557,241.15 L557.25,240.89 L557.5,240.62 L557.75,240.35 L558,240.08 L558.25,239.8 L558.5,239.52 L558.75,239.23 L559,238.94 L559.25,238.64 L559.5,238.35 L559.75,238.04 L560,237.73 L560.25,237.42 L560.5,237.11 L560.75,236.78 L561,236.46 L561.25,236.13 L561.5,235.79 L561.75,235.45 L562,235.11 L562.25,234.76 L562.5,234.4 L562.75,234.04 L563,233.67 L563.25,233.3 L563.5,232.93 L563.75,232.55 L564,232.16 L564.25,231.77 L564.5,231.37 L564.75,230.96 L565,230.55 L565.25,230.14 L565.5,229.72 L565.75,229.29 L566,228.86 L566.25,228.42 L566.5,227.97 L566.75,227.52 L567,227.06 L567.25,226.6 L567.5,226.12 L567.75,225.65 L568,225.16 L568.25,224.67 L568.5,224.17 L568.75,223.67 L569,223.16 L569.25,222.64 L569.5,222.11 L569.75,221.58 L570,221.03 L570.25,220.49 L570.5,219.93" fill="none" stroke="#ff8000" stroke-width="1.2" stroke-linejoin="round"/>
<path d="M570.5,219.93 L570.55,219.82 L570.6,219.71 L570.65,219.59 L570.7,219.48 L570.75,219.37 L570.8,219.25 L570.85,219.14 L570.9,219.02 L570.95,218.91 L571,218.79 L571.05,218.68 L571.1,218.56 L571.15,218.45 L571.2,218.33 L571.25,218.21 L571.3,218.1 L571.35,217.98 L571.4,217.86 L571.45,217.75 L571.5,217.63 L571.55,217.51 L571.6,217.39 L571.65,217.27 L571.7,217.15 L571.75,217.03 L571.8,216.91 L571.85,216.79 L571.9,216.67 L571.95,216.55 L572,216.43 L572.05,216.31 L572.1,216.18 L572.15,216.06 L572.2,215.94 L572.25,215.82 L572.3,215.69 L572.35,215.57 L572.4,215.45 L572.45,215.32 L572.5,215.2 L572.55,215.07 L572.6,214.95 L572.65,214.82 L572.7,214.69 L572.75,214.57 L572.8,214.44 L572.85,214.31 L572.9,214.19 L572.95,214.06 L573,213.93 L573.05,213.8 L573.1,213.67 L573.15,213.54 L573.2,213.42 L573.25,213.29 L573.3,213.16 L573.35,213.02 L573.4,212.89 L573.45,212.76 L573.5,212.63 L573.55,212.5 L573.6,212.37 L573.65,212.23 L573.7,212.1 L573.75,211.97 L573.8,211.83 L573.85,211.7 L573.9,211.57 L573.95,211.43 L574,211.3 L574.05,211.16 L574.1,211.02 L574.15,210.89 L574.2,210.75 L574.25,210.61 L574.3,210.48 L574.35,210.34 L574.4,210.2 L574.45,210.06 L574.5,209.92 L574.55,209.79 L574.6,209.65 L574.65,209.51 L574.7,209.37 L574.75,209.22 L574.8,209.08 L574.85,208.94 L574.9,208.8 L574.95,208.66 L575,208.52 L575.05,208.37 L575.1,208.23 L575.15,208.09 L575.2,207.94 L575.25,207.8 L575.3,207.65 L575.35,207.51 L575.4,207.36 L575.45,207.22 L575.5,207.07 L575.55,206.92 L575.6,206.78 L575.65,206.63 L575.7,206.48 L575.75,206.33 L575.8,206.18 L575.85,206.03 L575.9,205.88 L575.95,205.73 L576,205.58 L576.05,205.43 L576.1,205.28 L576.15,205.13 L576.2,204.98 L576.25,204.83 L576.3,204.67 L576.35,204.52 L576.4,204.37 L576.45,204.21 L576.5,204.06 L576.55,203.91 L576.6,203.75 L576.65,203.59 L576.7,203.44 L576.75,203.28 L576.8,203.13 L576.85,202.97 L576.9,202.81 L576.95,202.65 L577,202.49 L577.05,202.34 L577.1,202.18 L577.15,202.02 L577.2,201.86 L577.25,201.7 L577.3,201.54" fill="none" stroke="#ff8000" stroke-width="1.2" stroke-dasharray="2.5 2" stroke-linejoin="round"/>
<path d="M587.12,343.71 L587.74,343.63 L588.36,343.56 L588.98,343.48 L589.6,343.41 L590.22,343.34 L590.84,343.27 L591.46,343.2 L592.09,343.14 L592.71,343.07 L593.33,343.01 L593.96,342.96 L594.59,342.9 L595.21,342.85 L595.84,342.81 L596.47,342.77 L597.09,342.72 L597.7,342.68 L598.32,342.63 L598.92,342.58 L599.52,342.52 L600.11,342.44 L600.69,342.36 L601.26,342.25 L601.84,342.13 L602.41,341.99 L602.99,341.84 L603.57,341.67 L604.15,341.49 L604.74,341.3 L605.33,341.11 L605.93,340.91 L606.52,340.72 L607.11,340.52 L607.71,340.33 L608.3,340.13 L608.88,339.94 L609.46,339.74 L610.05,339.54 L610.63,339.34 L611.21,339.13 L611.79,338.92 L612.37,338.7 L612.94,338.48 L613.52,338.26 L614.1,338.04 L614.67,337.82 L615.25,337.59 L615.82,337.36 L616.39,337.13 L616.96,336.89 L617.53,336.65 L618.1,336.41 L618.67,336.17 L619.23,335.92 L619.79,335.67 L620.35,335.41 L620.9,335.15 L621.45,334.89 L622,334.62 L622.54,334.34 L623.08,334.06 L623.61,333.77 L624.15,333.48 L624.68,333.18 L625.21,332.87 L625.74,332.56 L626.27,332.24 L626.79,331.92 L627.31,331.59 L627.83,331.26 L628.35,330.93 L628.86,330.59 L629.38,330.25 L629.89,329.91 L630.4,329.56 L630.91,329.21 L631.41,328.86 L631.92,328.5 L632.42,328.15 L632.92,327.78 L633.41,327.42 L633.9,327.05 L634.39,326.67 L634.87,326.29 L635.34,325.91 L635.81,325.52 L636.27,325.13 L636.73,324.74 L637.18,324.33 L637.62,323.92 L638.06,323.51 L638.49,323.09 L638.93,322.66 L639.35,322.22 L639.78,321.78 L640.2,321.33 L640.62,320.88 L641.03,320.43 L641.44,319.97 L641.85,319.5 L642.25,319.03 L642.65,318.56 L643.04,318.09 L643.43,317.61 L643.81,317.14 L644.19,316.66 L644.56,316.17 L644.93,315.69 L645.3,315.2 L645.66,314.71 L646.01,314.21 L646.36,313.71 L646.71,313.21 L647.06,312.7 L647.4,312.18 L647.74,311.67 L648.08,311.15 L648.41,310.63 L648.74,310.11 L649.07,309.58 L649.4,309.06 L649.72,308.53 L650.04,308 L650.36,307.47 L650.67,306.94 L650.98,306.41 L651.29,305.88 L651.6,305.35 L651.91,304.81 L652.21,304.27 L652.51,303.73 L652.8,303.19 L653.09,302.65 L653.38,302.1 L653.67,301.56 L653.96,301.01 L654.24,300.46 L654.52,299.91 L654.8,299.36 L655.07,298.8 L655.35,298.25 L655.63,297.69 L655.9,297.13 L656.18,296.58 L656.45,296.02 L656.71,295.46 L656.97,294.91 L657.23,294.35 L657.48,293.79 L657.72,293.23 L657.95,292.67 L658.17,292.11 L658.38,291.55 L658.59,290.98 L658.78,290.41 L658.97,289.84 L659.14,289.26 L659.32,288.67 L659.49,288.08 L659.65,287.49 L659.81,286.89 L659.98,286.29 L660.13,285.69 L660.29,285.09 L660.46,284.49 L660.62,283.88 L660.78,283.28 L660.94,282.68 L661.1,282.08 L661.26,281.48 L661.42,280.88 L661.58,280.28 L661.74,279.68 L661.9,279.08 L662.06,278.48 L662.22,277.88 L662.37,277.28 L662.53,276.68 L662.68,276.07 L662.83,275.47 L662.98,274.87 L663.13,274.27 L663.27,273.67 L663.42,273.07 L663.56,272.47 L663.7,271.87 L663.83,271.27 L663.96,270.66 L664.1,270.06 L664.22,269.46 L664.35,268.85 L664.47,268.25 L664.6,267.64 L664.72,267.03 L664.84,266.42 L664.97,265.81 L665.09,265.2 L665.21,264.6 L665.33,263.99 L665.44,263.38 L665.56,262.77 L665.68,262.16 L665.79,261.55 L665.9,260.94 L666.01,260.33 L666.12,259.72 L666.23,259.11 L666.33,258.5 L666.44,257.89 L666.54,257.27 L666.64,256.66 L666.74,256.05 L666.83,255.44 L666.93,254.83 L667.02,254.22 L667.1,253.61 L667.19,253 L667.27,252.39 L667.35,251.77 L667.43,251.16 L667.51,250.55 L667.58,249.94 L667.65,249.32 L667.73,248.71 L667.8,248.09 L667.86,247.48 L667.93,246.86 L668,246.25 L668.07,245.63 L668.13,245.01 L668.19,244.4 L668.26,243.78 L668.32,243.16 L668.38,242.55 L668.44,241.93 L668.5,241.31 L668.56,240.69 L668.62,240.07 L668.67,239.46 L668.73,238.84 L668.79,238.22 L668.84,237.6 L668.89,236.98 L668.95,236.36 L669,235.74 L669.05,235.12 L669.1,234.5 L669.15,233.88 L669.2,233.26 L669.25,232.65 L669.29,232.03 L669.34,231.41 L669.39,230.79 L669.43,230.17 L669.48,229.55 L669.52,228.93 L669.57,228.31 L669.61,227.69 L669.65,227.07 L669.7,226.45 L669.74,225.83 L669.78,225.21 L669.82,224.59 L669.86,223.97 L669.9,223.35 L669.94,222.73 L669.98,222.11 L670.02,221.49 L670.06,220.87 L670.1,220.25 L670.14,219.63 L670.17,219.01 L670.21,218.39 L670.25,217.77 L670.29,217.15 L670.32,216.53 L670.36,215.91 L670.39,215.29 L670.43,214.67 L670.46,214.05 L670.49,213.43 L670.53,212.81 L670.56,212.19 L670.59,211.57 L670.62,210.95 L670.65,210.33 L670.68,209.71 L670.71,209.09 L670.74,208.47 L670.77,207.85 L670.8,207.23 L670.83,206.61 L670.85,205.99 L670.88,205.37 L670.91,204.74 L670.93,204.12 L670.95,203.5 L670.98,202.88 L671,202.26" fill="none" stroke="#0000ff" stroke-width="1.15" stroke-linejoin="round"/>
<path d="M587.38,345.79 L588,345.72 L588.61,345.64 L589.23,345.57 L589.84,345.49 L590.46,345.42 L591.07,345.35 L591.69,345.29 L592.3,345.22 L592.92,345.16 L593.53,345.1 L594.14,345.05 L594.76,345 L595.37,344.95 L595.99,344.9 L596.61,344.86 L597.23,344.82 L597.86,344.77 L598.49,344.72 L599.12,344.67 L599.75,344.6 L600.39,344.53 L601.03,344.43 L601.66,344.32 L602.3,344.18 L602.93,344.03 L603.55,343.86 L604.17,343.68 L604.78,343.49 L605.39,343.3 L605.99,343.1 L606.59,342.91 L607.18,342.71 L607.77,342.52 L608.36,342.32 L608.95,342.13 L609.55,341.93 L610.14,341.73 L610.74,341.52 L611.33,341.32 L611.92,341.1 L612.51,340.89 L613.1,340.67 L613.69,340.45 L614.27,340.22 L614.86,340 L615.44,339.77 L616.02,339.54 L616.6,339.31 L617.19,339.07 L617.77,338.83 L618.35,338.59 L618.93,338.34 L619.51,338.09 L620.08,337.84 L620.66,337.58 L621.23,337.32 L621.8,337.05 L622.37,336.78 L622.94,336.5 L623.5,336.21 L624.06,335.92 L624.62,335.62 L625.17,335.31 L625.72,335 L626.27,334.68 L626.82,334.36 L627.36,334.03 L627.9,333.7 L628.43,333.37 L628.96,333.03 L629.49,332.69 L630.02,332.34 L630.54,332 L631.06,331.65 L631.58,331.3 L632.1,330.94 L632.62,330.58 L633.13,330.22 L633.65,329.85 L634.16,329.48 L634.67,329.1 L635.18,328.72 L635.68,328.33 L636.18,327.94 L636.67,327.54 L637.16,327.13 L637.64,326.72 L638.12,326.31 L638.59,325.89 L639.05,325.46 L639.51,325.03 L639.96,324.59 L640.41,324.14 L640.86,323.69 L641.3,323.23 L641.74,322.77 L642.17,322.3 L642.59,321.83 L643.02,321.35 L643.44,320.88 L643.85,320.39 L644.26,319.91 L644.66,319.42 L645.06,318.93 L645.45,318.44 L645.84,317.95 L646.23,317.45 L646.61,316.95 L646.99,316.45 L647.36,315.94 L647.72,315.43 L648.09,314.91 L648.45,314.39 L648.8,313.87 L649.15,313.35 L649.5,312.82 L649.84,312.29 L650.18,311.76 L650.52,311.23 L650.85,310.69 L651.18,310.16 L651.51,309.62 L651.84,309.09 L652.16,308.55 L652.48,308.01 L652.8,307.47 L653.11,306.93 L653.43,306.39 L653.73,305.84 L654.04,305.29 L654.35,304.74 L654.65,304.19 L654.95,303.64 L655.24,303.09 L655.53,302.53 L655.82,301.97 L656.11,301.41 L656.39,300.86 L656.67,300.3 L656.95,299.74 L657.23,299.18 L657.51,298.62 L657.79,298.06 L658.06,297.5 L658.34,296.93 L658.61,296.36 L658.88,295.79 L659.14,295.21 L659.4,294.63 L659.65,294.05 L659.9,293.46 L660.13,292.87 L660.35,292.27 L660.57,291.68 L660.77,291.07 L660.97,290.47 L661.15,289.87 L661.33,289.26 L661.51,288.65 L661.68,288.05 L661.84,287.44 L662,286.83 L662.16,286.23 L662.32,285.63 L662.48,285.03 L662.64,284.43 L662.81,283.83 L662.97,283.23 L663.13,282.62 L663.29,282.02 L663.45,281.42 L663.61,280.82 L663.77,280.22 L663.93,279.61 L664.09,279.01 L664.25,278.41 L664.41,277.8 L664.56,277.2 L664.72,276.59 L664.87,275.98 L665.02,275.38 L665.17,274.77 L665.32,274.16 L665.46,273.55 L665.6,272.94 L665.74,272.33 L665.88,271.72 L666.02,271.11 L666.15,270.5 L666.28,269.89 L666.41,269.28 L666.53,268.67 L666.66,268.06 L666.78,267.45 L666.9,266.84 L667.03,266.22 L667.15,265.61 L667.27,265 L667.39,264.39 L667.51,263.77 L667.62,263.16 L667.74,262.55 L667.85,261.93 L667.97,261.32 L668.08,260.7 L668.19,260.08 L668.3,259.47 L668.4,258.85 L668.51,258.23 L668.61,257.62 L668.71,257 L668.81,256.38 L668.91,255.76 L669,255.14 L669.09,254.52 L669.18,253.9 L669.27,253.28 L669.35,252.66 L669.44,252.04 L669.52,251.42 L669.59,250.81 L669.67,250.19 L669.74,249.57 L669.81,248.95 L669.88,248.33 L669.95,247.71 L670.02,247.09 L670.09,246.47 L670.15,245.85 L670.22,245.23 L670.28,244.61 L670.35,243.99 L670.41,243.37 L670.47,242.75 L670.53,242.13 L670.59,241.51 L670.65,240.89 L670.71,240.27 L670.77,239.65 L670.82,239.02 L670.88,238.4 L670.93,237.78 L670.99,237.16 L671.04,236.54 L671.09,235.92 L671.14,235.29 L671.19,234.67 L671.24,234.05 L671.29,233.43 L671.34,232.81 L671.39,232.19 L671.44,231.56 L671.48,230.94 L671.53,230.32 L671.57,229.7 L671.62,229.08 L671.66,228.46 L671.71,227.83 L671.75,227.21 L671.79,226.59 L671.83,225.97 L671.88,225.35 L671.92,224.73 L671.96,224.11 L672,223.49 L672.04,222.87 L672.08,222.24 L672.12,221.62 L672.16,221 L672.19,220.38 L672.23,219.76 L672.27,219.14 L672.31,218.52 L672.35,217.9 L672.38,217.27 L672.42,216.65 L672.45,216.03 L672.49,215.41 L672.52,214.79 L672.56,214.16 L672.59,213.54 L672.62,212.92 L672.66,212.3 L672.69,211.68 L672.72,211.05 L672.75,210.43 L672.78,209.81 L672.81,209.19 L672.84,208.57 L672.87,207.94 L672.9,207.32 L672.93,206.7 L672.95,206.07 L672.98,205.45 L673,204.83 L673.03,204.21 L673.05,203.58 L673.08,202.96 L673.1,202.34" fill="none" stroke="#0000ff" stroke-width="1.15" stroke-linejoin="round"/>
<path d="M586.9,329.4 L586.9,344.6 L594,344.6" fill="none" stroke="#0000ff" stroke-width="1.3" stroke-linejoin="round"/>
<path d="M575,339.06 L575.25,339.13 L575.5,339.2 L575.75,339.28 L576,339.35 L576.25,339.42 L576.5,339.49 L576.75,339.57 L577,339.64 L577.25,339.71 L577.5,339.78 L577.75,339.85 L578,339.92 L578.25,339.99 L578.5,340.06 L578.75,340.13 L579,340.2 L579.25,340.27 L579.5,340.34 L579.75,340.41 L580,340.48 L580.25,340.55 L580.5,340.62 L580.75,340.69 L581,340.76 L581.25,340.82 L581.5,340.89 L581.75,340.96 L582,341.02 L582.25,341.09 L582.5,341.16 L582.75,341.22 L583,341.29 L583.25,341.35 L583.5,341.42 L583.75,341.48 L584,341.55 L584.25,341.61 L584.5,341.68 L584.75,341.74 L585,341.8 L585.25,341.86 L585.5,341.93 L585.75,341.99 L586,342.05 L586.25,342.11 L586.5,342.17 L586.75,342.23 L587,342.29 L587.25,342.36 L587.5,342.41 L587.75,342.47 L588,342.53 L588.25,342.59 L588.5,342.65 L588.75,342.71 L589,342.77 L589.25,342.82 L589.5,342.88 L589.75,342.94 L590,342.99 L590.25,343.05 L590.5,343.1 L590.75,343.16 L591,343.21 L591.25,343.27 L591.5,343.32 L591.75,343.37 L592,343.43 L592.25,343.48 L592.5,343.53 L592.75,343.58 L593,343.63 L593.25,343.69 L593.5,343.74 L593.75,343.79 L594,343.83 L594.25,343.88 L594.5,343.93 L594.75,343.98 L595,344.03" fill="none" stroke="#ff0000" stroke-width="1.3" stroke-linejoin="round"/>
<path d="M422.06,371.3v-2.8 M422.06,201.6v2.8 M458.68,371.3v-2.8 M458.68,201.6v2.8 M495.3,371.3v-2.8 M495.3,201.6v2.8 M531.92,371.3v-2.8 M531.92,201.6v2.8 M568.54,371.3v-2.8 M568.54,201.6v2.8 M605.16,371.3v-2.8 M605.16,201.6v2.8 M641.78,371.3v-2.8 M641.78,201.6v2.8 M678.4,371.3v-2.8 M678.4,201.6v2.8 M407.41,371.3v-1.8 M407.41,201.6v1.8 M414.74,371.3v-1.8 M414.74,201.6v1.8 M429.38,371.3v-1.8 M429.38,201.6v1.8 M436.71,371.3v-1.8 M436.71,201.6v1.8 M444.03,371.3v-1.8 M444.03,201.6v1.8 M451.36,371.3v-1.8 M451.36,201.6v1.8 M466,371.3v-1.8 M466,201.6v1.8 M473.33,371.3v-1.8 M473.33,201.6v1.8 M480.65,371.3v-1.8 M480.65,201.6v1.8 M487.98,371.3v-1.8 M487.98,201.6v1.8 M502.62,371.3v-1.8 M502.62,201.6v1.8 M509.95,371.3v-1.8 M509.95,201.6v1.8 M517.27,371.3v-1.8 M517.27,201.6v1.8 M524.6,371.3v-1.8 M524.6,201.6v1.8 M539.24,371.3v-1.8 M539.24,201.6v1.8 M546.57,371.3v-1.8 M546.57,201.6v1.8 M553.89,371.3v-1.8 M553.89,201.6v1.8 M561.22,371.3v-1.8 M561.22,201.6v1.8 M575.86,371.3v-1.8 M575.86,201.6v1.8 M583.19,371.3v-1.8 M583.19,201.6v1.8 M590.51,371.3v-1.8 M590.51,201.6v1.8 M597.84,371.3v-1.8 M597.84,201.6v1.8 M612.48,371.3v-1.8 M612.48,201.6v1.8 M619.81,371.3v-1.8 M619.81,201.6v1.8 M627.13,371.3v-1.8 M627.13,201.6v1.8 M634.46,371.3v-1.8 M634.46,201.6v1.8 M649.1,371.3v-1.8 M649.1,201.6v1.8 M656.43,371.3v-1.8 M656.43,201.6v1.8 M663.75,371.3v-1.8 M663.75,201.6v1.8 M671.08,371.3v-1.8 M671.08,201.6v1.8 M403.75,371h2.8 M678.4,371h-2.8 M403.75,328.65h2.8 M678.4,328.65h-2.8 M403.75,286.3h2.8 M678.4,286.3h-2.8 M403.75,243.95h2.8 M678.4,243.95h-2.8 M403.75,201.6h2.8 M678.4,201.6h-2.8 M403.75,362.53h1.8 M678.4,362.53h-1.8 M403.75,354.06h1.8 M678.4,354.06h-1.8 M403.75,345.59h1.8 M678.4,345.59h-1.8 M403.75,337.12h1.8 M678.4,337.12h-1.8 M403.75,320.18h1.8 M678.4,320.18h-1.8 M403.75,311.71h1.8 M678.4,311.71h-1.8 M403.75,303.24h1.8 M678.4,303.24h-1.8 M403.75,294.77h1.8 M678.4,294.77h-1.8 M403.75,277.83h1.8 M678.4,277.83h-1.8 M403.75,269.36h1.8 M678.4,269.36h-1.8 M403.75,260.89h1.8 M678.4,260.89h-1.8 M403.75,252.42h1.8 M678.4,252.42h-1.8 M403.75,235.48h1.8 M678.4,235.48h-1.8 M403.75,227.01h1.8 M678.4,227.01h-1.8 M403.75,218.54h1.8 M678.4,218.54h-1.8 M403.75,210.07h1.8 M678.4,210.07h-1.8" stroke="#000" stroke-width="1" fill="none"/>
<rect x="403.75" y="201.6" width="274.65" height="169.7" fill="none" stroke="#000" stroke-width="1.3"/>
<text x="422.06" y="382.2" text-anchor="middle" font-size="9.7">0.3</text>
<text x="458.68" y="382.2" text-anchor="middle" font-size="9.7">0.4</text>
<text x="495.3" y="382.2" text-anchor="middle" font-size="9.7">0.5</text>
<text x="531.92" y="382.2" text-anchor="middle" font-size="9.7">0.6</text>
<text x="568.54" y="382.2" text-anchor="middle" font-size="9.7">0.7</text>
<text x="605.16" y="382.2" text-anchor="middle" font-size="9.7">0.8</text>
<text x="641.78" y="382.2" text-anchor="middle" font-size="9.7">0.9</text>
<text x="678.4" y="382.2" text-anchor="middle" font-size="9.7">1.0</text>
<text x="401.75" y="374.49" text-anchor="end" font-size="9.7">10</text>
<text x="401.75" y="332.14" text-anchor="end" font-size="9.7">20</text>
<text x="401.75" y="289.79" text-anchor="end" font-size="9.7">30</text>
<text x="401.75" y="247.44" text-anchor="end" font-size="9.7">40</text>
<text x="401.75" y="205.09" text-anchor="end" font-size="9.7">50</text>
<g transform="translate(541.6,396) scale(1.2,1)"><text x="0" y="0" text-anchor="middle" font-size="10.6" font-weight="bold"><tspan font-style="italic">V</tspan><tspan font-style="italic" font-size="7.419999999999999" dy="2">R</tspan><tspan dy="-2"> / V</tspan></text></g>
<text transform="translate(385.6,315.4) rotate(-90)" font-size="12" font-weight="bold"><tspan font-style="italic" font-size="12" dx="-0.6">V</tspan><tspan font-size="8.5" dy="1.6" dx="-0.3">min</tspan><tspan dy="-1.6"> [TeV]</tspan></text>
</svg></body></html>
